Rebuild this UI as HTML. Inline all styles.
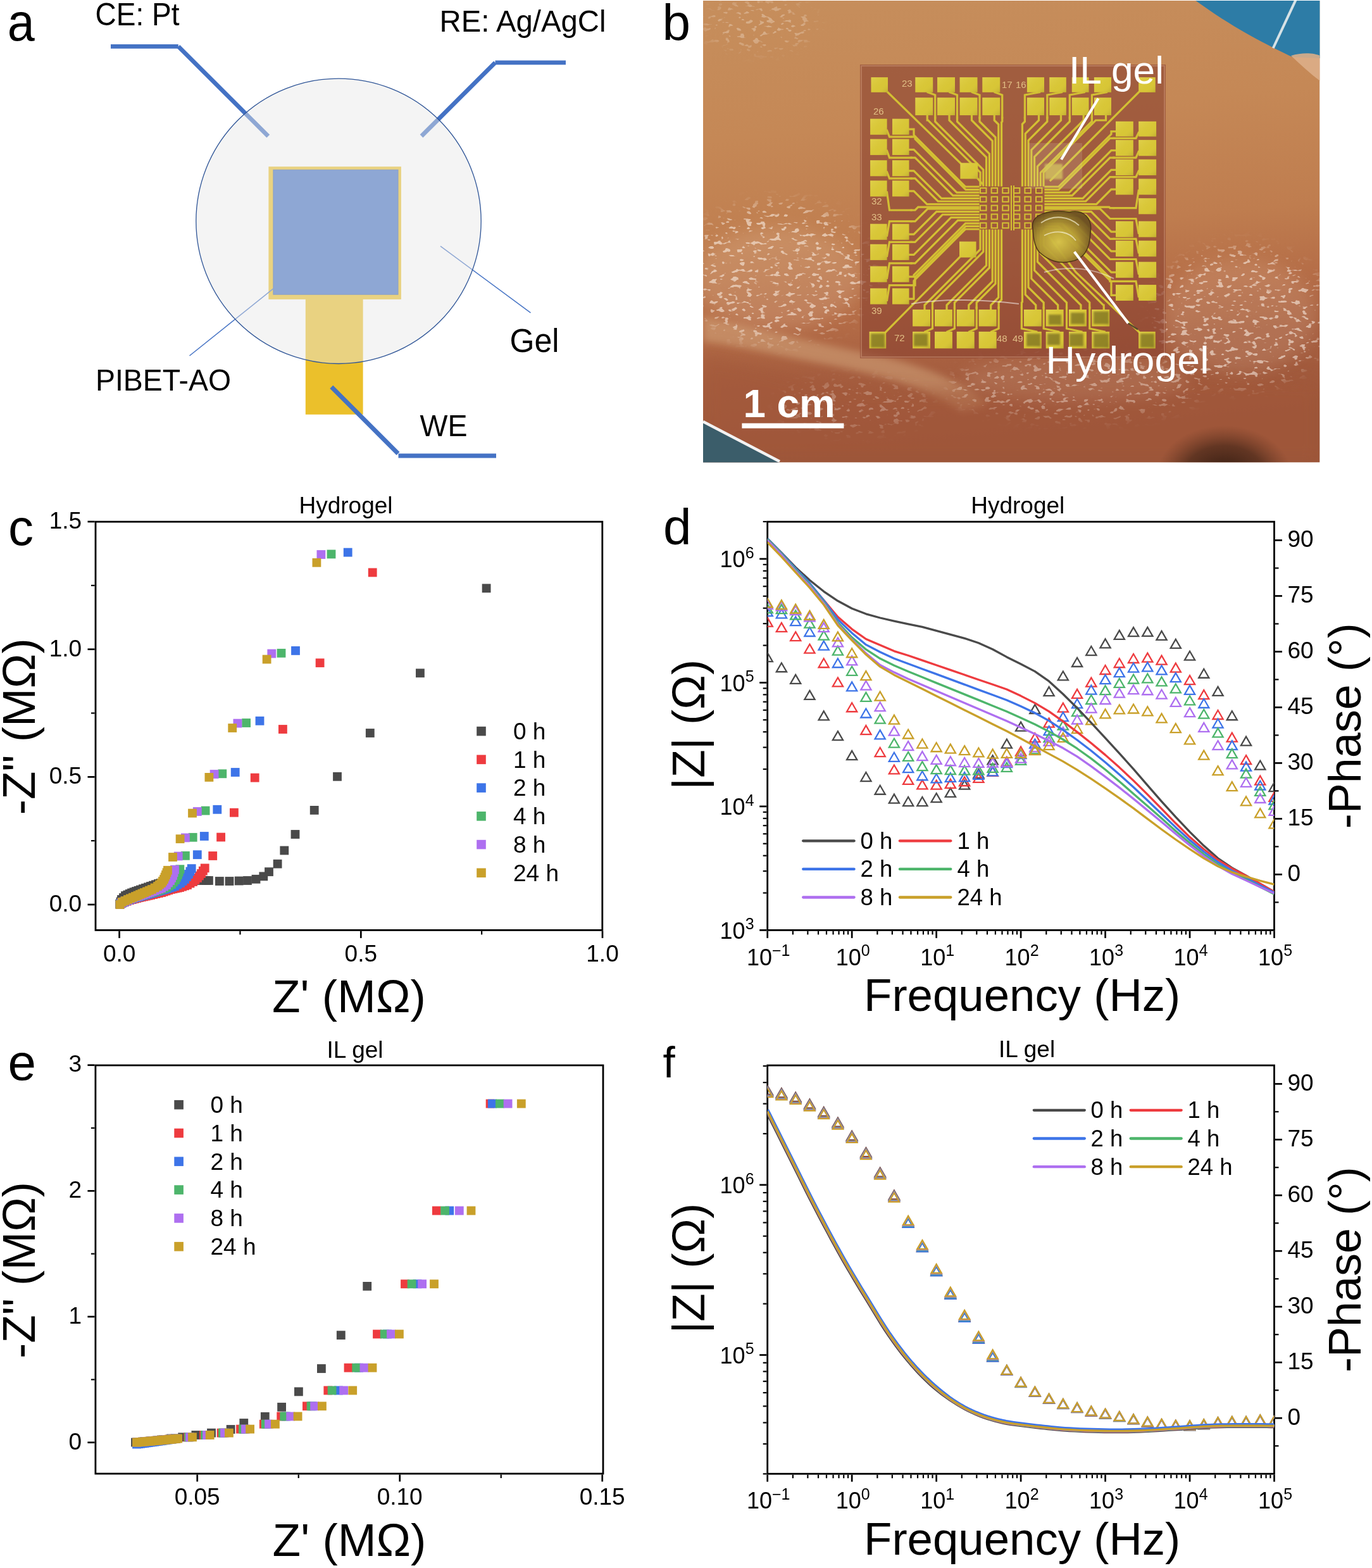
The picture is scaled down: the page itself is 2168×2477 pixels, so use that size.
<!DOCTYPE html><html><head><meta charset="utf-8"><style>html,body{margin:0;padding:0;background:#fff;}svg{display:block}</style></head><body>
<svg xmlns="http://www.w3.org/2000/svg" width="2168" height="2477" viewBox="0 0 2168 2477">
<rect width="2168" height="2477" fill="#fff"/>
<text x="11.8" y="63.5" font-family="'Liberation Sans', Arial, sans-serif" font-size="84" textLength="43" lengthAdjust="spacingAndGlyphs">a</text>
<g stroke="#4472c4" stroke-width="6.8" fill="none">
<line x1="175" y1="73.4" x2="281.8" y2="73.4"/>
<line x1="281.8" y1="73.4" x2="423.8" y2="215.2"/>
<line x1="666" y1="215" x2="782.5" y2="98.8"/>
<line x1="782.5" y1="98.8" x2="894" y2="98.8"/>
</g>
<rect x="424.4" y="263.2" width="209.5" height="209.7" fill="#ebc02b"/>
<rect x="482.8" y="472" width="90.8" height="182.8" fill="#ebc02b"/>
<rect x="431.9" y="268.3" width="197.1" height="196.9" fill="#4472c4" stroke="#3a63ad" stroke-width="1"/>
<line x1="696" y1="388.8" x2="838.5" y2="494.2" stroke="#4472c4" stroke-width="1.5"/>
<line x1="432.3" y1="455.7" x2="299.5" y2="562" stroke="#4472c4" stroke-width="1.5"/>
<circle cx="535" cy="349.3" r="225.2" fill="rgb(231,230,230)" fill-opacity="0.46" stroke="#2f5597" stroke-width="1.3"/>
<g stroke="#4472c4" stroke-width="7" fill="none">
<line x1="523.8" y1="611.3" x2="629" y2="716.5"/>
<line x1="629.5" y1="720" x2="784" y2="720"/>
</g>
<text x="150.5" y="39.9" font-family="'Liberation Sans', Arial, sans-serif" font-size="50.5" textLength="133" lengthAdjust="spacingAndGlyphs">CE: Pt</text>
<text x="694.5" y="49.9" font-family="'Liberation Sans', Arial, sans-serif" font-size="48.2" textLength="263" lengthAdjust="spacingAndGlyphs">RE: Ag/AgCl</text>
<text x="805.5" y="555.5" font-family="'Liberation Sans', Arial, sans-serif" font-size="51" textLength="78" lengthAdjust="spacingAndGlyphs">Gel</text>
<text x="151" y="617" font-family="'Liberation Sans', Arial, sans-serif" font-size="49" textLength="214" lengthAdjust="spacingAndGlyphs">PIBET-AO</text>
<text x="663.5" y="689" font-family="'Liberation Sans', Arial, sans-serif" font-size="49" textLength="75" lengthAdjust="spacingAndGlyphs">WE</text>
<defs><clipPath id="pc"><rect x="1111" y="1" width="974.5" height="729.5"/></clipPath><linearGradient id="bgv" x1="0" y1="0" x2="0.12" y2="1"><stop offset="0" stop-color="#c68e5c"/><stop offset="0.3" stop-color="#c58856"/><stop offset="0.55" stop-color="#bf7d4f"/><stop offset="0.7" stop-color="#b56d47"/><stop offset="0.82" stop-color="#a75f40"/><stop offset="1" stop-color="#9b5539"/></linearGradient><radialGradient id="br" cx="0.845" cy="1.03" r="0.11"><stop offset="0" stop-color="#2a160d" stop-opacity="0.95"/><stop offset="0.6" stop-color="#3a2014" stop-opacity="0.6"/><stop offset="1" stop-color="#5a2f1d" stop-opacity="0"/></radialGradient><filter id="bl6" x="-20%" y="-20%" width="140%" height="140%"><feGaussianBlur stdDeviation="6"/></filter><filter id="bl12" x="-30%" y="-30%" width="160%" height="160%"><feGaussianBlur stdDeviation="12"/></filter><filter id="bl2"><feGaussianBlur stdDeviation="1.5"/></filter><filter id="spk" x="0" y="0" width="100%" height="100%"><feTurbulence type="fractalNoise" baseFrequency="0.09 0.16" numOctaves="2" seed="7" result="n"/><feColorMatrix in="n" type="matrix" values="0 0 0 0 1  0 0 0 0 0.95  0 0 0 0 0.9  0 0 0 14 -8.6"/></filter><linearGradient id="padsh" x1="0" y1="0" x2="1" y2="1"><stop offset="0" stop-color="#f0e470" stop-opacity="0.35"/><stop offset="0.6" stop-color="#e0d050" stop-opacity="0"/><stop offset="1" stop-color="#8a7a20" stop-opacity="0.3"/></linearGradient><radialGradient id="blob" cx="0.45" cy="0.6" r="0.6"><stop offset="0" stop-color="#d9c84a"/><stop offset="0.55" stop-color="#b39a34"/><stop offset="1" stop-color="#6d5222"/></radialGradient><mask id="mspk"><rect x="1111" y="1" width="975" height="730" fill="#000"/><ellipse cx="1230" cy="430" rx="150" ry="110" fill="#fff" filter="url(#bl12)"/><ellipse cx="1960" cy="500" rx="140" ry="110" fill="#fff" filter="url(#bl12)"/><ellipse cx="1700" cy="610" rx="200" ry="50" fill="#aaa" filter="url(#bl12)"/><ellipse cx="1200" cy="40" rx="90" ry="40" fill="#888" filter="url(#bl12)"/><ellipse cx="1350" cy="640" rx="120" ry="40" fill="#777" filter="url(#bl12)"/></mask></defs>
<g clip-path="url(#pc)">
<rect x="1111" y="1" width="974.5" height="729.5" fill="url(#bgv)"/>
<path d="M1111,500 C1200,520 1300,545 1380,560 C1450,575 1520,600 1560,640 L1520,650 C1460,610 1380,590 1300,575 C1220,560 1160,545 1111,540Z" fill="#d3a57c" opacity="0.55" filter="url(#bl6)"/>
<path d="M1111,560 C1300,600 1450,640 1600,600 C1750,570 1950,600 2086,600 L2086,731 L1111,731Z" fill="#a2583b" opacity="0.6" filter="url(#bl12)"/>
<rect x="1111" y="1" width="974.5" height="729.5" fill="url(#br)"/>
<rect x="1111" y="1" width="975" height="730" filter="url(#spk)" mask="url(#mspk)" opacity="0.55"/>
<ellipse cx="1230" cy="440" rx="130" ry="80" fill="#f4dcc4" opacity="0.16" filter="url(#bl12)"/>
<ellipse cx="1960" cy="500" rx="120" ry="90" fill="#f4dcc4" opacity="0.14" filter="url(#bl12)"/>
<ellipse cx="1700" cy="600" rx="180" ry="35" fill="#f4dcc4" opacity="0.12" filter="url(#bl12)"/>
<path d="M1888,0 L2086,0 L2086,92 L2042,90 C2000,70 1950,45 1888,0Z" fill="#2d7ca6"/>
<path d="M2040,88 C2058,82 2078,84 2086,88 L2086,128 C2070,116 2055,102 2040,88Z" fill="#dcae88" opacity="0.9"/>
<line x1="2047.5" y1="0" x2="2011.8" y2="76" stroke="#d6e2e6" stroke-width="4"/>
<path d="M1111,668 L1232,731 L1111,731Z" fill="#3b5d6a"/>
<path d="M1111,666 L1232,729" stroke="#f2f2f2" stroke-width="4.5" fill="none"/>
<rect x="1359" y="102" width="483" height="464" fill="#8a4230" opacity="0.62"/>
<rect x="1361" y="104" width="479" height="460" fill="none" stroke="#e0b090" stroke-width="2" opacity="0.35"/>
<g stroke="#d3c033" stroke-width="3.2" fill="none" stroke-linejoin="miter" stroke-linecap="square">
<polyline points="1401.6,206.2 1405.5,216.2 1440.0,216.2"/>
<polyline points="1401.6,238.3 1405.5,249.1 1440.0,249.1"/>
<polyline points="1401.6,271.8 1405.5,281.8 1440.0,281.8"/>
<polyline points="1401.6,303.9 1405.5,332.0 1440.0,332.0"/>
<polyline points="1401.6,372.2 1405.5,349.7 1440.0,349.7"/>
<polyline points="1401.6,404.4 1405.5,382.3 1440.0,382.3"/>
<polyline points="1401.6,439.1 1405.5,415.8 1440.0,415.8"/>
<polyline points="1401.6,474.1 1405.5,450.6 1440.0,450.6"/>
<polyline points="1436.5,204.2 1444.0,204.2 1444.0,213.4 1525.6,295.0 1546.0,295.0"/>
<polyline points="1440.0,216.2 1446.0,216.2 1446.0,219.6 1526.0,299.6 1546.0,299.6"/>
<polyline points="1436.5,236.3 1444.0,236.3 1511.9,304.2 1546.0,304.2"/>
<polyline points="1440.0,249.1 1446.0,249.1 1505.8,308.8 1546.0,308.8"/>
<polyline points="1436.5,269.8 1444.0,269.8 1487.7,313.4 1546.0,313.4"/>
<polyline points="1440.0,281.8 1446.0,281.8 1482.2,318.0 1546.0,318.0"/>
<polyline points="1436.5,301.9 1444.0,301.9 1464.8,322.6 1546.0,322.6"/>
<polyline points="1440.0,332.0 1446.0,332.0 1450.8,327.2 1546.0,327.2"/>
<polyline points="1440.0,349.7 1446.0,349.7 1465.9,329.8 1546.0,329.8"/>
<polyline points="1436.5,370.2 1444.0,370.2 1479.8,334.4 1546.0,334.4"/>
<polyline points="1440.0,382.3 1446.0,382.3 1489.3,339.0 1546.0,339.0"/>
<polyline points="1436.5,402.4 1444.0,402.4 1502.8,343.6 1546.0,343.6"/>
<polyline points="1440.0,415.8 1446.0,415.8 1513.5,348.2 1546.0,348.2"/>
<polyline points="1436.5,437.1 1444.0,437.1 1444.0,434.4 1525.6,352.8 1546.0,352.8"/>
<polyline points="1440.0,450.6 1446.0,450.6 1446.0,437.4 1526.0,357.4 1546.0,357.4"/>
<polyline points="1436.5,472.1 1444.0,472.1 1444.0,443.6 1525.6,362.0 1546.0,362.0"/>
<polyline points="1799.2,209.7 1795.0,218.3 1760.0,218.3"/>
<polyline points="1799.2,239.7 1795.0,249.1 1760.0,249.1"/>
<polyline points="1799.2,270.4 1795.0,279.7 1760.0,279.7"/>
<polyline points="1799.2,301.1 1795.0,328.6 1760.0,328.6"/>
<polyline points="1799.2,368.1 1795.0,345.5 1760.0,345.5"/>
<polyline points="1799.2,398.8 1795.0,377.4 1760.0,377.4"/>
<polyline points="1799.2,432.2 1795.0,409.5 1760.0,409.5"/>
<polyline points="1799.2,468.4 1795.0,444.4 1760.0,444.4"/>
<polyline points="1763.0,207.7 1756.0,207.7 1756.0,211.8 1672.8,295.0 1652.0,295.0"/>
<polyline points="1760.0,218.3 1754.0,218.3 1672.8,299.6 1652.0,299.6"/>
<polyline points="1763.0,237.7 1756.0,237.7 1689.5,304.2 1652.0,304.2"/>
<polyline points="1760.0,249.1 1754.0,249.1 1694.2,308.8 1652.0,308.8"/>
<polyline points="1763.0,268.4 1756.0,268.4 1711.0,313.4 1652.0,313.4"/>
<polyline points="1760.0,279.7 1754.0,279.7 1715.7,318.0 1652.0,318.0"/>
<polyline points="1763.0,299.1 1756.0,299.1 1732.5,322.6 1652.0,322.6"/>
<polyline points="1760.0,328.6 1754.0,328.6 1752.7,327.2 1652.0,327.2"/>
<polyline points="1760.0,345.5 1754.0,345.5 1738.3,329.8 1652.0,329.8"/>
<polyline points="1763.0,366.1 1756.0,366.1 1724.3,334.4 1652.0,334.4"/>
<polyline points="1760.0,377.4 1754.0,377.4 1715.6,339.0 1652.0,339.0"/>
<polyline points="1763.0,396.8 1756.0,396.8 1702.8,343.6 1652.0,343.6"/>
<polyline points="1760.0,409.5 1754.0,409.5 1692.7,348.2 1652.0,348.2"/>
<polyline points="1763.0,430.2 1756.0,430.2 1678.5,352.8 1652.0,352.8"/>
<polyline points="1760.0,444.4 1754.0,444.4 1754.0,439.0 1672.4,357.4 1652.0,357.4"/>
<polyline points="1763.0,466.4 1756.0,466.4 1756.0,445.2 1672.8,362.0 1652.0,362.0"/>
<polyline points="1466.2,145.8 1477.7,150.0 1477.7,186.0"/>
<polyline points="1501.0,145.8 1512.5,150.0 1512.5,186.0"/>
<polyline points="1536.5,145.8 1548.0,150.0 1548.0,186.0"/>
<polyline points="1572.2,145.8 1583.7,150.0 1583.7,186.0"/>
<polyline points="1642.5,145.8 1619.4,150.0 1619.4,186.0"/>
<polyline points="1677.5,145.8 1654.8,150.0 1654.8,186.0"/>
<polyline points="1713.2,145.8 1690.3,150.0 1690.3,186.0"/>
<polyline points="1748.5,145.8 1725.4,150.0 1725.4,186.0"/>
<polyline points="1465.2,182.1 1465.2,190.0 1466.6,190.0 1549.0,272.4 1549.0,293.0"/>
<polyline points="1477.7,186.0 1477.7,192.0 1553.8,268.1 1553.8,293.0"/>
<polyline points="1500.0,182.1 1500.0,190.0 1558.6,248.5 1558.6,293.0"/>
<polyline points="1512.5,186.0 1512.5,192.0 1563.4,242.9 1563.4,293.0"/>
<polyline points="1535.5,182.1 1535.5,190.0 1568.2,222.7 1568.2,293.0"/>
<polyline points="1548.0,186.0 1548.0,192.0 1573.0,217.0 1573.0,293.0"/>
<polyline points="1571.2,182.1 1571.2,190.0 1577.8,196.5 1577.8,293.0"/>
<polyline points="1583.7,186.0 1583.7,192.0 1582.6,193.1 1582.6,293.0"/>
<polyline points="1619.4,186.0 1619.4,192.0 1615.4,196.0 1615.4,293.0"/>
<polyline points="1641.5,182.1 1641.5,190.0 1620.2,211.2 1620.2,293.0"/>
<polyline points="1654.8,186.0 1654.8,192.0 1625.0,221.8 1625.0,293.0"/>
<polyline points="1676.5,182.1 1676.5,190.0 1629.8,236.8 1629.8,293.0"/>
<polyline points="1690.3,186.0 1690.3,192.0 1634.6,247.7 1634.6,293.0"/>
<polyline points="1712.2,182.1 1712.2,190.0 1639.4,262.8 1639.4,293.0"/>
<polyline points="1725.4,186.0 1725.4,192.0 1725.0,192.0 1644.2,272.8 1644.2,293.0"/>
<polyline points="1747.5,182.1 1747.5,190.0 1731.4,190.0 1649.0,272.4 1649.0,293.0"/>
<polyline points="1462.0,523.9 1473.5,519.0 1473.5,486.0"/>
<polyline points="1497.0,523.9 1508.4,519.0 1508.4,486.0"/>
<polyline points="1531.8,523.9 1543.2,519.0 1543.2,486.0"/>
<polyline points="1566.7,523.9 1578.1,519.0 1578.1,486.0"/>
<polyline points="1637.8,523.9 1614.4,519.0 1614.4,486.0"/>
<polyline points="1672.7,523.9 1649.2,519.0 1649.2,486.0"/>
<polyline points="1709.0,523.9 1685.5,519.0 1685.5,486.0"/>
<polyline points="1745.2,523.9 1721.8,519.0 1721.8,486.0"/>
<polyline points="1461.0,489.0 1461.0,482.0 1549.0,394.0 1549.0,364.0"/>
<polyline points="1473.5,486.0 1473.5,478.0 1553.8,397.7 1553.8,364.0"/>
<polyline points="1496.0,489.0 1496.0,482.0 1558.6,419.4 1558.6,364.0"/>
<polyline points="1508.4,486.0 1508.4,478.0 1563.4,423.0 1563.4,364.0"/>
<polyline points="1530.8,489.0 1530.8,482.0 1568.2,444.5 1568.2,364.0"/>
<polyline points="1543.2,486.0 1543.2,478.0 1573.0,448.2 1573.0,364.0"/>
<polyline points="1565.7,489.0 1565.7,482.0 1577.8,469.9 1577.8,364.0"/>
<polyline points="1578.1,486.0 1578.1,478.0 1582.6,473.5 1582.6,364.0"/>
<polyline points="1614.4,486.0 1614.4,478.0 1615.4,477.0 1615.4,364.0"/>
<polyline points="1636.8,489.0 1636.8,482.0 1620.2,465.4 1620.2,364.0"/>
<polyline points="1649.2,486.0 1649.2,478.0 1625.0,453.8 1625.0,364.0"/>
<polyline points="1671.7,489.0 1671.7,482.0 1629.8,440.1 1629.8,364.0"/>
<polyline points="1685.5,486.0 1685.5,478.0 1634.6,427.1 1634.6,364.0"/>
<polyline points="1708.0,489.0 1708.0,482.0 1639.4,413.5 1639.4,364.0"/>
<polyline points="1721.8,486.0 1721.8,478.0 1644.2,400.4 1644.2,364.0"/>
<polyline points="1744.2,489.0 1744.2,482.0 1743.4,482.0 1649.0,387.6 1649.0,364.0"/>
<polyline points="1403.0,146.0 1517.4,257.4"/>
<polyline points="1545.3,282.5 1552.0,290.0"/>
<polyline points="1799.0,146.0 1690.0,255.0 1660.0,285.0"/>
<polyline points="1400.2,523.9 1516.0,406.7"/>
<polyline points="1799.2,523.9 1700.0,430.0 1655.0,370.0"/>
</g>
<g stroke="#d3c033" stroke-width="2" fill="none">
<rect x="1549.0" y="297.0" width="9.5" height="8"/>
<rect x="1549.0" y="310.8" width="9.5" height="8"/>
<rect x="1549.0" y="324.6" width="9.5" height="8"/>
<rect x="1549.0" y="338.4" width="9.5" height="8"/>
<rect x="1549.0" y="352.2" width="9.5" height="8"/>
<rect x="1566.6" y="297.0" width="9.5" height="8"/>
<rect x="1566.6" y="310.8" width="9.5" height="8"/>
<rect x="1566.6" y="324.6" width="9.5" height="8"/>
<rect x="1566.6" y="338.4" width="9.5" height="8"/>
<rect x="1566.6" y="352.2" width="9.5" height="8"/>
<rect x="1584.2" y="297.0" width="9.5" height="8"/>
<rect x="1584.2" y="310.8" width="9.5" height="8"/>
<rect x="1584.2" y="324.6" width="9.5" height="8"/>
<rect x="1584.2" y="338.4" width="9.5" height="8"/>
<rect x="1584.2" y="352.2" width="9.5" height="8"/>
<rect x="1601.8" y="297.0" width="9.5" height="8"/>
<rect x="1601.8" y="310.8" width="9.5" height="8"/>
<rect x="1601.8" y="324.6" width="9.5" height="8"/>
<rect x="1601.8" y="338.4" width="9.5" height="8"/>
<rect x="1601.8" y="352.2" width="9.5" height="8"/>
<rect x="1619.4" y="297.0" width="9.5" height="8"/>
<rect x="1619.4" y="310.8" width="9.5" height="8"/>
<rect x="1619.4" y="324.6" width="9.5" height="8"/>
<rect x="1619.4" y="338.4" width="9.5" height="8"/>
<rect x="1619.4" y="352.2" width="9.5" height="8"/>
<rect x="1637.0" y="297.0" width="9.5" height="8"/>
<rect x="1637.0" y="310.8" width="9.5" height="8"/>
<rect x="1637.0" y="324.6" width="9.5" height="8"/>
<rect x="1637.0" y="338.4" width="9.5" height="8"/>
<rect x="1637.0" y="352.2" width="9.5" height="8"/>
<line x1="1598" y1="293" x2="1598" y2="364"/><line x1="1602" y1="293" x2="1602" y2="364"/>
</g>
<g fill="#d8c636">
<rect x="1376.5" y="122.1" width="26.5" height="23.7"/>
<rect x="1446.3" y="122.1" width="27.9" height="23.7"/>
<rect x="1481.1" y="122.1" width="27.9" height="23.7"/>
<rect x="1516.6" y="122.1" width="27.9" height="23.7"/>
<rect x="1552.3" y="122.1" width="27.9" height="23.7"/>
<rect x="1622.9" y="122.1" width="27.1" height="23.7"/>
<rect x="1658.3" y="122.1" width="26.5" height="23.7"/>
<rect x="1693.8" y="122.1" width="26.7" height="23.7"/>
<rect x="1728.9" y="122.1" width="27.1" height="23.7"/>
<rect x="1799.2" y="122.1" width="26.5" height="23.7"/>
<rect x="1446.3" y="154.2" width="27.9" height="27.9"/>
<rect x="1481.1" y="154.2" width="27.9" height="27.9"/>
<rect x="1516.6" y="154.2" width="27.9" height="27.9"/>
<rect x="1552.3" y="154.2" width="27.9" height="27.9"/>
<rect x="1622.9" y="154.2" width="27.1" height="27.9"/>
<rect x="1658.3" y="154.2" width="26.5" height="27.9"/>
<rect x="1693.8" y="154.2" width="26.7" height="27.9"/>
<rect x="1728.9" y="154.2" width="27.1" height="27.9"/>
<rect x="1375.1" y="187.7" width="26.5" height="25.1"/>
<rect x="1410.0" y="187.7" width="26.5" height="25.1"/>
<rect x="1375.1" y="219.7" width="26.5" height="25.2"/>
<rect x="1410.0" y="219.7" width="26.5" height="25.2"/>
<rect x="1375.1" y="253.2" width="26.5" height="25.1"/>
<rect x="1410.0" y="253.2" width="26.5" height="25.1"/>
<rect x="1375.1" y="285.3" width="26.5" height="25.1"/>
<rect x="1410.0" y="285.3" width="26.5" height="25.1"/>
<rect x="1375.1" y="353.7" width="26.5" height="25.1"/>
<rect x="1410.0" y="353.7" width="26.5" height="25.1"/>
<rect x="1375.1" y="385.8" width="26.5" height="25.1"/>
<rect x="1410.0" y="385.8" width="26.5" height="25.1"/>
<rect x="1375.1" y="420.6" width="26.5" height="25.1"/>
<rect x="1410.0" y="420.6" width="26.5" height="25.1"/>
<rect x="1375.1" y="455.5" width="26.5" height="25.1"/>
<rect x="1410.0" y="455.5" width="26.5" height="25.1"/>
<rect x="1763.0" y="191.8" width="27.8" height="23.8"/>
<rect x="1799.2" y="191.8" width="27.9" height="23.8"/>
<rect x="1763.0" y="221.1" width="27.8" height="25.2"/>
<rect x="1799.2" y="221.1" width="27.9" height="25.2"/>
<rect x="1763.0" y="251.8" width="27.8" height="25.1"/>
<rect x="1799.2" y="251.8" width="27.9" height="25.1"/>
<rect x="1763.0" y="282.5" width="27.8" height="25.1"/>
<rect x="1799.2" y="282.5" width="27.9" height="25.1"/>
<rect x="1763.0" y="349.5" width="27.8" height="25.1"/>
<rect x="1799.2" y="349.5" width="27.9" height="25.1"/>
<rect x="1763.0" y="380.2" width="27.8" height="25.1"/>
<rect x="1799.2" y="380.2" width="27.9" height="25.1"/>
<rect x="1763.0" y="413.7" width="27.8" height="25.1"/>
<rect x="1799.2" y="413.7" width="27.9" height="25.1"/>
<rect x="1763.0" y="449.9" width="27.8" height="25.1"/>
<rect x="1799.2" y="449.9" width="27.9" height="25.1"/>
<rect x="1799.2" y="313.2" width="27.9" height="25.1"/>
<rect x="1442.1" y="489.0" width="27.9" height="26.5"/>
<rect x="1477.0" y="489.0" width="27.9" height="26.5"/>
<rect x="1511.8" y="489.0" width="27.9" height="26.5"/>
<rect x="1546.7" y="489.0" width="27.9" height="26.5"/>
<rect x="1617.9" y="489.0" width="27.9" height="26.5"/>
<rect x="1652.7" y="489.0" width="27.9" height="26.5"/>
<rect x="1689.0" y="489.0" width="27.9" height="26.5"/>
<rect x="1725.3" y="489.0" width="27.9" height="26.5"/>
<rect x="1373.7" y="523.9" width="26.5" height="26.5"/>
<rect x="1442.1" y="523.9" width="27.9" height="26.5"/>
<rect x="1477.0" y="523.9" width="27.9" height="26.5"/>
<rect x="1511.8" y="523.9" width="27.9" height="26.5"/>
<rect x="1546.7" y="523.9" width="27.9" height="26.5"/>
<rect x="1617.9" y="523.9" width="27.9" height="26.5"/>
<rect x="1652.7" y="523.9" width="27.9" height="26.5"/>
<rect x="1689.0" y="523.9" width="27.9" height="26.5"/>
<rect x="1725.3" y="523.9" width="27.9" height="26.5"/>
<rect x="1799.2" y="523.9" width="26.5" height="26.5"/>
<rect x="1517.4" y="257.4" width="27.9" height="25.1"/>
<rect x="1516.0" y="381.6" width="26.5" height="25.1"/>
</g>
<g fill="url(#padsh)">
<rect x="1376.5" y="122.1" width="26.5" height="23.7"/>
<rect x="1446.3" y="122.1" width="27.9" height="23.7"/>
<rect x="1481.1" y="122.1" width="27.9" height="23.7"/>
<rect x="1516.6" y="122.1" width="27.9" height="23.7"/>
<rect x="1552.3" y="122.1" width="27.9" height="23.7"/>
<rect x="1622.9" y="122.1" width="27.1" height="23.7"/>
<rect x="1658.3" y="122.1" width="26.5" height="23.7"/>
<rect x="1693.8" y="122.1" width="26.7" height="23.7"/>
<rect x="1728.9" y="122.1" width="27.1" height="23.7"/>
<rect x="1799.2" y="122.1" width="26.5" height="23.7"/>
<rect x="1446.3" y="154.2" width="27.9" height="27.9"/>
<rect x="1481.1" y="154.2" width="27.9" height="27.9"/>
<rect x="1516.6" y="154.2" width="27.9" height="27.9"/>
<rect x="1552.3" y="154.2" width="27.9" height="27.9"/>
<rect x="1622.9" y="154.2" width="27.1" height="27.9"/>
<rect x="1658.3" y="154.2" width="26.5" height="27.9"/>
<rect x="1693.8" y="154.2" width="26.7" height="27.9"/>
<rect x="1728.9" y="154.2" width="27.1" height="27.9"/>
<rect x="1375.1" y="187.7" width="26.5" height="25.1"/>
<rect x="1410.0" y="187.7" width="26.5" height="25.1"/>
<rect x="1375.1" y="219.7" width="26.5" height="25.2"/>
<rect x="1410.0" y="219.7" width="26.5" height="25.2"/>
<rect x="1375.1" y="253.2" width="26.5" height="25.1"/>
<rect x="1410.0" y="253.2" width="26.5" height="25.1"/>
<rect x="1375.1" y="285.3" width="26.5" height="25.1"/>
<rect x="1410.0" y="285.3" width="26.5" height="25.1"/>
<rect x="1375.1" y="353.7" width="26.5" height="25.1"/>
<rect x="1410.0" y="353.7" width="26.5" height="25.1"/>
<rect x="1375.1" y="385.8" width="26.5" height="25.1"/>
<rect x="1410.0" y="385.8" width="26.5" height="25.1"/>
<rect x="1375.1" y="420.6" width="26.5" height="25.1"/>
<rect x="1410.0" y="420.6" width="26.5" height="25.1"/>
<rect x="1375.1" y="455.5" width="26.5" height="25.1"/>
<rect x="1410.0" y="455.5" width="26.5" height="25.1"/>
<rect x="1763.0" y="191.8" width="27.8" height="23.8"/>
<rect x="1799.2" y="191.8" width="27.9" height="23.8"/>
<rect x="1763.0" y="221.1" width="27.8" height="25.2"/>
<rect x="1799.2" y="221.1" width="27.9" height="25.2"/>
<rect x="1763.0" y="251.8" width="27.8" height="25.1"/>
<rect x="1799.2" y="251.8" width="27.9" height="25.1"/>
<rect x="1763.0" y="282.5" width="27.8" height="25.1"/>
<rect x="1799.2" y="282.5" width="27.9" height="25.1"/>
<rect x="1763.0" y="349.5" width="27.8" height="25.1"/>
<rect x="1799.2" y="349.5" width="27.9" height="25.1"/>
<rect x="1763.0" y="380.2" width="27.8" height="25.1"/>
<rect x="1799.2" y="380.2" width="27.9" height="25.1"/>
<rect x="1763.0" y="413.7" width="27.8" height="25.1"/>
<rect x="1799.2" y="413.7" width="27.9" height="25.1"/>
<rect x="1763.0" y="449.9" width="27.8" height="25.1"/>
<rect x="1799.2" y="449.9" width="27.9" height="25.1"/>
<rect x="1799.2" y="313.2" width="27.9" height="25.1"/>
<rect x="1442.1" y="489.0" width="27.9" height="26.5"/>
<rect x="1477.0" y="489.0" width="27.9" height="26.5"/>
<rect x="1511.8" y="489.0" width="27.9" height="26.5"/>
<rect x="1546.7" y="489.0" width="27.9" height="26.5"/>
<rect x="1617.9" y="489.0" width="27.9" height="26.5"/>
<rect x="1652.7" y="489.0" width="27.9" height="26.5"/>
<rect x="1689.0" y="489.0" width="27.9" height="26.5"/>
<rect x="1725.3" y="489.0" width="27.9" height="26.5"/>
<rect x="1373.7" y="523.9" width="26.5" height="26.5"/>
<rect x="1442.1" y="523.9" width="27.9" height="26.5"/>
<rect x="1477.0" y="523.9" width="27.9" height="26.5"/>
<rect x="1511.8" y="523.9" width="27.9" height="26.5"/>
<rect x="1546.7" y="523.9" width="27.9" height="26.5"/>
<rect x="1617.9" y="523.9" width="27.9" height="26.5"/>
<rect x="1652.7" y="523.9" width="27.9" height="26.5"/>
<rect x="1689.0" y="523.9" width="27.9" height="26.5"/>
<rect x="1725.3" y="523.9" width="27.9" height="26.5"/>
<rect x="1799.2" y="523.9" width="26.5" height="26.5"/>
<rect x="1517.4" y="257.4" width="27.9" height="25.1"/>
<rect x="1516.0" y="381.6" width="26.5" height="25.1"/>
</g>
<rect x="1728" y="492" width="24" height="20" fill="#4d4418" opacity="0.5" filter="url(#bl2)"/>
<rect x="1692" y="494" width="22" height="18" fill="#4d4418" opacity="0.5" filter="url(#bl2)"/>
<rect x="1657" y="497" width="20" height="16" fill="#4d4418" opacity="0.5" filter="url(#bl2)"/>
<rect x="1622" y="527" width="22" height="20" fill="#4d4418" opacity="0.5" filter="url(#bl2)"/>
<rect x="1728" y="527" width="24" height="22" fill="#4d4418" opacity="0.5" filter="url(#bl2)"/>
<rect x="1376" y="527" width="22" height="22" fill="#4d4418" opacity="0.5" filter="url(#bl2)"/>
<rect x="1802" y="527" width="22" height="22" fill="#4d4418" opacity="0.5" filter="url(#bl2)"/>
<rect x="1444" y="527" width="22" height="20" fill="#4d4418" opacity="0.5" filter="url(#bl2)"/>
<rect x="1690" y="527" width="22" height="20" fill="#4d4418" opacity="0.5" filter="url(#bl2)"/>
<rect x="1655" y="527" width="20" height="18" fill="#4d4418" opacity="0.5" filter="url(#bl2)"/>
<rect x="1625" y="226" width="85" height="72" fill="#e8d8c0" opacity="0.16"/>
<rect x="1651" y="259" width="28" height="24" fill="#d6c860" opacity="0.75" filter="url(#bl2)"/>
<path d="M1632,360 C1628,338 1660,330 1690,335 C1712,330 1727,345 1723,368 C1722,395 1712,410 1692,413 C1672,418 1655,410 1642,398 C1634,388 1633,375 1632,360Z" fill="url(#blob)" stroke="#4a3414" stroke-width="1.5" opacity="0.95"/>
<path d="M1645,352 C1665,338 1690,342 1705,356 M1650,372 C1670,362 1690,366 1700,380" stroke="#f3eed0" stroke-width="1.8" fill="none" opacity="0.7"/>
<path d="M1440,480 C1500,470 1560,474 1610,480" stroke="#fff" stroke-width="2" fill="none" opacity="0.5"/>
<path d="M1650,430 C1690,418 1730,425 1760,440" stroke="#fff" stroke-width="2" fill="none" opacity="0.45"/>
<text x="1425" y="137" font-family="'Liberation Sans', Arial, sans-serif" font-size="15" fill="#e8c98c" opacity="0.9">23</text>
<text x="1583" y="139" font-family="'Liberation Sans', Arial, sans-serif" font-size="15" fill="#e8c98c" opacity="0.9">17</text>
<text x="1605" y="139" font-family="'Liberation Sans', Arial, sans-serif" font-size="15" fill="#e8c98c" opacity="0.9">16</text>
<text x="1380" y="181" font-family="'Liberation Sans', Arial, sans-serif" font-size="15" fill="#e8c98c" opacity="0.9">26</text>
<text x="1377" y="323" font-family="'Liberation Sans', Arial, sans-serif" font-size="15" fill="#e8c98c" opacity="0.9">32</text>
<text x="1377" y="348" font-family="'Liberation Sans', Arial, sans-serif" font-size="15" fill="#e8c98c" opacity="0.9">33</text>
<text x="1377" y="496" font-family="'Liberation Sans', Arial, sans-serif" font-size="15" fill="#e8c98c" opacity="0.9">39</text>
<text x="1413" y="539" font-family="'Liberation Sans', Arial, sans-serif" font-size="15" fill="#e8c98c" opacity="0.9">72</text>
<text x="1575" y="540" font-family="'Liberation Sans', Arial, sans-serif" font-size="15" fill="#e8c98c" opacity="0.9">48</text>
<text x="1600" y="540" font-family="'Liberation Sans', Arial, sans-serif" font-size="15" fill="#e8c98c" opacity="0.9">49</text>
<line x1="1735.5" y1="155.5" x2="1677" y2="252" stroke="#fff" stroke-width="4.2"/>
<line x1="1697.7" y1="397.7" x2="1782.8" y2="510.7" stroke="#fff" stroke-width="4.2"/>
<line x1="1782.8" y1="510.7" x2="1798" y2="520.4" stroke="#5a4a30" stroke-width="2.5"/>
<text x="1689" y="132.1" font-family="'Liberation Sans', Arial, sans-serif" font-size="62" fill="#fff" textLength="150" lengthAdjust="spacingAndGlyphs">IL gel</text>
<text x="1652.5" y="590.3" font-family="'Liberation Sans', Arial, sans-serif" font-size="61" fill="#fff" textLength="258" lengthAdjust="spacingAndGlyphs">Hydrogel</text>
<text x="1174.5" y="659.2" font-family="'Liberation Sans', Arial, sans-serif" font-size="63.7" font-weight="bold" fill="#fff">1 cm</text>
<rect x="1172.4" y="668.6" width="161" height="8" fill="#fff"/>
</g>
<text x="1046.5" y="62.9" font-family="'Liberation Sans', Arial, sans-serif" font-size="80" font-weight="normal" text-anchor="start" fill="#000" >b</text>
<rect x="151" y="824.2" width="800.8" height="645.2" fill="none" stroke="#000" stroke-width="2.8"/>
<line x1="149.60" y1="1429.00" x2="138.50" y2="1429.00" stroke="#000" stroke-width="2.7" stroke-linecap="butt"/>
<text x="129.2" y="1439.8" font-family="'Liberation Sans', Arial, sans-serif" font-size="37" font-weight="normal" text-anchor="end" fill="#000" >0.0</text>
<line x1="149.60" y1="1227.35" x2="138.50" y2="1227.35" stroke="#000" stroke-width="2.7" stroke-linecap="butt"/>
<text x="129.2" y="1238.1" font-family="'Liberation Sans', Arial, sans-serif" font-size="37" font-weight="normal" text-anchor="end" fill="#000" >0.5</text>
<line x1="149.60" y1="1025.70" x2="138.50" y2="1025.70" stroke="#000" stroke-width="2.7" stroke-linecap="butt"/>
<text x="129.2" y="1036.5" font-family="'Liberation Sans', Arial, sans-serif" font-size="37" font-weight="normal" text-anchor="end" fill="#000" >1.0</text>
<line x1="149.60" y1="824.05" x2="138.50" y2="824.05" stroke="#000" stroke-width="2.7" stroke-linecap="butt"/>
<text x="129.2" y="834.8" font-family="'Liberation Sans', Arial, sans-serif" font-size="37" font-weight="normal" text-anchor="end" fill="#000" >1.5</text>
<line x1="149.60" y1="1328.17" x2="144.00" y2="1328.17" stroke="#000" stroke-width="2.2" stroke-linecap="butt"/>
<line x1="149.60" y1="1126.53" x2="144.00" y2="1126.53" stroke="#000" stroke-width="2.2" stroke-linecap="butt"/>
<line x1="149.60" y1="924.88" x2="144.00" y2="924.88" stroke="#000" stroke-width="2.2" stroke-linecap="butt"/>
<line x1="188.60" y1="1470.80" x2="188.60" y2="1481.90" stroke="#000" stroke-width="2.7" stroke-linecap="butt"/>
<text x="188.6" y="1518.6" font-family="'Liberation Sans', Arial, sans-serif" font-size="37" font-weight="normal" text-anchor="middle" fill="#000" >0.0</text>
<line x1="570.30" y1="1470.80" x2="570.30" y2="1481.90" stroke="#000" stroke-width="2.7" stroke-linecap="butt"/>
<text x="570.3" y="1518.6" font-family="'Liberation Sans', Arial, sans-serif" font-size="37" font-weight="normal" text-anchor="middle" fill="#000" >0.5</text>
<line x1="952.00" y1="1470.80" x2="952.00" y2="1481.90" stroke="#000" stroke-width="2.7" stroke-linecap="butt"/>
<text x="952.0" y="1518.6" font-family="'Liberation Sans', Arial, sans-serif" font-size="37" font-weight="normal" text-anchor="middle" fill="#000" >1.0</text>
<line x1="379.45" y1="1470.80" x2="379.45" y2="1476.40" stroke="#000" stroke-width="2.2" stroke-linecap="butt"/>
<line x1="761.15" y1="1470.80" x2="761.15" y2="1476.40" stroke="#000" stroke-width="2.2" stroke-linecap="butt"/>
<text x="546.5" y="810.8" font-family="'Liberation Sans', Arial, sans-serif" font-size="37" font-weight="normal" text-anchor="middle" fill="#000" >Hydrogel</text>
<text x="13.0" y="860.5" font-family="'Liberation Sans', Arial, sans-serif" font-size="80" font-weight="normal" text-anchor="start" fill="#000" >c</text>
<text x="551.4" y="1599.2" font-family="'Liberation Sans', Arial, sans-serif" font-size="73" font-weight="normal" text-anchor="middle" fill="#000" >Z' (M&#937;)</text>
<text transform="translate(55,1147.8000000000002) rotate(-90)" x="0" y="0" font-family="'Liberation Sans', Arial, sans-serif" font-size="73" text-anchor="middle">-Z" (M&#937;)</text>
<g>
<rect x="761.70" y="922.40" width="13.8" height="13.8" fill="#4a4a4a"/>
<rect x="657.00" y="1056.40" width="13.8" height="13.8" fill="#4a4a4a"/>
<rect x="577.90" y="1151.10" width="13.8" height="13.8" fill="#4a4a4a"/>
<rect x="526.10" y="1219.90" width="13.8" height="13.8" fill="#4a4a4a"/>
<rect x="489.80" y="1273.00" width="13.8" height="13.8" fill="#4a4a4a"/>
<rect x="459.60" y="1311.10" width="13.8" height="13.8" fill="#4a4a4a"/>
<rect x="442.40" y="1336.60" width="13.8" height="13.8" fill="#4a4a4a"/>
<rect x="431.70" y="1357.80" width="13.8" height="13.8" fill="#4a4a4a"/>
<rect x="418.10" y="1370.30" width="13.8" height="13.8" fill="#4a4a4a"/>
<rect x="409.40" y="1377.50" width="13.8" height="13.8" fill="#4a4a4a"/>
<rect x="397.60" y="1381.90" width="13.8" height="13.8" fill="#4a4a4a"/>
<rect x="384.10" y="1384.10" width="13.8" height="13.8" fill="#4a4a4a"/>
<rect x="370.80" y="1384.60" width="13.8" height="13.8" fill="#4a4a4a"/>
<rect x="355.60" y="1385.10" width="13.8" height="13.8" fill="#4a4a4a"/>
<rect x="340.00" y="1385.10" width="13.8" height="13.8" fill="#4a4a4a"/>
<rect x="323.00" y="1384.10" width="13.8" height="13.8" fill="#4a4a4a"/>
<rect x="319.02" y="1384.00" width="13.8" height="13.8" fill="#4a4a4a"/>
<rect x="315.04" y="1383.90" width="13.8" height="13.8" fill="#4a4a4a"/>
<rect x="311.06" y="1383.80" width="13.8" height="13.8" fill="#4a4a4a"/>
<rect x="307.08" y="1383.70" width="13.8" height="13.8" fill="#4a4a4a"/>
<rect x="303.10" y="1383.60" width="13.8" height="13.8" fill="#4a4a4a"/>
<rect x="299.10" y="1383.50" width="13.8" height="13.8" fill="#4a4a4a"/>
<rect x="295.10" y="1383.40" width="13.8" height="13.8" fill="#4a4a4a"/>
<rect x="291.10" y="1383.30" width="13.8" height="13.8" fill="#4a4a4a"/>
<rect x="287.10" y="1383.20" width="13.8" height="13.8" fill="#4a4a4a"/>
<rect x="283.10" y="1383.10" width="13.8" height="13.8" fill="#4a4a4a"/>
<rect x="279.35" y="1383.22" width="13.8" height="13.8" fill="#4a4a4a"/>
<rect x="275.60" y="1383.35" width="13.8" height="13.8" fill="#4a4a4a"/>
<rect x="271.85" y="1383.47" width="13.8" height="13.8" fill="#4a4a4a"/>
<rect x="268.10" y="1383.60" width="13.8" height="13.8" fill="#4a4a4a"/>
<rect x="263.77" y="1384.27" width="13.8" height="13.8" fill="#4a4a4a"/>
<rect x="259.43" y="1384.93" width="13.8" height="13.8" fill="#4a4a4a"/>
<rect x="255.10" y="1385.60" width="13.8" height="13.8" fill="#4a4a4a"/>
<rect x="251.10" y="1386.77" width="13.8" height="13.8" fill="#4a4a4a"/>
<rect x="247.10" y="1387.93" width="13.8" height="13.8" fill="#4a4a4a"/>
<rect x="243.10" y="1389.10" width="13.8" height="13.8" fill="#4a4a4a"/>
<rect x="239.10" y="1390.43" width="13.8" height="13.8" fill="#4a4a4a"/>
<rect x="235.10" y="1391.77" width="13.8" height="13.8" fill="#4a4a4a"/>
<rect x="231.10" y="1393.10" width="13.8" height="13.8" fill="#4a4a4a"/>
<rect x="227.10" y="1394.47" width="13.8" height="13.8" fill="#4a4a4a"/>
<rect x="223.10" y="1395.85" width="13.8" height="13.8" fill="#4a4a4a"/>
<rect x="219.10" y="1397.22" width="13.8" height="13.8" fill="#4a4a4a"/>
<rect x="215.10" y="1398.60" width="13.8" height="13.8" fill="#4a4a4a"/>
<rect x="211.60" y="1399.85" width="13.8" height="13.8" fill="#4a4a4a"/>
<rect x="208.10" y="1401.10" width="13.8" height="13.8" fill="#4a4a4a"/>
<rect x="204.60" y="1402.35" width="13.8" height="13.8" fill="#4a4a4a"/>
<rect x="201.10" y="1403.60" width="13.8" height="13.8" fill="#4a4a4a"/>
<rect x="197.77" y="1405.10" width="13.8" height="13.8" fill="#4a4a4a"/>
<rect x="194.43" y="1406.60" width="13.8" height="13.8" fill="#4a4a4a"/>
<rect x="191.10" y="1408.10" width="13.8" height="13.8" fill="#4a4a4a"/>
<rect x="188.10" y="1411.10" width="13.8" height="13.8" fill="#4a4a4a"/>
<rect x="185.10" y="1414.10" width="13.8" height="13.8" fill="#4a4a4a"/>
<rect x="183.60" y="1417.60" width="13.8" height="13.8" fill="#4a4a4a"/>
<rect x="182.10" y="1421.10" width="13.8" height="13.8" fill="#4a4a4a"/>
<rect x="581.80" y="897.50" width="13.8" height="13.8" fill="#ee3b3f"/>
<rect x="498.70" y="1040.30" width="13.8" height="13.8" fill="#ee3b3f"/>
<rect x="440.00" y="1145.10" width="13.8" height="13.8" fill="#ee3b3f"/>
<rect x="395.80" y="1221.70" width="13.8" height="13.8" fill="#ee3b3f"/>
<rect x="363.00" y="1276.80" width="13.8" height="13.8" fill="#ee3b3f"/>
<rect x="342.20" y="1315.60" width="13.8" height="13.8" fill="#ee3b3f"/>
<rect x="329.30" y="1345.10" width="13.8" height="13.8" fill="#ee3b3f"/>
<rect x="316.80" y="1364.50" width="13.8" height="13.8" fill="#ee3b3f"/>
<rect x="313.95" y="1368.80" width="13.8" height="13.8" fill="#ee3b3f"/>
<rect x="311.10" y="1373.10" width="13.8" height="13.8" fill="#ee3b3f"/>
<rect x="308.10" y="1376.60" width="13.8" height="13.8" fill="#ee3b3f"/>
<rect x="305.10" y="1380.10" width="13.8" height="13.8" fill="#ee3b3f"/>
<rect x="301.60" y="1383.10" width="13.8" height="13.8" fill="#ee3b3f"/>
<rect x="298.10" y="1386.10" width="13.8" height="13.8" fill="#ee3b3f"/>
<rect x="293.60" y="1388.60" width="13.8" height="13.8" fill="#ee3b3f"/>
<rect x="289.10" y="1391.10" width="13.8" height="13.8" fill="#ee3b3f"/>
<rect x="285.10" y="1392.43" width="13.8" height="13.8" fill="#ee3b3f"/>
<rect x="281.10" y="1393.77" width="13.8" height="13.8" fill="#ee3b3f"/>
<rect x="277.10" y="1395.10" width="13.8" height="13.8" fill="#ee3b3f"/>
<rect x="273.60" y="1395.85" width="13.8" height="13.8" fill="#ee3b3f"/>
<rect x="270.10" y="1396.60" width="13.8" height="13.8" fill="#ee3b3f"/>
<rect x="266.60" y="1397.35" width="13.8" height="13.8" fill="#ee3b3f"/>
<rect x="263.10" y="1398.10" width="13.8" height="13.8" fill="#ee3b3f"/>
<rect x="259.35" y="1399.35" width="13.8" height="13.8" fill="#ee3b3f"/>
<rect x="255.60" y="1400.60" width="13.8" height="13.8" fill="#ee3b3f"/>
<rect x="251.85" y="1401.85" width="13.8" height="13.8" fill="#ee3b3f"/>
<rect x="248.10" y="1403.10" width="13.8" height="13.8" fill="#ee3b3f"/>
<rect x="243.85" y="1404.10" width="13.8" height="13.8" fill="#ee3b3f"/>
<rect x="239.60" y="1405.10" width="13.8" height="13.8" fill="#ee3b3f"/>
<rect x="235.35" y="1406.10" width="13.8" height="13.8" fill="#ee3b3f"/>
<rect x="231.10" y="1407.10" width="13.8" height="13.8" fill="#ee3b3f"/>
<rect x="227.50" y="1407.90" width="13.8" height="13.8" fill="#ee3b3f"/>
<rect x="223.90" y="1408.70" width="13.8" height="13.8" fill="#ee3b3f"/>
<rect x="220.30" y="1409.50" width="13.8" height="13.8" fill="#ee3b3f"/>
<rect x="216.70" y="1410.30" width="13.8" height="13.8" fill="#ee3b3f"/>
<rect x="213.10" y="1411.10" width="13.8" height="13.8" fill="#ee3b3f"/>
<rect x="209.35" y="1412.10" width="13.8" height="13.8" fill="#ee3b3f"/>
<rect x="205.60" y="1413.10" width="13.8" height="13.8" fill="#ee3b3f"/>
<rect x="201.85" y="1414.10" width="13.8" height="13.8" fill="#ee3b3f"/>
<rect x="198.10" y="1415.10" width="13.8" height="13.8" fill="#ee3b3f"/>
<rect x="193.77" y="1416.77" width="13.8" height="13.8" fill="#ee3b3f"/>
<rect x="189.43" y="1418.43" width="13.8" height="13.8" fill="#ee3b3f"/>
<rect x="185.10" y="1420.10" width="13.8" height="13.8" fill="#ee3b3f"/>
<rect x="542.80" y="865.70" width="13.8" height="13.8" fill="#3d74e8"/>
<rect x="460.10" y="1021.00" width="13.8" height="13.8" fill="#3d74e8"/>
<rect x="403.60" y="1131.90" width="13.8" height="13.8" fill="#3d74e8"/>
<rect x="364.80" y="1213.10" width="13.8" height="13.8" fill="#3d74e8"/>
<rect x="336.40" y="1271.90" width="13.8" height="13.8" fill="#3d74e8"/>
<rect x="315.90" y="1314.10" width="13.8" height="13.8" fill="#3d74e8"/>
<rect x="304.90" y="1343.30" width="13.8" height="13.8" fill="#3d74e8"/>
<rect x="295.80" y="1365.20" width="13.8" height="13.8" fill="#3d74e8"/>
<rect x="293.45" y="1369.65" width="13.8" height="13.8" fill="#3d74e8"/>
<rect x="291.10" y="1374.10" width="13.8" height="13.8" fill="#3d74e8"/>
<rect x="288.10" y="1378.10" width="13.8" height="13.8" fill="#3d74e8"/>
<rect x="285.10" y="1382.10" width="13.8" height="13.8" fill="#3d74e8"/>
<rect x="281.60" y="1385.10" width="13.8" height="13.8" fill="#3d74e8"/>
<rect x="278.10" y="1388.10" width="13.8" height="13.8" fill="#3d74e8"/>
<rect x="273.60" y="1390.60" width="13.8" height="13.8" fill="#3d74e8"/>
<rect x="269.10" y="1393.10" width="13.8" height="13.8" fill="#3d74e8"/>
<rect x="265.10" y="1394.43" width="13.8" height="13.8" fill="#3d74e8"/>
<rect x="261.10" y="1395.77" width="13.8" height="13.8" fill="#3d74e8"/>
<rect x="257.10" y="1397.10" width="13.8" height="13.8" fill="#3d74e8"/>
<rect x="253.60" y="1398.10" width="13.8" height="13.8" fill="#3d74e8"/>
<rect x="250.10" y="1399.10" width="13.8" height="13.8" fill="#3d74e8"/>
<rect x="246.60" y="1400.10" width="13.8" height="13.8" fill="#3d74e8"/>
<rect x="243.10" y="1401.10" width="13.8" height="13.8" fill="#3d74e8"/>
<rect x="239.70" y="1402.10" width="13.8" height="13.8" fill="#3d74e8"/>
<rect x="236.30" y="1403.10" width="13.8" height="13.8" fill="#3d74e8"/>
<rect x="232.90" y="1404.10" width="13.8" height="13.8" fill="#3d74e8"/>
<rect x="229.50" y="1405.10" width="13.8" height="13.8" fill="#3d74e8"/>
<rect x="226.10" y="1406.10" width="13.8" height="13.8" fill="#3d74e8"/>
<rect x="222.50" y="1407.10" width="13.8" height="13.8" fill="#3d74e8"/>
<rect x="218.90" y="1408.10" width="13.8" height="13.8" fill="#3d74e8"/>
<rect x="215.30" y="1409.10" width="13.8" height="13.8" fill="#3d74e8"/>
<rect x="211.70" y="1410.10" width="13.8" height="13.8" fill="#3d74e8"/>
<rect x="208.10" y="1411.10" width="13.8" height="13.8" fill="#3d74e8"/>
<rect x="204.35" y="1412.35" width="13.8" height="13.8" fill="#3d74e8"/>
<rect x="200.60" y="1413.60" width="13.8" height="13.8" fill="#3d74e8"/>
<rect x="196.85" y="1414.85" width="13.8" height="13.8" fill="#3d74e8"/>
<rect x="193.10" y="1416.10" width="13.8" height="13.8" fill="#3d74e8"/>
<rect x="189.77" y="1417.77" width="13.8" height="13.8" fill="#3d74e8"/>
<rect x="186.43" y="1419.43" width="13.8" height="13.8" fill="#3d74e8"/>
<rect x="183.10" y="1421.10" width="13.8" height="13.8" fill="#3d74e8"/>
<rect x="516.60" y="868.50" width="13.8" height="13.8" fill="#4db56b"/>
<rect x="437.60" y="1024.90" width="13.8" height="13.8" fill="#4db56b"/>
<rect x="382.20" y="1135.10" width="13.8" height="13.8" fill="#4db56b"/>
<rect x="344.40" y="1215.40" width="13.8" height="13.8" fill="#4db56b"/>
<rect x="317.70" y="1273.70" width="13.8" height="13.8" fill="#4db56b"/>
<rect x="297.80" y="1315.90" width="13.8" height="13.8" fill="#4db56b"/>
<rect x="286.00" y="1344.90" width="13.8" height="13.8" fill="#4db56b"/>
<rect x="277.50" y="1366.30" width="13.8" height="13.8" fill="#4db56b"/>
<rect x="275.80" y="1370.70" width="13.8" height="13.8" fill="#4db56b"/>
<rect x="274.10" y="1375.10" width="13.8" height="13.8" fill="#4db56b"/>
<rect x="272.10" y="1379.10" width="13.8" height="13.8" fill="#4db56b"/>
<rect x="270.10" y="1383.10" width="13.8" height="13.8" fill="#4db56b"/>
<rect x="267.10" y="1386.60" width="13.8" height="13.8" fill="#4db56b"/>
<rect x="264.10" y="1390.10" width="13.8" height="13.8" fill="#4db56b"/>
<rect x="260.10" y="1392.60" width="13.8" height="13.8" fill="#4db56b"/>
<rect x="256.10" y="1395.10" width="13.8" height="13.8" fill="#4db56b"/>
<rect x="252.43" y="1396.43" width="13.8" height="13.8" fill="#4db56b"/>
<rect x="248.77" y="1397.77" width="13.8" height="13.8" fill="#4db56b"/>
<rect x="245.10" y="1399.10" width="13.8" height="13.8" fill="#4db56b"/>
<rect x="241.60" y="1400.10" width="13.8" height="13.8" fill="#4db56b"/>
<rect x="238.10" y="1401.10" width="13.8" height="13.8" fill="#4db56b"/>
<rect x="234.60" y="1402.10" width="13.8" height="13.8" fill="#4db56b"/>
<rect x="231.10" y="1403.10" width="13.8" height="13.8" fill="#4db56b"/>
<rect x="227.10" y="1404.35" width="13.8" height="13.8" fill="#4db56b"/>
<rect x="223.10" y="1405.60" width="13.8" height="13.8" fill="#4db56b"/>
<rect x="219.10" y="1406.85" width="13.8" height="13.8" fill="#4db56b"/>
<rect x="215.10" y="1408.10" width="13.8" height="13.8" fill="#4db56b"/>
<rect x="211.10" y="1409.35" width="13.8" height="13.8" fill="#4db56b"/>
<rect x="207.10" y="1410.60" width="13.8" height="13.8" fill="#4db56b"/>
<rect x="203.10" y="1411.85" width="13.8" height="13.8" fill="#4db56b"/>
<rect x="199.10" y="1413.10" width="13.8" height="13.8" fill="#4db56b"/>
<rect x="195.10" y="1414.77" width="13.8" height="13.8" fill="#4db56b"/>
<rect x="191.10" y="1416.43" width="13.8" height="13.8" fill="#4db56b"/>
<rect x="187.10" y="1418.10" width="13.8" height="13.8" fill="#4db56b"/>
<rect x="182.60" y="1421.60" width="13.8" height="13.8" fill="#4db56b"/>
<rect x="500.50" y="869.10" width="13.8" height="13.8" fill="#ae6ff0"/>
<rect x="422.40" y="1025.60" width="13.8" height="13.8" fill="#ae6ff0"/>
<rect x="368.50" y="1135.70" width="13.8" height="13.8" fill="#ae6ff0"/>
<rect x="331.70" y="1216.10" width="13.8" height="13.8" fill="#ae6ff0"/>
<rect x="304.90" y="1275.10" width="13.8" height="13.8" fill="#ae6ff0"/>
<rect x="286.00" y="1316.50" width="13.8" height="13.8" fill="#ae6ff0"/>
<rect x="274.80" y="1345.60" width="13.8" height="13.8" fill="#ae6ff0"/>
<rect x="269.10" y="1366.80" width="13.8" height="13.8" fill="#ae6ff0"/>
<rect x="267.60" y="1371.45" width="13.8" height="13.8" fill="#ae6ff0"/>
<rect x="266.10" y="1376.10" width="13.8" height="13.8" fill="#ae6ff0"/>
<rect x="264.10" y="1380.10" width="13.8" height="13.8" fill="#ae6ff0"/>
<rect x="262.10" y="1384.10" width="13.8" height="13.8" fill="#ae6ff0"/>
<rect x="259.10" y="1387.60" width="13.8" height="13.8" fill="#ae6ff0"/>
<rect x="256.10" y="1391.10" width="13.8" height="13.8" fill="#ae6ff0"/>
<rect x="252.10" y="1393.60" width="13.8" height="13.8" fill="#ae6ff0"/>
<rect x="248.10" y="1396.10" width="13.8" height="13.8" fill="#ae6ff0"/>
<rect x="244.43" y="1397.43" width="13.8" height="13.8" fill="#ae6ff0"/>
<rect x="240.77" y="1398.77" width="13.8" height="13.8" fill="#ae6ff0"/>
<rect x="237.10" y="1400.10" width="13.8" height="13.8" fill="#ae6ff0"/>
<rect x="233.60" y="1401.35" width="13.8" height="13.8" fill="#ae6ff0"/>
<rect x="230.10" y="1402.60" width="13.8" height="13.8" fill="#ae6ff0"/>
<rect x="226.60" y="1403.85" width="13.8" height="13.8" fill="#ae6ff0"/>
<rect x="223.10" y="1405.10" width="13.8" height="13.8" fill="#ae6ff0"/>
<rect x="219.35" y="1406.35" width="13.8" height="13.8" fill="#ae6ff0"/>
<rect x="215.60" y="1407.60" width="13.8" height="13.8" fill="#ae6ff0"/>
<rect x="211.85" y="1408.85" width="13.8" height="13.8" fill="#ae6ff0"/>
<rect x="208.10" y="1410.10" width="13.8" height="13.8" fill="#ae6ff0"/>
<rect x="203.77" y="1411.77" width="13.8" height="13.8" fill="#ae6ff0"/>
<rect x="199.43" y="1413.43" width="13.8" height="13.8" fill="#ae6ff0"/>
<rect x="195.10" y="1415.10" width="13.8" height="13.8" fill="#ae6ff0"/>
<rect x="191.77" y="1416.43" width="13.8" height="13.8" fill="#ae6ff0"/>
<rect x="188.43" y="1417.77" width="13.8" height="13.8" fill="#ae6ff0"/>
<rect x="185.10" y="1419.10" width="13.8" height="13.8" fill="#ae6ff0"/>
<rect x="182.60" y="1422.10" width="13.8" height="13.8" fill="#ae6ff0"/>
<rect x="493.50" y="881.90" width="13.8" height="13.8" fill="#c9a02a"/>
<rect x="414.70" y="1034.60" width="13.8" height="13.8" fill="#c9a02a"/>
<rect x="360.30" y="1143.10" width="13.8" height="13.8" fill="#c9a02a"/>
<rect x="323.50" y="1221.00" width="13.8" height="13.8" fill="#c9a02a"/>
<rect x="297.10" y="1277.70" width="13.8" height="13.8" fill="#c9a02a"/>
<rect x="277.70" y="1318.30" width="13.8" height="13.8" fill="#c9a02a"/>
<rect x="266.10" y="1347.10" width="13.8" height="13.8" fill="#c9a02a"/>
<rect x="258.10" y="1367.90" width="13.8" height="13.8" fill="#c9a02a"/>
<rect x="256.60" y="1371.50" width="13.8" height="13.8" fill="#c9a02a"/>
<rect x="255.10" y="1375.10" width="13.8" height="13.8" fill="#c9a02a"/>
<rect x="253.60" y="1378.60" width="13.8" height="13.8" fill="#c9a02a"/>
<rect x="252.10" y="1382.10" width="13.8" height="13.8" fill="#c9a02a"/>
<rect x="250.10" y="1385.10" width="13.8" height="13.8" fill="#c9a02a"/>
<rect x="248.10" y="1388.10" width="13.8" height="13.8" fill="#c9a02a"/>
<rect x="245.10" y="1390.60" width="13.8" height="13.8" fill="#c9a02a"/>
<rect x="242.10" y="1393.10" width="13.8" height="13.8" fill="#c9a02a"/>
<rect x="237.60" y="1395.60" width="13.8" height="13.8" fill="#c9a02a"/>
<rect x="233.10" y="1398.10" width="13.8" height="13.8" fill="#c9a02a"/>
<rect x="229.10" y="1399.77" width="13.8" height="13.8" fill="#c9a02a"/>
<rect x="225.10" y="1401.43" width="13.8" height="13.8" fill="#c9a02a"/>
<rect x="221.10" y="1403.10" width="13.8" height="13.8" fill="#c9a02a"/>
<rect x="217.60" y="1404.60" width="13.8" height="13.8" fill="#c9a02a"/>
<rect x="214.10" y="1406.10" width="13.8" height="13.8" fill="#c9a02a"/>
<rect x="210.60" y="1407.60" width="13.8" height="13.8" fill="#c9a02a"/>
<rect x="207.10" y="1409.10" width="13.8" height="13.8" fill="#c9a02a"/>
<rect x="203.10" y="1410.77" width="13.8" height="13.8" fill="#c9a02a"/>
<rect x="199.10" y="1412.43" width="13.8" height="13.8" fill="#c9a02a"/>
<rect x="195.10" y="1414.10" width="13.8" height="13.8" fill="#c9a02a"/>
<rect x="190.60" y="1416.10" width="13.8" height="13.8" fill="#c9a02a"/>
<rect x="186.10" y="1418.10" width="13.8" height="13.8" fill="#c9a02a"/>
<rect x="182.60" y="1422.10" width="13.8" height="13.8" fill="#c9a02a"/>
</g>
<rect x="753.20" y="1147.80" width="14.6" height="14.6" fill="#4a4a4a"/>
<text x="811.0" y="1167.9" font-family="'Liberation Sans', Arial, sans-serif" font-size="37" font-weight="normal" text-anchor="start" fill="#000" >0 h</text>
<rect x="753.20" y="1192.55" width="14.6" height="14.6" fill="#ee3b3f"/>
<text x="811.0" y="1212.6" font-family="'Liberation Sans', Arial, sans-serif" font-size="37" font-weight="normal" text-anchor="start" fill="#000" >1 h</text>
<rect x="753.20" y="1237.30" width="14.6" height="14.6" fill="#3d74e8"/>
<text x="811.0" y="1257.4" font-family="'Liberation Sans', Arial, sans-serif" font-size="37" font-weight="normal" text-anchor="start" fill="#000" >2 h</text>
<rect x="753.20" y="1282.05" width="14.6" height="14.6" fill="#4db56b"/>
<text x="811.0" y="1302.1" font-family="'Liberation Sans', Arial, sans-serif" font-size="37" font-weight="normal" text-anchor="start" fill="#000" >4 h</text>
<rect x="753.20" y="1326.80" width="14.6" height="14.6" fill="#ae6ff0"/>
<text x="811.0" y="1346.9" font-family="'Liberation Sans', Arial, sans-serif" font-size="37" font-weight="normal" text-anchor="start" fill="#000" >8 h</text>
<rect x="753.20" y="1371.55" width="14.6" height="14.6" fill="#c9a02a"/>
<text x="811.0" y="1391.6" font-family="'Liberation Sans', Arial, sans-serif" font-size="37" font-weight="normal" text-anchor="start" fill="#000" >24 h</text>
<rect x="1212.7" y="824.2" width="800.8" height="645.2" fill="none" stroke="#000" stroke-width="2.8"/>
<line x1="1212.70" y1="1470.80" x2="1212.70" y2="1481.90" stroke="#000" stroke-width="2.7" stroke-linecap="butt"/>
<text x="1179.9" y="1524.6" font-family="'Liberation Sans', Arial, sans-serif" font-size="36">10<tspan font-size="25" dy="-14.6">&#8722;1</tspan></text>
<line x1="1252.88" y1="1470.80" x2="1252.88" y2="1476.40" stroke="#000" stroke-width="2.2" stroke-linecap="butt"/>
<line x1="1276.38" y1="1470.80" x2="1276.38" y2="1476.40" stroke="#000" stroke-width="2.2" stroke-linecap="butt"/>
<line x1="1293.06" y1="1470.80" x2="1293.06" y2="1476.40" stroke="#000" stroke-width="2.2" stroke-linecap="butt"/>
<line x1="1305.99" y1="1470.80" x2="1305.99" y2="1476.40" stroke="#000" stroke-width="2.2" stroke-linecap="butt"/>
<line x1="1316.56" y1="1470.80" x2="1316.56" y2="1476.40" stroke="#000" stroke-width="2.2" stroke-linecap="butt"/>
<line x1="1325.50" y1="1470.80" x2="1325.50" y2="1476.40" stroke="#000" stroke-width="2.2" stroke-linecap="butt"/>
<line x1="1333.24" y1="1470.80" x2="1333.24" y2="1476.40" stroke="#000" stroke-width="2.2" stroke-linecap="butt"/>
<line x1="1340.06" y1="1470.80" x2="1340.06" y2="1476.40" stroke="#000" stroke-width="2.2" stroke-linecap="butt"/>
<line x1="1346.17" y1="1470.80" x2="1346.17" y2="1481.90" stroke="#000" stroke-width="2.7" stroke-linecap="butt"/>
<text x="1320.7" y="1524.6" font-family="'Liberation Sans', Arial, sans-serif" font-size="36">10<tspan font-size="25" dy="-14.6">0</tspan></text>
<line x1="1386.35" y1="1470.80" x2="1386.35" y2="1476.40" stroke="#000" stroke-width="2.2" stroke-linecap="butt"/>
<line x1="1409.85" y1="1470.80" x2="1409.85" y2="1476.40" stroke="#000" stroke-width="2.2" stroke-linecap="butt"/>
<line x1="1426.53" y1="1470.80" x2="1426.53" y2="1476.40" stroke="#000" stroke-width="2.2" stroke-linecap="butt"/>
<line x1="1439.46" y1="1470.80" x2="1439.46" y2="1476.40" stroke="#000" stroke-width="2.2" stroke-linecap="butt"/>
<line x1="1450.03" y1="1470.80" x2="1450.03" y2="1476.40" stroke="#000" stroke-width="2.2" stroke-linecap="butt"/>
<line x1="1458.97" y1="1470.80" x2="1458.97" y2="1476.40" stroke="#000" stroke-width="2.2" stroke-linecap="butt"/>
<line x1="1466.71" y1="1470.80" x2="1466.71" y2="1476.40" stroke="#000" stroke-width="2.2" stroke-linecap="butt"/>
<line x1="1473.53" y1="1470.80" x2="1473.53" y2="1476.40" stroke="#000" stroke-width="2.2" stroke-linecap="butt"/>
<line x1="1479.64" y1="1470.80" x2="1479.64" y2="1481.90" stroke="#000" stroke-width="2.7" stroke-linecap="butt"/>
<text x="1454.2" y="1524.6" font-family="'Liberation Sans', Arial, sans-serif" font-size="36">10<tspan font-size="25" dy="-14.6">1</tspan></text>
<line x1="1519.82" y1="1470.80" x2="1519.82" y2="1476.40" stroke="#000" stroke-width="2.2" stroke-linecap="butt"/>
<line x1="1543.32" y1="1470.80" x2="1543.32" y2="1476.40" stroke="#000" stroke-width="2.2" stroke-linecap="butt"/>
<line x1="1560.00" y1="1470.80" x2="1560.00" y2="1476.40" stroke="#000" stroke-width="2.2" stroke-linecap="butt"/>
<line x1="1572.93" y1="1470.80" x2="1572.93" y2="1476.40" stroke="#000" stroke-width="2.2" stroke-linecap="butt"/>
<line x1="1583.50" y1="1470.80" x2="1583.50" y2="1476.40" stroke="#000" stroke-width="2.2" stroke-linecap="butt"/>
<line x1="1592.44" y1="1470.80" x2="1592.44" y2="1476.40" stroke="#000" stroke-width="2.2" stroke-linecap="butt"/>
<line x1="1600.18" y1="1470.80" x2="1600.18" y2="1476.40" stroke="#000" stroke-width="2.2" stroke-linecap="butt"/>
<line x1="1607.00" y1="1470.80" x2="1607.00" y2="1476.40" stroke="#000" stroke-width="2.2" stroke-linecap="butt"/>
<line x1="1613.11" y1="1470.80" x2="1613.11" y2="1481.90" stroke="#000" stroke-width="2.7" stroke-linecap="butt"/>
<text x="1587.6" y="1524.6" font-family="'Liberation Sans', Arial, sans-serif" font-size="36">10<tspan font-size="25" dy="-14.6">2</tspan></text>
<line x1="1653.29" y1="1470.80" x2="1653.29" y2="1476.40" stroke="#000" stroke-width="2.2" stroke-linecap="butt"/>
<line x1="1676.79" y1="1470.80" x2="1676.79" y2="1476.40" stroke="#000" stroke-width="2.2" stroke-linecap="butt"/>
<line x1="1693.47" y1="1470.80" x2="1693.47" y2="1476.40" stroke="#000" stroke-width="2.2" stroke-linecap="butt"/>
<line x1="1706.40" y1="1470.80" x2="1706.40" y2="1476.40" stroke="#000" stroke-width="2.2" stroke-linecap="butt"/>
<line x1="1716.97" y1="1470.80" x2="1716.97" y2="1476.40" stroke="#000" stroke-width="2.2" stroke-linecap="butt"/>
<line x1="1725.91" y1="1470.80" x2="1725.91" y2="1476.40" stroke="#000" stroke-width="2.2" stroke-linecap="butt"/>
<line x1="1733.65" y1="1470.80" x2="1733.65" y2="1476.40" stroke="#000" stroke-width="2.2" stroke-linecap="butt"/>
<line x1="1740.47" y1="1470.80" x2="1740.47" y2="1476.40" stroke="#000" stroke-width="2.2" stroke-linecap="butt"/>
<line x1="1746.58" y1="1470.80" x2="1746.58" y2="1481.90" stroke="#000" stroke-width="2.7" stroke-linecap="butt"/>
<text x="1721.1" y="1524.6" font-family="'Liberation Sans', Arial, sans-serif" font-size="36">10<tspan font-size="25" dy="-14.6">3</tspan></text>
<line x1="1786.76" y1="1470.80" x2="1786.76" y2="1476.40" stroke="#000" stroke-width="2.2" stroke-linecap="butt"/>
<line x1="1810.26" y1="1470.80" x2="1810.26" y2="1476.40" stroke="#000" stroke-width="2.2" stroke-linecap="butt"/>
<line x1="1826.94" y1="1470.80" x2="1826.94" y2="1476.40" stroke="#000" stroke-width="2.2" stroke-linecap="butt"/>
<line x1="1839.87" y1="1470.80" x2="1839.87" y2="1476.40" stroke="#000" stroke-width="2.2" stroke-linecap="butt"/>
<line x1="1850.44" y1="1470.80" x2="1850.44" y2="1476.40" stroke="#000" stroke-width="2.2" stroke-linecap="butt"/>
<line x1="1859.38" y1="1470.80" x2="1859.38" y2="1476.40" stroke="#000" stroke-width="2.2" stroke-linecap="butt"/>
<line x1="1867.12" y1="1470.80" x2="1867.12" y2="1476.40" stroke="#000" stroke-width="2.2" stroke-linecap="butt"/>
<line x1="1873.94" y1="1470.80" x2="1873.94" y2="1476.40" stroke="#000" stroke-width="2.2" stroke-linecap="butt"/>
<line x1="1880.05" y1="1470.80" x2="1880.05" y2="1481.90" stroke="#000" stroke-width="2.7" stroke-linecap="butt"/>
<text x="1854.6" y="1524.6" font-family="'Liberation Sans', Arial, sans-serif" font-size="36">10<tspan font-size="25" dy="-14.6">4</tspan></text>
<line x1="1920.23" y1="1470.80" x2="1920.23" y2="1476.40" stroke="#000" stroke-width="2.2" stroke-linecap="butt"/>
<line x1="1943.73" y1="1470.80" x2="1943.73" y2="1476.40" stroke="#000" stroke-width="2.2" stroke-linecap="butt"/>
<line x1="1960.41" y1="1470.80" x2="1960.41" y2="1476.40" stroke="#000" stroke-width="2.2" stroke-linecap="butt"/>
<line x1="1973.34" y1="1470.80" x2="1973.34" y2="1476.40" stroke="#000" stroke-width="2.2" stroke-linecap="butt"/>
<line x1="1983.91" y1="1470.80" x2="1983.91" y2="1476.40" stroke="#000" stroke-width="2.2" stroke-linecap="butt"/>
<line x1="1992.85" y1="1470.80" x2="1992.85" y2="1476.40" stroke="#000" stroke-width="2.2" stroke-linecap="butt"/>
<line x1="2000.59" y1="1470.80" x2="2000.59" y2="1476.40" stroke="#000" stroke-width="2.2" stroke-linecap="butt"/>
<line x1="2007.41" y1="1470.80" x2="2007.41" y2="1476.40" stroke="#000" stroke-width="2.2" stroke-linecap="butt"/>
<line x1="2013.52" y1="1470.80" x2="2013.52" y2="1481.90" stroke="#000" stroke-width="2.7" stroke-linecap="butt"/>
<text x="1988.1" y="1524.6" font-family="'Liberation Sans', Arial, sans-serif" font-size="36">10<tspan font-size="25" dy="-14.6">5</tspan></text>
<line x1="1211.30" y1="1469.40" x2="1200.20" y2="1469.40" stroke="#000" stroke-width="2.7" stroke-linecap="butt"/>
<text x="1137.6" y="1482.8" font-family="'Liberation Sans', Arial, sans-serif" font-size="36">10<tspan font-size="25" dy="-14.6">3</tspan></text>
<line x1="1211.30" y1="1410.55" x2="1205.70" y2="1410.55" stroke="#000" stroke-width="2.2" stroke-linecap="butt"/>
<line x1="1211.30" y1="1376.12" x2="1205.70" y2="1376.12" stroke="#000" stroke-width="2.2" stroke-linecap="butt"/>
<line x1="1211.30" y1="1351.70" x2="1205.70" y2="1351.70" stroke="#000" stroke-width="2.2" stroke-linecap="butt"/>
<line x1="1211.30" y1="1332.75" x2="1205.70" y2="1332.75" stroke="#000" stroke-width="2.2" stroke-linecap="butt"/>
<line x1="1211.30" y1="1317.27" x2="1205.70" y2="1317.27" stroke="#000" stroke-width="2.2" stroke-linecap="butt"/>
<line x1="1211.30" y1="1304.18" x2="1205.70" y2="1304.18" stroke="#000" stroke-width="2.2" stroke-linecap="butt"/>
<line x1="1211.30" y1="1292.85" x2="1205.70" y2="1292.85" stroke="#000" stroke-width="2.2" stroke-linecap="butt"/>
<line x1="1211.30" y1="1282.85" x2="1205.70" y2="1282.85" stroke="#000" stroke-width="2.2" stroke-linecap="butt"/>
<line x1="1211.30" y1="1273.90" x2="1200.20" y2="1273.90" stroke="#000" stroke-width="2.7" stroke-linecap="butt"/>
<text x="1137.6" y="1287.3" font-family="'Liberation Sans', Arial, sans-serif" font-size="36">10<tspan font-size="25" dy="-14.6">4</tspan></text>
<line x1="1211.30" y1="1215.05" x2="1205.70" y2="1215.05" stroke="#000" stroke-width="2.2" stroke-linecap="butt"/>
<line x1="1211.30" y1="1180.62" x2="1205.70" y2="1180.62" stroke="#000" stroke-width="2.2" stroke-linecap="butt"/>
<line x1="1211.30" y1="1156.20" x2="1205.70" y2="1156.20" stroke="#000" stroke-width="2.2" stroke-linecap="butt"/>
<line x1="1211.30" y1="1137.25" x2="1205.70" y2="1137.25" stroke="#000" stroke-width="2.2" stroke-linecap="butt"/>
<line x1="1211.30" y1="1121.77" x2="1205.70" y2="1121.77" stroke="#000" stroke-width="2.2" stroke-linecap="butt"/>
<line x1="1211.30" y1="1108.68" x2="1205.70" y2="1108.68" stroke="#000" stroke-width="2.2" stroke-linecap="butt"/>
<line x1="1211.30" y1="1097.35" x2="1205.70" y2="1097.35" stroke="#000" stroke-width="2.2" stroke-linecap="butt"/>
<line x1="1211.30" y1="1087.35" x2="1205.70" y2="1087.35" stroke="#000" stroke-width="2.2" stroke-linecap="butt"/>
<line x1="1211.30" y1="1078.40" x2="1200.20" y2="1078.40" stroke="#000" stroke-width="2.7" stroke-linecap="butt"/>
<text x="1137.6" y="1091.8" font-family="'Liberation Sans', Arial, sans-serif" font-size="36">10<tspan font-size="25" dy="-14.6">5</tspan></text>
<line x1="1211.30" y1="1019.55" x2="1205.70" y2="1019.55" stroke="#000" stroke-width="2.2" stroke-linecap="butt"/>
<line x1="1211.30" y1="985.12" x2="1205.70" y2="985.12" stroke="#000" stroke-width="2.2" stroke-linecap="butt"/>
<line x1="1211.30" y1="960.70" x2="1205.70" y2="960.70" stroke="#000" stroke-width="2.2" stroke-linecap="butt"/>
<line x1="1211.30" y1="941.75" x2="1205.70" y2="941.75" stroke="#000" stroke-width="2.2" stroke-linecap="butt"/>
<line x1="1211.30" y1="926.27" x2="1205.70" y2="926.27" stroke="#000" stroke-width="2.2" stroke-linecap="butt"/>
<line x1="1211.30" y1="913.18" x2="1205.70" y2="913.18" stroke="#000" stroke-width="2.2" stroke-linecap="butt"/>
<line x1="1211.30" y1="901.85" x2="1205.70" y2="901.85" stroke="#000" stroke-width="2.2" stroke-linecap="butt"/>
<line x1="1211.30" y1="891.85" x2="1205.70" y2="891.85" stroke="#000" stroke-width="2.2" stroke-linecap="butt"/>
<line x1="1211.30" y1="882.90" x2="1200.20" y2="882.90" stroke="#000" stroke-width="2.7" stroke-linecap="butt"/>
<text x="1137.6" y="896.3" font-family="'Liberation Sans', Arial, sans-serif" font-size="36">10<tspan font-size="25" dy="-14.6">6</tspan></text>
<line x1="1211.30" y1="824.05" x2="1205.70" y2="824.05" stroke="#000" stroke-width="2.2" stroke-linecap="butt"/>
<line x1="2014.90" y1="1381.40" x2="2026.00" y2="1381.40" stroke="#000" stroke-width="2.7" stroke-linecap="butt"/>
<text x="2034.5" y="1392.3" font-family="'Liberation Sans', Arial, sans-serif" font-size="37" font-weight="normal" text-anchor="start" fill="#000" >0</text>
<line x1="2014.90" y1="1293.41" x2="2026.00" y2="1293.41" stroke="#000" stroke-width="2.7" stroke-linecap="butt"/>
<text x="2034.5" y="1304.3" font-family="'Liberation Sans', Arial, sans-serif" font-size="37" font-weight="normal" text-anchor="start" fill="#000" >15</text>
<line x1="2014.90" y1="1205.42" x2="2026.00" y2="1205.42" stroke="#000" stroke-width="2.7" stroke-linecap="butt"/>
<text x="2034.5" y="1216.3" font-family="'Liberation Sans', Arial, sans-serif" font-size="37" font-weight="normal" text-anchor="start" fill="#000" >30</text>
<line x1="2014.90" y1="1117.43" x2="2026.00" y2="1117.43" stroke="#000" stroke-width="2.7" stroke-linecap="butt"/>
<text x="2034.5" y="1128.3" font-family="'Liberation Sans', Arial, sans-serif" font-size="37" font-weight="normal" text-anchor="start" fill="#000" >45</text>
<line x1="2014.90" y1="1029.44" x2="2026.00" y2="1029.44" stroke="#000" stroke-width="2.7" stroke-linecap="butt"/>
<text x="2034.5" y="1040.3" font-family="'Liberation Sans', Arial, sans-serif" font-size="37" font-weight="normal" text-anchor="start" fill="#000" >60</text>
<line x1="2014.90" y1="941.45" x2="2026.00" y2="941.45" stroke="#000" stroke-width="2.7" stroke-linecap="butt"/>
<text x="2034.5" y="952.4" font-family="'Liberation Sans', Arial, sans-serif" font-size="37" font-weight="normal" text-anchor="start" fill="#000" >75</text>
<line x1="2014.90" y1="853.46" x2="2026.00" y2="853.46" stroke="#000" stroke-width="2.7" stroke-linecap="butt"/>
<text x="2034.5" y="864.4" font-family="'Liberation Sans', Arial, sans-serif" font-size="37" font-weight="normal" text-anchor="start" fill="#000" >90</text>
<line x1="2014.90" y1="1425.39" x2="2020.50" y2="1425.39" stroke="#000" stroke-width="2.2" stroke-linecap="butt"/>
<line x1="2014.90" y1="1337.41" x2="2020.50" y2="1337.41" stroke="#000" stroke-width="2.2" stroke-linecap="butt"/>
<line x1="2014.90" y1="1249.42" x2="2020.50" y2="1249.42" stroke="#000" stroke-width="2.2" stroke-linecap="butt"/>
<line x1="2014.90" y1="1161.43" x2="2020.50" y2="1161.43" stroke="#000" stroke-width="2.2" stroke-linecap="butt"/>
<line x1="2014.90" y1="1073.44" x2="2020.50" y2="1073.44" stroke="#000" stroke-width="2.2" stroke-linecap="butt"/>
<line x1="2014.90" y1="985.45" x2="2020.50" y2="985.45" stroke="#000" stroke-width="2.2" stroke-linecap="butt"/>
<line x1="2014.90" y1="897.46" x2="2020.50" y2="897.46" stroke="#000" stroke-width="2.2" stroke-linecap="butt"/>
<text x="1608.3" y="811.2" font-family="'Liberation Sans', Arial, sans-serif" font-size="37" font-weight="normal" text-anchor="middle" fill="#000" >Hydrogel</text>
<text x="1048.0" y="859.5" font-family="'Liberation Sans', Arial, sans-serif" font-size="80" font-weight="normal" text-anchor="start" fill="#000" >d</text>
<text x="1615.2" y="1597.4" font-family="'Liberation Sans', Arial, sans-serif" font-size="72.6" font-weight="normal" text-anchor="middle" fill="#000" >Frequency (Hz)</text>
<text transform="translate(1113.3,1144.8000000000002) rotate(-90)" font-family="'Liberation Sans', Arial, sans-serif" font-size="73" text-anchor="middle">|Z| (&#937;)</text>
<text transform="translate(2149.6,1146.8000000000002) rotate(-90)" font-family="'Liberation Sans', Arial, sans-serif" font-size="72" text-anchor="middle">-Phase (&#176;)</text>
<clipPath id="cd"><rect x="1212.7" y="824.2" width="800.8" height="645.2"/></clipPath>
<g clip-path="url(#cd)">
<path d="M1212.70,1031.03L1220.80,1045.03L1204.60,1045.03Z" fill="none" stroke="#4a4a4a" stroke-width="2.3" stroke-linejoin="miter"/>
<path d="M1234.94,1047.24L1243.04,1061.24L1226.85,1061.24Z" fill="none" stroke="#4a4a4a" stroke-width="2.3" stroke-linejoin="miter"/>
<path d="M1257.19,1065.92L1265.29,1079.92L1249.09,1079.92Z" fill="none" stroke="#4a4a4a" stroke-width="2.3" stroke-linejoin="miter"/>
<path d="M1279.43,1090.95L1287.53,1104.95L1271.34,1104.95Z" fill="none" stroke="#4a4a4a" stroke-width="2.3" stroke-linejoin="miter"/>
<path d="M1301.68,1123.38L1309.78,1137.38L1293.58,1137.38Z" fill="none" stroke="#4a4a4a" stroke-width="2.3" stroke-linejoin="miter"/>
<path d="M1323.92,1155.18L1332.02,1169.18L1315.83,1169.18Z" fill="none" stroke="#4a4a4a" stroke-width="2.3" stroke-linejoin="miter"/>
<path d="M1346.17,1186.17L1354.27,1200.17L1338.07,1200.17Z" fill="none" stroke="#4a4a4a" stroke-width="2.3" stroke-linejoin="miter"/>
<path d="M1368.41,1220.03L1376.51,1234.03L1360.32,1234.03Z" fill="none" stroke="#4a4a4a" stroke-width="2.3" stroke-linejoin="miter"/>
<path d="M1390.66,1240.76L1398.76,1254.76L1382.56,1254.76Z" fill="none" stroke="#4a4a4a" stroke-width="2.3" stroke-linejoin="miter"/>
<path d="M1412.90,1254.65L1421.00,1268.65L1404.81,1268.65Z" fill="none" stroke="#4a4a4a" stroke-width="2.3" stroke-linejoin="miter"/>
<path d="M1435.15,1259.04L1443.25,1273.04L1427.05,1273.04Z" fill="none" stroke="#4a4a4a" stroke-width="2.3" stroke-linejoin="miter"/>
<path d="M1457.39,1259.04L1465.49,1273.04L1449.30,1273.04Z" fill="none" stroke="#4a4a4a" stroke-width="2.3" stroke-linejoin="miter"/>
<path d="M1479.64,1253.19L1487.74,1267.19L1471.54,1267.19Z" fill="none" stroke="#4a4a4a" stroke-width="2.3" stroke-linejoin="miter"/>
<path d="M1501.88,1244.82L1509.98,1258.82L1493.79,1258.82Z" fill="none" stroke="#4a4a4a" stroke-width="2.3" stroke-linejoin="miter"/>
<path d="M1524.13,1232.69L1532.23,1246.69L1516.03,1246.69Z" fill="none" stroke="#4a4a4a" stroke-width="2.3" stroke-linejoin="miter"/>
<path d="M1546.38,1214.94L1554.47,1228.94L1538.28,1228.94Z" fill="none" stroke="#4a4a4a" stroke-width="2.3" stroke-linejoin="miter"/>
<path d="M1568.62,1193.34L1576.72,1207.34L1560.52,1207.34Z" fill="none" stroke="#4a4a4a" stroke-width="2.3" stroke-linejoin="miter"/>
<path d="M1590.87,1167.68L1598.96,1181.68L1582.77,1181.68Z" fill="none" stroke="#4a4a4a" stroke-width="2.3" stroke-linejoin="miter"/>
<path d="M1613.11,1140.56L1621.21,1154.56L1605.01,1154.56Z" fill="none" stroke="#4a4a4a" stroke-width="2.3" stroke-linejoin="miter"/>
<path d="M1635.36,1113.12L1643.45,1127.12L1627.26,1127.12Z" fill="none" stroke="#4a4a4a" stroke-width="2.3" stroke-linejoin="miter"/>
<path d="M1657.60,1085.05L1665.70,1099.05L1649.50,1099.05Z" fill="none" stroke="#4a4a4a" stroke-width="2.3" stroke-linejoin="miter"/>
<path d="M1679.85,1060.46L1687.94,1074.46L1671.75,1074.46Z" fill="none" stroke="#4a4a4a" stroke-width="2.3" stroke-linejoin="miter"/>
<path d="M1702.09,1039.01L1710.19,1053.01L1693.99,1053.01Z" fill="none" stroke="#4a4a4a" stroke-width="2.3" stroke-linejoin="miter"/>
<path d="M1724.34,1021.04L1732.43,1035.04L1716.24,1035.04Z" fill="none" stroke="#4a4a4a" stroke-width="2.3" stroke-linejoin="miter"/>
<path d="M1746.58,1009.37L1754.68,1023.37L1738.48,1023.37Z" fill="none" stroke="#4a4a4a" stroke-width="2.3" stroke-linejoin="miter"/>
<path d="M1768.83,995.81L1776.92,1009.81L1760.73,1009.81Z" fill="none" stroke="#4a4a4a" stroke-width="2.3" stroke-linejoin="miter"/>
<path d="M1791.07,991.08L1799.17,1005.08L1782.97,1005.08Z" fill="none" stroke="#4a4a4a" stroke-width="2.3" stroke-linejoin="miter"/>
<path d="M1813.32,990.91L1821.41,1004.91L1805.22,1004.91Z" fill="none" stroke="#4a4a4a" stroke-width="2.3" stroke-linejoin="miter"/>
<path d="M1835.56,996.90L1843.66,1010.90L1827.46,1010.90Z" fill="none" stroke="#4a4a4a" stroke-width="2.3" stroke-linejoin="miter"/>
<path d="M1857.81,1009.82L1865.90,1023.82L1849.71,1023.82Z" fill="none" stroke="#4a4a4a" stroke-width="2.3" stroke-linejoin="miter"/>
<path d="M1880.05,1028.72L1888.15,1042.72L1871.95,1042.72Z" fill="none" stroke="#4a4a4a" stroke-width="2.3" stroke-linejoin="miter"/>
<path d="M1902.30,1056.76L1910.39,1070.76L1894.20,1070.76Z" fill="none" stroke="#4a4a4a" stroke-width="2.3" stroke-linejoin="miter"/>
<path d="M1924.54,1084.80L1932.64,1098.80L1916.44,1098.80Z" fill="none" stroke="#4a4a4a" stroke-width="2.3" stroke-linejoin="miter"/>
<path d="M1946.79,1123.24L1954.88,1137.24L1938.69,1137.24Z" fill="none" stroke="#4a4a4a" stroke-width="2.3" stroke-linejoin="miter"/>
<path d="M1969.03,1163.57L1977.13,1177.57L1960.93,1177.57Z" fill="none" stroke="#4a4a4a" stroke-width="2.3" stroke-linejoin="miter"/>
<path d="M1991.28,1201.69L1999.38,1215.69L1983.18,1215.69Z" fill="none" stroke="#4a4a4a" stroke-width="2.3" stroke-linejoin="miter"/>
<path d="M2013.52,1236.03L2021.62,1250.03L2005.42,1250.03Z" fill="none" stroke="#4a4a4a" stroke-width="2.3" stroke-linejoin="miter"/>
<path d="M1212.70,975.62L1220.80,989.62L1204.60,989.62Z" fill="none" stroke="#ee3b3f" stroke-width="2.3" stroke-linejoin="miter"/>
<path d="M1234.94,983.83L1243.04,997.83L1226.85,997.83Z" fill="none" stroke="#ee3b3f" stroke-width="2.3" stroke-linejoin="miter"/>
<path d="M1257.19,998.20L1265.29,1012.20L1249.09,1012.20Z" fill="none" stroke="#ee3b3f" stroke-width="2.3" stroke-linejoin="miter"/>
<path d="M1279.43,1017.69L1287.53,1031.69L1271.34,1031.69Z" fill="none" stroke="#ee3b3f" stroke-width="2.3" stroke-linejoin="miter"/>
<path d="M1301.68,1040.26L1309.78,1054.26L1293.58,1054.26Z" fill="none" stroke="#ee3b3f" stroke-width="2.3" stroke-linejoin="miter"/>
<path d="M1323.92,1070.43L1332.02,1084.43L1315.83,1084.43Z" fill="none" stroke="#ee3b3f" stroke-width="2.3" stroke-linejoin="miter"/>
<path d="M1346.17,1110.24L1354.27,1124.24L1338.07,1124.24Z" fill="none" stroke="#ee3b3f" stroke-width="2.3" stroke-linejoin="miter"/>
<path d="M1368.41,1146.15L1376.51,1160.15L1360.32,1160.15Z" fill="none" stroke="#ee3b3f" stroke-width="2.3" stroke-linejoin="miter"/>
<path d="M1390.66,1181.04L1398.76,1195.04L1382.56,1195.04Z" fill="none" stroke="#ee3b3f" stroke-width="2.3" stroke-linejoin="miter"/>
<path d="M1412.90,1208.47L1421.00,1222.47L1404.81,1222.47Z" fill="none" stroke="#ee3b3f" stroke-width="2.3" stroke-linejoin="miter"/>
<path d="M1435.15,1224.90L1443.25,1238.90L1427.05,1238.90Z" fill="none" stroke="#ee3b3f" stroke-width="2.3" stroke-linejoin="miter"/>
<path d="M1457.39,1232.41L1465.49,1246.41L1449.30,1246.41Z" fill="none" stroke="#ee3b3f" stroke-width="2.3" stroke-linejoin="miter"/>
<path d="M1479.64,1232.69L1487.74,1246.69L1471.54,1246.69Z" fill="none" stroke="#ee3b3f" stroke-width="2.3" stroke-linejoin="miter"/>
<path d="M1501.88,1230.84L1509.98,1244.84L1493.79,1244.84Z" fill="none" stroke="#ee3b3f" stroke-width="2.3" stroke-linejoin="miter"/>
<path d="M1524.13,1227.24L1532.23,1241.24L1516.03,1241.24Z" fill="none" stroke="#ee3b3f" stroke-width="2.3" stroke-linejoin="miter"/>
<path d="M1546.38,1221.80L1554.47,1235.80L1538.28,1235.80Z" fill="none" stroke="#ee3b3f" stroke-width="2.3" stroke-linejoin="miter"/>
<path d="M1568.62,1211.76L1576.72,1225.76L1560.52,1225.76Z" fill="none" stroke="#ee3b3f" stroke-width="2.3" stroke-linejoin="miter"/>
<path d="M1590.87,1195.86L1598.96,1209.86L1582.77,1209.86Z" fill="none" stroke="#ee3b3f" stroke-width="2.3" stroke-linejoin="miter"/>
<path d="M1613.11,1179.66L1621.21,1193.66L1605.01,1193.66Z" fill="none" stroke="#ee3b3f" stroke-width="2.3" stroke-linejoin="miter"/>
<path d="M1635.36,1158.22L1643.45,1172.22L1627.26,1172.22Z" fill="none" stroke="#ee3b3f" stroke-width="2.3" stroke-linejoin="miter"/>
<path d="M1657.60,1134.57L1665.70,1148.57L1649.50,1148.57Z" fill="none" stroke="#ee3b3f" stroke-width="2.3" stroke-linejoin="miter"/>
<path d="M1679.85,1110.60L1687.94,1124.60L1671.75,1124.60Z" fill="none" stroke="#ee3b3f" stroke-width="2.3" stroke-linejoin="miter"/>
<path d="M1702.09,1088.84L1710.19,1102.84L1693.99,1102.84Z" fill="none" stroke="#ee3b3f" stroke-width="2.3" stroke-linejoin="miter"/>
<path d="M1724.34,1070.55L1732.43,1084.55L1716.24,1084.55Z" fill="none" stroke="#ee3b3f" stroke-width="2.3" stroke-linejoin="miter"/>
<path d="M1746.58,1051.00L1754.68,1065.00L1738.48,1065.00Z" fill="none" stroke="#ee3b3f" stroke-width="2.3" stroke-linejoin="miter"/>
<path d="M1768.83,1040.27L1776.92,1054.27L1760.73,1054.27Z" fill="none" stroke="#ee3b3f" stroke-width="2.3" stroke-linejoin="miter"/>
<path d="M1791.07,1033.02L1799.17,1047.02L1782.97,1047.02Z" fill="none" stroke="#ee3b3f" stroke-width="2.3" stroke-linejoin="miter"/>
<path d="M1813.32,1031.56L1821.41,1045.56L1805.22,1045.56Z" fill="none" stroke="#ee3b3f" stroke-width="2.3" stroke-linejoin="miter"/>
<path d="M1835.56,1035.65L1843.66,1049.65L1827.46,1049.65Z" fill="none" stroke="#ee3b3f" stroke-width="2.3" stroke-linejoin="miter"/>
<path d="M1857.81,1047.62L1865.90,1061.62L1849.71,1061.62Z" fill="none" stroke="#ee3b3f" stroke-width="2.3" stroke-linejoin="miter"/>
<path d="M1880.05,1067.16L1888.15,1081.16L1871.95,1081.16Z" fill="none" stroke="#ee3b3f" stroke-width="2.3" stroke-linejoin="miter"/>
<path d="M1902.30,1090.16L1910.39,1104.16L1894.20,1104.16Z" fill="none" stroke="#ee3b3f" stroke-width="2.3" stroke-linejoin="miter"/>
<path d="M1924.54,1121.98L1932.64,1135.98L1916.44,1135.98Z" fill="none" stroke="#ee3b3f" stroke-width="2.3" stroke-linejoin="miter"/>
<path d="M1946.79,1157.58L1954.88,1171.58L1938.69,1171.58Z" fill="none" stroke="#ee3b3f" stroke-width="2.3" stroke-linejoin="miter"/>
<path d="M1969.03,1193.18L1977.13,1207.18L1960.93,1207.18Z" fill="none" stroke="#ee3b3f" stroke-width="2.3" stroke-linejoin="miter"/>
<path d="M1991.28,1225.63L1999.38,1239.63L1983.18,1239.63Z" fill="none" stroke="#ee3b3f" stroke-width="2.3" stroke-linejoin="miter"/>
<path d="M2013.52,1251.78L2021.62,1265.78L2005.42,1265.78Z" fill="none" stroke="#ee3b3f" stroke-width="2.3" stroke-linejoin="miter"/>
<path d="M1212.70,959.21L1220.80,973.21L1204.60,973.21Z" fill="none" stroke="#3d74e8" stroke-width="2.3" stroke-linejoin="miter"/>
<path d="M1234.94,962.28L1243.04,976.28L1226.85,976.28Z" fill="none" stroke="#3d74e8" stroke-width="2.3" stroke-linejoin="miter"/>
<path d="M1257.19,974.19L1265.29,988.19L1249.09,988.19Z" fill="none" stroke="#3d74e8" stroke-width="2.3" stroke-linejoin="miter"/>
<path d="M1279.43,991.01L1287.53,1005.01L1271.34,1005.01Z" fill="none" stroke="#3d74e8" stroke-width="2.3" stroke-linejoin="miter"/>
<path d="M1301.68,1012.56L1309.78,1026.56L1293.58,1026.56Z" fill="none" stroke="#3d74e8" stroke-width="2.3" stroke-linejoin="miter"/>
<path d="M1323.92,1040.26L1332.02,1054.26L1315.83,1054.26Z" fill="none" stroke="#3d74e8" stroke-width="2.3" stroke-linejoin="miter"/>
<path d="M1346.17,1077.41L1354.27,1091.41L1338.07,1091.41Z" fill="none" stroke="#3d74e8" stroke-width="2.3" stroke-linejoin="miter"/>
<path d="M1368.41,1119.48L1376.51,1133.48L1360.32,1133.48Z" fill="none" stroke="#3d74e8" stroke-width="2.3" stroke-linejoin="miter"/>
<path d="M1390.66,1153.34L1398.76,1167.34L1382.56,1167.34Z" fill="none" stroke="#3d74e8" stroke-width="2.3" stroke-linejoin="miter"/>
<path d="M1412.90,1188.78L1421.00,1202.78L1404.81,1202.78Z" fill="none" stroke="#3d74e8" stroke-width="2.3" stroke-linejoin="miter"/>
<path d="M1435.15,1206.06L1443.25,1220.06L1427.05,1220.06Z" fill="none" stroke="#3d74e8" stroke-width="2.3" stroke-linejoin="miter"/>
<path d="M1457.39,1218.24L1465.49,1232.24L1449.30,1232.24Z" fill="none" stroke="#3d74e8" stroke-width="2.3" stroke-linejoin="miter"/>
<path d="M1479.64,1222.47L1487.74,1236.47L1471.54,1236.47Z" fill="none" stroke="#3d74e8" stroke-width="2.3" stroke-linejoin="miter"/>
<path d="M1501.88,1220.97L1509.98,1234.97L1493.79,1234.97Z" fill="none" stroke="#3d74e8" stroke-width="2.3" stroke-linejoin="miter"/>
<path d="M1524.13,1220.13L1532.23,1234.13L1516.03,1234.13Z" fill="none" stroke="#3d74e8" stroke-width="2.3" stroke-linejoin="miter"/>
<path d="M1546.38,1216.78L1554.47,1230.78L1538.28,1230.78Z" fill="none" stroke="#3d74e8" stroke-width="2.3" stroke-linejoin="miter"/>
<path d="M1568.62,1211.34L1576.72,1225.34L1560.52,1225.34Z" fill="none" stroke="#3d74e8" stroke-width="2.3" stroke-linejoin="miter"/>
<path d="M1590.87,1198.20L1598.96,1212.20L1582.77,1212.20Z" fill="none" stroke="#3d74e8" stroke-width="2.3" stroke-linejoin="miter"/>
<path d="M1613.11,1184.10L1621.21,1198.10L1605.01,1198.10Z" fill="none" stroke="#3d74e8" stroke-width="2.3" stroke-linejoin="miter"/>
<path d="M1635.36,1167.68L1643.45,1181.68L1627.26,1181.68Z" fill="none" stroke="#3d74e8" stroke-width="2.3" stroke-linejoin="miter"/>
<path d="M1657.60,1147.18L1665.70,1161.18L1649.50,1161.18Z" fill="none" stroke="#3d74e8" stroke-width="2.3" stroke-linejoin="miter"/>
<path d="M1679.85,1125.10L1687.94,1139.10L1671.75,1139.10Z" fill="none" stroke="#3d74e8" stroke-width="2.3" stroke-linejoin="miter"/>
<path d="M1702.09,1104.29L1710.19,1118.29L1693.99,1118.29Z" fill="none" stroke="#3d74e8" stroke-width="2.3" stroke-linejoin="miter"/>
<path d="M1724.34,1082.53L1732.43,1096.53L1716.24,1096.53Z" fill="none" stroke="#3d74e8" stroke-width="2.3" stroke-linejoin="miter"/>
<path d="M1746.58,1066.13L1754.68,1080.13L1738.48,1080.13Z" fill="none" stroke="#3d74e8" stroke-width="2.3" stroke-linejoin="miter"/>
<path d="M1768.83,1055.10L1776.92,1069.10L1760.73,1069.10Z" fill="none" stroke="#3d74e8" stroke-width="2.3" stroke-linejoin="miter"/>
<path d="M1791.07,1047.53L1799.17,1061.53L1782.97,1061.53Z" fill="none" stroke="#3d74e8" stroke-width="2.3" stroke-linejoin="miter"/>
<path d="M1813.32,1046.36L1821.41,1060.36L1805.22,1060.36Z" fill="none" stroke="#3d74e8" stroke-width="2.3" stroke-linejoin="miter"/>
<path d="M1835.56,1051.40L1843.66,1065.40L1827.46,1065.40Z" fill="none" stroke="#3d74e8" stroke-width="2.3" stroke-linejoin="miter"/>
<path d="M1857.81,1063.06L1865.90,1077.06L1849.71,1077.06Z" fill="none" stroke="#3d74e8" stroke-width="2.3" stroke-linejoin="miter"/>
<path d="M1880.05,1082.91L1888.15,1096.91L1871.95,1096.91Z" fill="none" stroke="#3d74e8" stroke-width="2.3" stroke-linejoin="miter"/>
<path d="M1902.30,1104.02L1910.39,1118.02L1894.20,1118.02Z" fill="none" stroke="#3d74e8" stroke-width="2.3" stroke-linejoin="miter"/>
<path d="M1924.54,1135.53L1932.64,1149.53L1916.44,1149.53Z" fill="none" stroke="#3d74e8" stroke-width="2.3" stroke-linejoin="miter"/>
<path d="M1946.79,1170.18L1954.88,1184.18L1938.69,1184.18Z" fill="none" stroke="#3d74e8" stroke-width="2.3" stroke-linejoin="miter"/>
<path d="M1969.03,1203.58L1977.13,1217.58L1960.93,1217.58Z" fill="none" stroke="#3d74e8" stroke-width="2.3" stroke-linejoin="miter"/>
<path d="M1991.28,1233.51L1999.38,1247.51L1983.18,1247.51Z" fill="none" stroke="#3d74e8" stroke-width="2.3" stroke-linejoin="miter"/>
<path d="M2013.52,1256.51L2021.62,1270.51L2005.42,1270.51Z" fill="none" stroke="#3d74e8" stroke-width="2.3" stroke-linejoin="miter"/>
<path d="M1212.70,954.08L1220.80,968.08L1204.60,968.08Z" fill="none" stroke="#4db56b" stroke-width="2.3" stroke-linejoin="miter"/>
<path d="M1234.94,955.10L1243.04,969.10L1226.85,969.10Z" fill="none" stroke="#4db56b" stroke-width="2.3" stroke-linejoin="miter"/>
<path d="M1257.19,964.34L1265.29,978.34L1249.09,978.34Z" fill="none" stroke="#4db56b" stroke-width="2.3" stroke-linejoin="miter"/>
<path d="M1279.43,977.67L1287.53,991.67L1271.34,991.67Z" fill="none" stroke="#4db56b" stroke-width="2.3" stroke-linejoin="miter"/>
<path d="M1301.68,996.55L1309.78,1010.55L1293.58,1010.55Z" fill="none" stroke="#4db56b" stroke-width="2.3" stroke-linejoin="miter"/>
<path d="M1323.92,1020.56L1332.02,1034.56L1315.83,1034.56Z" fill="none" stroke="#4db56b" stroke-width="2.3" stroke-linejoin="miter"/>
<path d="M1346.17,1052.78L1354.27,1066.78L1338.07,1066.78Z" fill="none" stroke="#4db56b" stroke-width="2.3" stroke-linejoin="miter"/>
<path d="M1368.41,1093.82L1376.51,1107.82L1360.32,1107.82Z" fill="none" stroke="#4db56b" stroke-width="2.3" stroke-linejoin="miter"/>
<path d="M1390.66,1128.71L1398.76,1142.71L1382.56,1142.71Z" fill="none" stroke="#4db56b" stroke-width="2.3" stroke-linejoin="miter"/>
<path d="M1412.90,1166.68L1421.00,1180.68L1404.81,1180.68Z" fill="none" stroke="#4db56b" stroke-width="2.3" stroke-linejoin="miter"/>
<path d="M1435.15,1187.93L1443.25,1201.93L1427.05,1201.93Z" fill="none" stroke="#4db56b" stroke-width="2.3" stroke-linejoin="miter"/>
<path d="M1457.39,1203.09L1465.49,1217.09L1449.30,1217.09Z" fill="none" stroke="#4db56b" stroke-width="2.3" stroke-linejoin="miter"/>
<path d="M1479.64,1208.16L1487.74,1222.16L1471.54,1222.16Z" fill="none" stroke="#4db56b" stroke-width="2.3" stroke-linejoin="miter"/>
<path d="M1501.88,1209.08L1509.98,1223.08L1493.79,1223.08Z" fill="none" stroke="#4db56b" stroke-width="2.3" stroke-linejoin="miter"/>
<path d="M1524.13,1209.67L1532.23,1223.67L1516.03,1223.67Z" fill="none" stroke="#4db56b" stroke-width="2.3" stroke-linejoin="miter"/>
<path d="M1546.38,1209.25L1554.47,1223.25L1538.28,1223.25Z" fill="none" stroke="#4db56b" stroke-width="2.3" stroke-linejoin="miter"/>
<path d="M1568.62,1205.90L1576.72,1219.90L1560.52,1219.90Z" fill="none" stroke="#4db56b" stroke-width="2.3" stroke-linejoin="miter"/>
<path d="M1590.87,1204.89L1598.96,1218.89L1582.77,1218.89Z" fill="none" stroke="#4db56b" stroke-width="2.3" stroke-linejoin="miter"/>
<path d="M1613.11,1193.85L1621.21,1207.85L1605.01,1207.85Z" fill="none" stroke="#4db56b" stroke-width="2.3" stroke-linejoin="miter"/>
<path d="M1635.36,1176.51L1643.45,1190.51L1627.26,1190.51Z" fill="none" stroke="#4db56b" stroke-width="2.3" stroke-linejoin="miter"/>
<path d="M1657.60,1158.22L1665.70,1172.22L1649.50,1172.22Z" fill="none" stroke="#4db56b" stroke-width="2.3" stroke-linejoin="miter"/>
<path d="M1679.85,1138.67L1687.94,1152.67L1671.75,1152.67Z" fill="none" stroke="#4db56b" stroke-width="2.3" stroke-linejoin="miter"/>
<path d="M1702.09,1117.22L1710.19,1131.22L1693.99,1131.22Z" fill="none" stroke="#4db56b" stroke-width="2.3" stroke-linejoin="miter"/>
<path d="M1724.34,1097.98L1732.43,1111.98L1716.24,1111.98Z" fill="none" stroke="#4db56b" stroke-width="2.3" stroke-linejoin="miter"/>
<path d="M1746.58,1083.16L1754.68,1097.16L1738.48,1097.16Z" fill="none" stroke="#4db56b" stroke-width="2.3" stroke-linejoin="miter"/>
<path d="M1768.83,1071.81L1776.92,1085.81L1760.73,1085.81Z" fill="none" stroke="#4db56b" stroke-width="2.3" stroke-linejoin="miter"/>
<path d="M1791.07,1065.50L1799.17,1079.50L1782.97,1079.50Z" fill="none" stroke="#4db56b" stroke-width="2.3" stroke-linejoin="miter"/>
<path d="M1813.32,1064.32L1821.41,1078.32L1805.22,1078.32Z" fill="none" stroke="#4db56b" stroke-width="2.3" stroke-linejoin="miter"/>
<path d="M1835.56,1069.36L1843.66,1083.36L1827.46,1083.36Z" fill="none" stroke="#4db56b" stroke-width="2.3" stroke-linejoin="miter"/>
<path d="M1857.81,1080.39L1865.90,1094.39L1849.71,1094.39Z" fill="none" stroke="#4db56b" stroke-width="2.3" stroke-linejoin="miter"/>
<path d="M1880.05,1099.29L1888.15,1113.29L1871.95,1113.29Z" fill="none" stroke="#4db56b" stroke-width="2.3" stroke-linejoin="miter"/>
<path d="M1902.30,1120.72L1910.39,1134.72L1894.20,1134.72Z" fill="none" stroke="#4db56b" stroke-width="2.3" stroke-linejoin="miter"/>
<path d="M1924.54,1150.33L1932.64,1164.33L1916.44,1164.33Z" fill="none" stroke="#4db56b" stroke-width="2.3" stroke-linejoin="miter"/>
<path d="M1946.79,1183.10L1954.88,1197.10L1938.69,1197.10Z" fill="none" stroke="#4db56b" stroke-width="2.3" stroke-linejoin="miter"/>
<path d="M1969.03,1214.61L1977.13,1228.61L1960.93,1228.61Z" fill="none" stroke="#4db56b" stroke-width="2.3" stroke-linejoin="miter"/>
<path d="M1991.28,1242.96L1999.38,1256.96L1983.18,1256.96Z" fill="none" stroke="#4db56b" stroke-width="2.3" stroke-linejoin="miter"/>
<path d="M2013.52,1264.39L2021.62,1278.39L2005.42,1278.39Z" fill="none" stroke="#4db56b" stroke-width="2.3" stroke-linejoin="miter"/>
<path d="M1212.70,947.92L1220.80,961.92L1204.60,961.92Z" fill="none" stroke="#ae6ff0" stroke-width="2.3" stroke-linejoin="miter"/>
<path d="M1234.94,950.38L1243.04,964.38L1226.85,964.38Z" fill="none" stroke="#ae6ff0" stroke-width="2.3" stroke-linejoin="miter"/>
<path d="M1257.19,957.15L1265.29,971.15L1249.09,971.15Z" fill="none" stroke="#ae6ff0" stroke-width="2.3" stroke-linejoin="miter"/>
<path d="M1279.43,967.41L1287.53,981.41L1271.34,981.41Z" fill="none" stroke="#ae6ff0" stroke-width="2.3" stroke-linejoin="miter"/>
<path d="M1301.68,983.83L1309.78,997.83L1293.58,997.83Z" fill="none" stroke="#ae6ff0" stroke-width="2.3" stroke-linejoin="miter"/>
<path d="M1323.92,1007.43L1332.02,1021.43L1315.83,1021.43Z" fill="none" stroke="#ae6ff0" stroke-width="2.3" stroke-linejoin="miter"/>
<path d="M1346.17,1036.37L1354.27,1050.37L1338.07,1050.37Z" fill="none" stroke="#ae6ff0" stroke-width="2.3" stroke-linejoin="miter"/>
<path d="M1368.41,1075.56L1376.51,1089.56L1360.32,1089.56Z" fill="none" stroke="#ae6ff0" stroke-width="2.3" stroke-linejoin="miter"/>
<path d="M1390.66,1109.22L1398.76,1123.22L1382.56,1123.22Z" fill="none" stroke="#ae6ff0" stroke-width="2.3" stroke-linejoin="miter"/>
<path d="M1412.90,1147.55L1421.00,1161.55L1404.81,1161.55Z" fill="none" stroke="#ae6ff0" stroke-width="2.3" stroke-linejoin="miter"/>
<path d="M1435.15,1171.07L1443.25,1185.07L1427.05,1185.07Z" fill="none" stroke="#ae6ff0" stroke-width="2.3" stroke-linejoin="miter"/>
<path d="M1457.39,1187.08L1465.49,1201.08L1449.30,1201.08Z" fill="none" stroke="#ae6ff0" stroke-width="2.3" stroke-linejoin="miter"/>
<path d="M1479.64,1192.93L1487.74,1206.93L1471.54,1206.93Z" fill="none" stroke="#ae6ff0" stroke-width="2.3" stroke-linejoin="miter"/>
<path d="M1501.88,1195.27L1509.98,1209.27L1493.79,1209.27Z" fill="none" stroke="#ae6ff0" stroke-width="2.3" stroke-linejoin="miter"/>
<path d="M1524.13,1197.03L1532.23,1211.03L1516.03,1211.03Z" fill="none" stroke="#ae6ff0" stroke-width="2.3" stroke-linejoin="miter"/>
<path d="M1546.38,1197.95L1554.47,1211.95L1538.28,1211.95Z" fill="none" stroke="#ae6ff0" stroke-width="2.3" stroke-linejoin="miter"/>
<path d="M1568.62,1197.53L1576.72,1211.53L1560.52,1211.53Z" fill="none" stroke="#ae6ff0" stroke-width="2.3" stroke-linejoin="miter"/>
<path d="M1590.87,1197.01L1598.96,1211.01L1582.77,1211.01Z" fill="none" stroke="#ae6ff0" stroke-width="2.3" stroke-linejoin="miter"/>
<path d="M1613.11,1190.70L1621.21,1204.70L1605.01,1204.70Z" fill="none" stroke="#ae6ff0" stroke-width="2.3" stroke-linejoin="miter"/>
<path d="M1635.36,1173.35L1643.45,1187.35L1627.26,1187.35Z" fill="none" stroke="#ae6ff0" stroke-width="2.3" stroke-linejoin="miter"/>
<path d="M1657.60,1163.89L1665.70,1177.89L1649.50,1177.89Z" fill="none" stroke="#ae6ff0" stroke-width="2.3" stroke-linejoin="miter"/>
<path d="M1679.85,1148.76L1687.94,1162.76L1671.75,1162.76Z" fill="none" stroke="#ae6ff0" stroke-width="2.3" stroke-linejoin="miter"/>
<path d="M1702.09,1129.52L1710.19,1143.52L1693.99,1143.52Z" fill="none" stroke="#ae6ff0" stroke-width="2.3" stroke-linejoin="miter"/>
<path d="M1724.34,1111.54L1732.43,1125.54L1716.24,1125.54Z" fill="none" stroke="#ae6ff0" stroke-width="2.3" stroke-linejoin="miter"/>
<path d="M1746.58,1097.98L1754.68,1111.98L1738.48,1111.98Z" fill="none" stroke="#ae6ff0" stroke-width="2.3" stroke-linejoin="miter"/>
<path d="M1768.83,1087.58L1776.92,1101.58L1760.73,1101.58Z" fill="none" stroke="#ae6ff0" stroke-width="2.3" stroke-linejoin="miter"/>
<path d="M1791.07,1082.22L1799.17,1096.22L1782.97,1096.22Z" fill="none" stroke="#ae6ff0" stroke-width="2.3" stroke-linejoin="miter"/>
<path d="M1813.32,1083.23L1821.41,1097.23L1805.22,1097.23Z" fill="none" stroke="#ae6ff0" stroke-width="2.3" stroke-linejoin="miter"/>
<path d="M1835.56,1089.53L1843.66,1103.53L1827.46,1103.53Z" fill="none" stroke="#ae6ff0" stroke-width="2.3" stroke-linejoin="miter"/>
<path d="M1857.81,1101.81L1865.90,1115.81L1849.71,1115.81Z" fill="none" stroke="#ae6ff0" stroke-width="2.3" stroke-linejoin="miter"/>
<path d="M1880.05,1118.20L1888.15,1132.20L1871.95,1132.20Z" fill="none" stroke="#ae6ff0" stroke-width="2.3" stroke-linejoin="miter"/>
<path d="M1902.30,1141.83L1910.39,1155.83L1894.20,1155.83Z" fill="none" stroke="#ae6ff0" stroke-width="2.3" stroke-linejoin="miter"/>
<path d="M1924.54,1170.18L1932.64,1184.18L1916.44,1184.18Z" fill="none" stroke="#ae6ff0" stroke-width="2.3" stroke-linejoin="miter"/>
<path d="M1946.79,1200.43L1954.88,1214.43L1938.69,1214.43Z" fill="none" stroke="#ae6ff0" stroke-width="2.3" stroke-linejoin="miter"/>
<path d="M1969.03,1228.78L1977.13,1242.78L1960.93,1242.78Z" fill="none" stroke="#ae6ff0" stroke-width="2.3" stroke-linejoin="miter"/>
<path d="M1991.28,1253.99L1999.38,1267.99L1983.18,1267.99Z" fill="none" stroke="#ae6ff0" stroke-width="2.3" stroke-linejoin="miter"/>
<path d="M2013.52,1273.84L2021.62,1287.84L2005.42,1287.84Z" fill="none" stroke="#ae6ff0" stroke-width="2.3" stroke-linejoin="miter"/>
<path d="M1212.70,945.25L1220.80,959.25L1204.60,959.25Z" fill="none" stroke="#c9a02a" stroke-width="2.3" stroke-linejoin="miter"/>
<path d="M1234.94,948.12L1243.04,962.12L1226.85,962.12Z" fill="none" stroke="#c9a02a" stroke-width="2.3" stroke-linejoin="miter"/>
<path d="M1257.19,954.49L1265.29,968.49L1249.09,968.49Z" fill="none" stroke="#c9a02a" stroke-width="2.3" stroke-linejoin="miter"/>
<path d="M1279.43,964.75L1287.53,978.75L1271.34,978.75Z" fill="none" stroke="#c9a02a" stroke-width="2.3" stroke-linejoin="miter"/>
<path d="M1301.68,978.91L1309.78,992.91L1293.58,992.91Z" fill="none" stroke="#c9a02a" stroke-width="2.3" stroke-linejoin="miter"/>
<path d="M1323.92,998.40L1332.02,1012.40L1315.83,1012.40Z" fill="none" stroke="#c9a02a" stroke-width="2.3" stroke-linejoin="miter"/>
<path d="M1346.17,1024.26L1354.27,1038.26L1338.07,1038.26Z" fill="none" stroke="#c9a02a" stroke-width="2.3" stroke-linejoin="miter"/>
<path d="M1368.41,1060.17L1376.51,1074.17L1360.32,1074.17Z" fill="none" stroke="#c9a02a" stroke-width="2.3" stroke-linejoin="miter"/>
<path d="M1390.66,1092.59L1398.76,1106.59L1382.56,1106.59Z" fill="none" stroke="#c9a02a" stroke-width="2.3" stroke-linejoin="miter"/>
<path d="M1412.90,1129.56L1421.00,1143.56L1404.81,1143.56Z" fill="none" stroke="#c9a02a" stroke-width="2.3" stroke-linejoin="miter"/>
<path d="M1435.15,1152.51L1443.25,1166.51L1427.05,1166.51Z" fill="none" stroke="#c9a02a" stroke-width="2.3" stroke-linejoin="miter"/>
<path d="M1457.39,1167.53L1465.49,1181.53L1449.30,1181.53Z" fill="none" stroke="#c9a02a" stroke-width="2.3" stroke-linejoin="miter"/>
<path d="M1479.64,1173.26L1487.74,1187.26L1471.54,1187.26Z" fill="none" stroke="#c9a02a" stroke-width="2.3" stroke-linejoin="miter"/>
<path d="M1501.88,1175.60L1509.98,1189.60L1493.79,1189.60Z" fill="none" stroke="#c9a02a" stroke-width="2.3" stroke-linejoin="miter"/>
<path d="M1524.13,1178.19L1532.23,1192.19L1516.03,1192.19Z" fill="none" stroke="#c9a02a" stroke-width="2.3" stroke-linejoin="miter"/>
<path d="M1546.38,1181.46L1554.47,1195.46L1538.28,1195.46Z" fill="none" stroke="#c9a02a" stroke-width="2.3" stroke-linejoin="miter"/>
<path d="M1568.62,1183.55L1576.72,1197.55L1560.52,1197.55Z" fill="none" stroke="#c9a02a" stroke-width="2.3" stroke-linejoin="miter"/>
<path d="M1590.87,1182.82L1598.96,1196.82L1582.77,1196.82Z" fill="none" stroke="#c9a02a" stroke-width="2.3" stroke-linejoin="miter"/>
<path d="M1613.11,1182.82L1621.21,1196.82L1605.01,1196.82Z" fill="none" stroke="#c9a02a" stroke-width="2.3" stroke-linejoin="miter"/>
<path d="M1635.36,1178.08L1643.45,1192.08L1627.26,1192.08Z" fill="none" stroke="#c9a02a" stroke-width="2.3" stroke-linejoin="miter"/>
<path d="M1657.60,1170.20L1665.70,1184.20L1649.50,1184.20Z" fill="none" stroke="#c9a02a" stroke-width="2.3" stroke-linejoin="miter"/>
<path d="M1679.85,1157.90L1687.94,1171.90L1671.75,1171.90Z" fill="none" stroke="#c9a02a" stroke-width="2.3" stroke-linejoin="miter"/>
<path d="M1702.09,1144.03L1710.19,1158.03L1693.99,1158.03Z" fill="none" stroke="#c9a02a" stroke-width="2.3" stroke-linejoin="miter"/>
<path d="M1724.34,1130.47L1732.43,1144.47L1716.24,1144.47Z" fill="none" stroke="#c9a02a" stroke-width="2.3" stroke-linejoin="miter"/>
<path d="M1746.58,1120.37L1754.68,1134.37L1738.48,1134.37Z" fill="none" stroke="#c9a02a" stroke-width="2.3" stroke-linejoin="miter"/>
<path d="M1768.83,1113.44L1776.92,1127.44L1760.73,1127.44Z" fill="none" stroke="#c9a02a" stroke-width="2.3" stroke-linejoin="miter"/>
<path d="M1791.07,1112.49L1799.17,1126.49L1782.97,1126.49Z" fill="none" stroke="#c9a02a" stroke-width="2.3" stroke-linejoin="miter"/>
<path d="M1813.32,1116.31L1821.41,1130.31L1805.22,1130.31Z" fill="none" stroke="#c9a02a" stroke-width="2.3" stroke-linejoin="miter"/>
<path d="M1835.56,1127.33L1843.66,1141.33L1827.46,1141.33Z" fill="none" stroke="#c9a02a" stroke-width="2.3" stroke-linejoin="miter"/>
<path d="M1857.81,1143.09L1865.90,1157.09L1849.71,1157.09Z" fill="none" stroke="#c9a02a" stroke-width="2.3" stroke-linejoin="miter"/>
<path d="M1880.05,1161.36L1888.15,1175.36L1871.95,1175.36Z" fill="none" stroke="#c9a02a" stroke-width="2.3" stroke-linejoin="miter"/>
<path d="M1902.30,1185.62L1910.39,1199.62L1894.20,1199.62Z" fill="none" stroke="#c9a02a" stroke-width="2.3" stroke-linejoin="miter"/>
<path d="M1924.54,1210.19L1932.64,1224.19L1916.44,1224.19Z" fill="none" stroke="#c9a02a" stroke-width="2.3" stroke-linejoin="miter"/>
<path d="M1946.79,1235.08L1954.88,1249.08L1938.69,1249.08Z" fill="none" stroke="#c9a02a" stroke-width="2.3" stroke-linejoin="miter"/>
<path d="M1969.03,1258.40L1977.13,1272.40L1960.93,1272.40Z" fill="none" stroke="#c9a02a" stroke-width="2.3" stroke-linejoin="miter"/>
<path d="M1991.28,1277.30L1999.38,1291.30L1983.18,1291.30Z" fill="none" stroke="#c9a02a" stroke-width="2.3" stroke-linejoin="miter"/>
<path d="M2013.52,1294.32L2021.62,1308.32L2005.42,1308.32Z" fill="none" stroke="#c9a02a" stroke-width="2.3" stroke-linejoin="miter"/>
<path d="M1212.70,851.00 L1234.94,873.10 L1257.19,896.10 L1279.43,916.50 L1301.68,934.30 L1323.92,949.30 L1346.17,961.30 L1368.41,969.80 L1390.66,976.00 L1412.90,981.10 L1435.15,985.90 L1457.39,990.30 L1479.64,996.30 L1501.88,1002.40 L1524.13,1008.40 L1546.38,1015.80 L1568.62,1025.80 L1590.87,1037.90 L1613.11,1048.99 L1635.36,1060.60 L1657.60,1076.22 L1679.85,1096.55 L1702.09,1118.46 L1724.34,1141.86 L1746.58,1165.84 L1768.83,1190.12 L1791.07,1214.93 L1813.32,1240.67 L1835.56,1266.09 L1857.81,1290.66 L1880.05,1314.05 L1902.30,1336.06 L1924.54,1355.82 L1946.79,1370.94 L1969.03,1383.27 L1991.28,1396.19 L2013.52,1409.00" fill="none" stroke="#4a4a4a" stroke-width="3.3" stroke-linejoin="round" stroke-linecap="butt"/>
<path d="M1212.70,851.50 L1234.94,874.50 L1257.19,899.00 L1279.43,922.00 L1301.68,948.00 L1323.92,974.50 L1346.17,993.80 L1368.41,1009.50 L1390.66,1019.10 L1412.90,1028.60 L1435.15,1035.50 L1457.39,1043.10 L1479.64,1050.80 L1501.88,1058.40 L1524.13,1066.00 L1546.38,1073.70 L1568.62,1081.30 L1590.87,1089.00 L1613.11,1099.35 L1635.36,1110.65 L1657.60,1123.92 L1679.85,1139.64 L1702.09,1156.37 L1724.34,1173.97 L1746.58,1192.62 L1768.83,1212.34 L1791.07,1233.11 L1813.32,1255.19 L1835.56,1277.66 L1857.81,1300.54 L1880.05,1322.36 L1902.30,1341.56 L1924.54,1358.46 L1946.79,1371.96 L1969.03,1383.44 L1991.28,1396.04 L2013.52,1409.00" fill="none" stroke="#ee3b3f" stroke-width="3.3" stroke-linejoin="round" stroke-linecap="butt"/>
<path d="M1212.70,851.00 L1234.94,874.00 L1257.19,898.00 L1279.43,921.00 L1301.68,948.50 L1323.92,978.80 L1346.17,999.90 L1368.41,1018.40 L1390.66,1030.00 L1412.90,1040.30 L1435.15,1048.50 L1457.39,1056.70 L1479.64,1064.90 L1501.88,1073.10 L1524.13,1081.40 L1546.38,1089.60 L1568.62,1097.80 L1590.87,1106.00 L1613.11,1115.81 L1635.36,1126.31 L1657.60,1138.63 L1679.85,1153.17 L1702.09,1168.99 L1724.34,1186.04 L1746.58,1204.17 L1768.83,1223.40 L1791.07,1243.48 L1813.32,1264.57 L1835.56,1285.79 L1857.81,1306.92 L1880.05,1327.12 L1902.30,1345.50 L1924.54,1362.00 L1946.79,1375.50 L1969.03,1387.06 L1991.28,1398.71 L2013.52,1410.10" fill="none" stroke="#3d74e8" stroke-width="3.3" stroke-linejoin="round" stroke-linecap="butt"/>
<path d="M1212.70,852.00 L1234.94,875.00 L1257.19,900.00 L1279.43,923.50 L1301.68,951.00 L1323.92,983.50 L1346.17,1006.80 L1368.41,1025.90 L1390.66,1040.30 L1412.90,1051.20 L1435.15,1060.80 L1457.39,1069.80 L1479.64,1078.90 L1501.88,1087.90 L1524.13,1096.90 L1546.38,1105.90 L1568.62,1115.00 L1590.87,1124.00 L1613.11,1133.92 L1635.36,1144.24 L1657.60,1155.62 L1679.85,1168.25 L1702.09,1182.48 L1724.34,1198.40 L1746.58,1215.69 L1768.83,1234.55 L1791.07,1253.88 L1813.32,1273.30 L1835.56,1292.82 L1857.81,1312.67 L1880.05,1331.86 L1902.30,1349.58 L1924.54,1365.59 L1946.79,1378.47 L1969.03,1389.45 L1991.28,1400.97 L2013.52,1412.50" fill="none" stroke="#4db56b" stroke-width="3.3" stroke-linejoin="round" stroke-linecap="butt"/>
<path d="M1212.70,853.50 L1234.94,876.50 L1257.19,902.00 L1279.43,925.50 L1301.68,953.00 L1323.92,986.00 L1346.17,1010.20 L1368.41,1032.10 L1390.66,1050.50 L1412.90,1062.10 L1435.15,1072.40 L1457.39,1081.90 L1479.64,1091.40 L1501.88,1100.90 L1524.13,1110.50 L1546.38,1120.00 L1568.62,1129.50 L1590.87,1139.00 L1613.11,1149.17 L1635.36,1159.59 L1657.60,1170.46 L1679.85,1181.83 L1702.09,1195.13 L1724.34,1210.64 L1746.58,1227.05 L1768.83,1244.18 L1791.07,1261.87 L1813.32,1280.11 L1835.56,1298.56 L1857.81,1317.24 L1880.05,1335.40 L1902.30,1352.51 L1924.54,1368.08 L1946.79,1380.47 L1969.03,1390.88 L1991.28,1401.26 L2013.52,1411.30" fill="none" stroke="#ae6ff0" stroke-width="3.3" stroke-linejoin="round" stroke-linecap="butt"/>
<path d="M1212.70,856.50 L1234.94,879.70 L1257.19,904.20 L1279.43,928.40 L1301.68,955.20 L1323.92,988.00 L1346.17,1011.50 L1368.41,1034.10 L1390.66,1053.20 L1412.90,1066.20 L1435.15,1077.20 L1457.39,1088.30 L1479.64,1099.40 L1501.88,1110.50 L1524.13,1121.70 L1546.38,1132.80 L1568.62,1143.90 L1590.87,1155.00 L1613.11,1166.83 L1635.36,1178.83 L1657.60,1190.86 L1679.85,1202.90 L1702.09,1216.05 L1724.34,1230.47 L1746.58,1245.45 L1768.83,1260.86 L1791.07,1276.81 L1813.32,1293.60 L1835.56,1310.24 L1857.81,1326.25 L1880.05,1341.45 L1902.30,1355.81 L1924.54,1368.56 L1946.79,1377.83 L1969.03,1384.85 L1991.28,1391.37 L2013.52,1397.20" fill="none" stroke="#c9a02a" stroke-width="3.3" stroke-linejoin="round" stroke-linecap="butt"/>
</g>
<line x1="1269.2" y1="1328.3" x2="1349.6000000000001" y2="1328.3" stroke="#4a4a4a" stroke-width="4.3" stroke-linecap="round"/>
<text x="1359.5" y="1340.6" font-family="'Liberation Sans', Arial, sans-serif" font-size="36.5" font-weight="normal" text-anchor="start" fill="#000" >0 h</text>
<line x1="1421.9" y1="1328.3" x2="1502.3000000000002" y2="1328.3" stroke="#ee3b3f" stroke-width="4.3" stroke-linecap="round"/>
<text x="1512.5" y="1340.6" font-family="'Liberation Sans', Arial, sans-serif" font-size="36.5" font-weight="normal" text-anchor="start" fill="#000" >1 h</text>
<line x1="1269.2" y1="1372.8999999999999" x2="1349.6000000000001" y2="1372.8999999999999" stroke="#3d74e8" stroke-width="4.3" stroke-linecap="round"/>
<text x="1359.5" y="1385.2" font-family="'Liberation Sans', Arial, sans-serif" font-size="36.5" font-weight="normal" text-anchor="start" fill="#000" >2 h</text>
<line x1="1421.9" y1="1372.8999999999999" x2="1502.3000000000002" y2="1372.8999999999999" stroke="#4db56b" stroke-width="4.3" stroke-linecap="round"/>
<text x="1512.5" y="1385.2" font-family="'Liberation Sans', Arial, sans-serif" font-size="36.5" font-weight="normal" text-anchor="start" fill="#000" >4 h</text>
<line x1="1269.2" y1="1417.5" x2="1349.6000000000001" y2="1417.5" stroke="#ae6ff0" stroke-width="4.3" stroke-linecap="round"/>
<text x="1359.5" y="1429.8" font-family="'Liberation Sans', Arial, sans-serif" font-size="36.5" font-weight="normal" text-anchor="start" fill="#000" >8 h</text>
<line x1="1421.9" y1="1417.5" x2="1502.3000000000002" y2="1417.5" stroke="#c9a02a" stroke-width="4.3" stroke-linecap="round"/>
<text x="1512.5" y="1429.8" font-family="'Liberation Sans', Arial, sans-serif" font-size="36.5" font-weight="normal" text-anchor="start" fill="#000" >24 h</text>
<rect x="150.9" y="1682.9" width="802.1" height="645.0999999999999" fill="none" stroke="#000" stroke-width="2.8"/>
<line x1="149.50" y1="2278.70" x2="138.40" y2="2278.70" stroke="#000" stroke-width="2.7" stroke-linecap="butt"/>
<text x="129.2" y="2289.5" font-family="'Liberation Sans', Arial, sans-serif" font-size="37" font-weight="normal" text-anchor="end" fill="#000" >0</text>
<line x1="149.50" y1="2080.00" x2="138.40" y2="2080.00" stroke="#000" stroke-width="2.7" stroke-linecap="butt"/>
<text x="129.2" y="2090.8" font-family="'Liberation Sans', Arial, sans-serif" font-size="37" font-weight="normal" text-anchor="end" fill="#000" >1</text>
<line x1="149.50" y1="1881.30" x2="138.40" y2="1881.30" stroke="#000" stroke-width="2.7" stroke-linecap="butt"/>
<text x="129.2" y="1892.1" font-family="'Liberation Sans', Arial, sans-serif" font-size="37" font-weight="normal" text-anchor="end" fill="#000" >2</text>
<line x1="149.50" y1="1682.60" x2="138.40" y2="1682.60" stroke="#000" stroke-width="2.7" stroke-linecap="butt"/>
<text x="129.2" y="1693.4" font-family="'Liberation Sans', Arial, sans-serif" font-size="37" font-weight="normal" text-anchor="end" fill="#000" >3</text>
<line x1="149.50" y1="2179.35" x2="143.90" y2="2179.35" stroke="#000" stroke-width="2.2" stroke-linecap="butt"/>
<line x1="149.50" y1="1980.65" x2="143.90" y2="1980.65" stroke="#000" stroke-width="2.2" stroke-linecap="butt"/>
<line x1="149.50" y1="1781.95" x2="143.90" y2="1781.95" stroke="#000" stroke-width="2.2" stroke-linecap="butt"/>
<line x1="311.73" y1="2329.40" x2="311.73" y2="2340.50" stroke="#000" stroke-width="2.7" stroke-linecap="butt"/>
<text x="311.7" y="2377.2" font-family="'Liberation Sans', Arial, sans-serif" font-size="37" font-weight="normal" text-anchor="middle" fill="#000" >0.05</text>
<line x1="631.73" y1="2329.40" x2="631.73" y2="2340.50" stroke="#000" stroke-width="2.7" stroke-linecap="butt"/>
<text x="631.7" y="2377.2" font-family="'Liberation Sans', Arial, sans-serif" font-size="37" font-weight="normal" text-anchor="middle" fill="#000" >0.10</text>
<line x1="951.73" y1="2329.40" x2="951.73" y2="2340.50" stroke="#000" stroke-width="2.7" stroke-linecap="butt"/>
<text x="951.7" y="2377.2" font-family="'Liberation Sans', Arial, sans-serif" font-size="37" font-weight="normal" text-anchor="middle" fill="#000" >0.15</text>
<line x1="471.73" y1="2329.40" x2="471.73" y2="2335.00" stroke="#000" stroke-width="2.2" stroke-linecap="butt"/>
<line x1="791.73" y1="2329.40" x2="791.73" y2="2335.00" stroke="#000" stroke-width="2.2" stroke-linecap="butt"/>
<text x="561.0" y="1670.5" font-family="'Liberation Sans', Arial, sans-serif" font-size="37" font-weight="normal" text-anchor="middle" fill="#000" >IL gel</text>
<text x="12.5" y="1706.0" font-family="'Liberation Sans', Arial, sans-serif" font-size="80" font-weight="normal" text-anchor="start" fill="#000" >e</text>
<text x="552.0" y="2457.8" font-family="'Liberation Sans', Arial, sans-serif" font-size="73" font-weight="normal" text-anchor="middle" fill="#000" >Z' (M&#937;)</text>
<text transform="translate(55,2006.45) rotate(-90)" x="0" y="0" font-family="'Liberation Sans', Arial, sans-serif" font-size="73" text-anchor="middle">-Z" (M&#937;)</text>
<g>
<rect x="573.30" y="2025.00" width="13.8" height="13.8" fill="#4a4a4a"/>
<rect x="531.90" y="2102.30" width="13.8" height="13.8" fill="#4a4a4a"/>
<rect x="501.00" y="2155.10" width="13.8" height="13.8" fill="#4a4a4a"/>
<rect x="465.00" y="2191.50" width="13.8" height="13.8" fill="#4a4a4a"/>
<rect x="438.20" y="2215.90" width="13.8" height="13.8" fill="#4a4a4a"/>
<rect x="411.90" y="2231.00" width="13.8" height="13.8" fill="#4a4a4a"/>
<rect x="378.40" y="2241.10" width="13.8" height="13.8" fill="#4a4a4a"/>
<rect x="357.70" y="2251.10" width="13.8" height="13.8" fill="#4a4a4a"/>
<rect x="327.10" y="2256.70" width="13.8" height="13.8" fill="#4a4a4a"/>
<rect x="302.50" y="2260.10" width="13.8" height="13.8" fill="#4a4a4a"/>
<rect x="281.30" y="2263.40" width="13.8" height="13.8" fill="#4a4a4a"/>
<rect x="263.10" y="2265.60" width="13.8" height="13.8" fill="#4a4a4a"/>
<rect x="248.10" y="2267.60" width="13.8" height="13.8" fill="#4a4a4a"/>
<rect x="234.10" y="2269.10" width="13.8" height="13.8" fill="#4a4a4a"/>
<rect x="222.10" y="2270.30" width="13.8" height="13.8" fill="#4a4a4a"/>
<rect x="213.10" y="2271.10" width="13.8" height="13.8" fill="#4a4a4a"/>
<rect x="207.10" y="2271.60" width="13.8" height="13.8" fill="#4a4a4a"/>
<rect x="767.70" y="1736.60" width="13.8" height="13.8" fill="#ee3b3f"/>
<rect x="682.90" y="1905.60" width="13.8" height="13.8" fill="#ee3b3f"/>
<rect x="633.10" y="2021.40" width="13.8" height="13.8" fill="#ee3b3f"/>
<rect x="589.10" y="2100.60" width="13.8" height="13.8" fill="#ee3b3f"/>
<rect x="543.60" y="2153.80" width="13.8" height="13.8" fill="#ee3b3f"/>
<rect x="511.40" y="2189.60" width="13.8" height="13.8" fill="#ee3b3f"/>
<rect x="478.00" y="2214.40" width="13.8" height="13.8" fill="#ee3b3f"/>
<rect x="437.30" y="2230.60" width="13.8" height="13.8" fill="#ee3b3f"/>
<rect x="409.90" y="2242.80" width="13.8" height="13.8" fill="#ee3b3f"/>
<rect x="373.10" y="2250.70" width="13.8" height="13.8" fill="#ee3b3f"/>
<rect x="342.70" y="2256.70" width="13.8" height="13.8" fill="#ee3b3f"/>
<rect x="315.10" y="2260.10" width="13.8" height="13.8" fill="#ee3b3f"/>
<rect x="290.10" y="2263.40" width="13.8" height="13.8" fill="#ee3b3f"/>
<rect x="269.10" y="2265.60" width="13.8" height="13.8" fill="#ee3b3f"/>
<rect x="266.10" y="2266.00" width="13.8" height="13.8" fill="#ee3b3f"/>
<rect x="263.10" y="2266.36" width="13.8" height="13.8" fill="#ee3b3f"/>
<rect x="260.10" y="2266.69" width="13.8" height="13.8" fill="#ee3b3f"/>
<rect x="257.10" y="2267.01" width="13.8" height="13.8" fill="#ee3b3f"/>
<rect x="254.10" y="2267.32" width="13.8" height="13.8" fill="#ee3b3f"/>
<rect x="251.10" y="2267.63" width="13.8" height="13.8" fill="#ee3b3f"/>
<rect x="248.10" y="2267.93" width="13.8" height="13.8" fill="#ee3b3f"/>
<rect x="245.10" y="2268.23" width="13.8" height="13.8" fill="#ee3b3f"/>
<rect x="242.10" y="2268.52" width="13.8" height="13.8" fill="#ee3b3f"/>
<rect x="239.10" y="2268.82" width="13.8" height="13.8" fill="#ee3b3f"/>
<rect x="236.10" y="2269.10" width="13.8" height="13.8" fill="#ee3b3f"/>
<rect x="233.10" y="2269.39" width="13.8" height="13.8" fill="#ee3b3f"/>
<rect x="230.10" y="2269.67" width="13.8" height="13.8" fill="#ee3b3f"/>
<rect x="227.10" y="2269.95" width="13.8" height="13.8" fill="#ee3b3f"/>
<rect x="224.10" y="2270.23" width="13.8" height="13.8" fill="#ee3b3f"/>
<rect x="221.10" y="2270.51" width="13.8" height="13.8" fill="#ee3b3f"/>
<rect x="218.10" y="2270.78" width="13.8" height="13.8" fill="#ee3b3f"/>
<rect x="215.10" y="2271.06" width="13.8" height="13.8" fill="#ee3b3f"/>
<rect x="212.10" y="2271.33" width="13.8" height="13.8" fill="#ee3b3f"/>
<rect x="209.10" y="2271.60" width="13.8" height="13.8" fill="#ee3b3f"/>
<rect x="770.90" y="1736.60" width="13.8" height="13.8" fill="#3d74e8"/>
<rect x="703.40" y="1905.60" width="13.8" height="13.8" fill="#3d74e8"/>
<rect x="652.60" y="2021.40" width="13.8" height="13.8" fill="#3d74e8"/>
<rect x="605.10" y="2100.60" width="13.8" height="13.8" fill="#3d74e8"/>
<rect x="560.10" y="2153.80" width="13.8" height="13.8" fill="#3d74e8"/>
<rect x="528.00" y="2189.60" width="13.8" height="13.8" fill="#3d74e8"/>
<rect x="487.10" y="2214.40" width="13.8" height="13.8" fill="#3d74e8"/>
<rect x="445.10" y="2230.60" width="13.8" height="13.8" fill="#3d74e8"/>
<rect x="415.10" y="2242.80" width="13.8" height="13.8" fill="#3d74e8"/>
<rect x="379.10" y="2250.70" width="13.8" height="13.8" fill="#3d74e8"/>
<rect x="346.10" y="2256.70" width="13.8" height="13.8" fill="#3d74e8"/>
<rect x="318.10" y="2260.10" width="13.8" height="13.8" fill="#3d74e8"/>
<rect x="292.10" y="2263.40" width="13.8" height="13.8" fill="#3d74e8"/>
<rect x="271.10" y="2265.60" width="13.8" height="13.8" fill="#3d74e8"/>
<rect x="268.00" y="2266.15" width="13.8" height="13.8" fill="#3d74e8"/>
<rect x="264.90" y="2266.66" width="13.8" height="13.8" fill="#3d74e8"/>
<rect x="261.80" y="2267.14" width="13.8" height="13.8" fill="#3d74e8"/>
<rect x="258.70" y="2267.61" width="13.8" height="13.8" fill="#3d74e8"/>
<rect x="255.60" y="2268.07" width="13.8" height="13.8" fill="#3d74e8"/>
<rect x="252.50" y="2268.53" width="13.8" height="13.8" fill="#3d74e8"/>
<rect x="249.40" y="2268.98" width="13.8" height="13.8" fill="#3d74e8"/>
<rect x="246.30" y="2269.43" width="13.8" height="13.8" fill="#3d74e8"/>
<rect x="243.20" y="2269.87" width="13.8" height="13.8" fill="#3d74e8"/>
<rect x="240.10" y="2270.32" width="13.8" height="13.8" fill="#3d74e8"/>
<rect x="237.00" y="2270.75" width="13.8" height="13.8" fill="#3d74e8"/>
<rect x="233.90" y="2271.19" width="13.8" height="13.8" fill="#3d74e8"/>
<rect x="230.80" y="2271.62" width="13.8" height="13.8" fill="#3d74e8"/>
<rect x="227.70" y="2272.05" width="13.8" height="13.8" fill="#3d74e8"/>
<rect x="224.60" y="2272.48" width="13.8" height="13.8" fill="#3d74e8"/>
<rect x="221.50" y="2272.91" width="13.8" height="13.8" fill="#3d74e8"/>
<rect x="218.40" y="2273.33" width="13.8" height="13.8" fill="#3d74e8"/>
<rect x="215.30" y="2273.76" width="13.8" height="13.8" fill="#3d74e8"/>
<rect x="212.20" y="2274.18" width="13.8" height="13.8" fill="#3d74e8"/>
<rect x="209.10" y="2274.60" width="13.8" height="13.8" fill="#3d74e8"/>
<rect x="783.00" y="1736.60" width="13.8" height="13.8" fill="#4db56b"/>
<rect x="696.20" y="1905.60" width="13.8" height="13.8" fill="#4db56b"/>
<rect x="643.70" y="2021.40" width="13.8" height="13.8" fill="#4db56b"/>
<rect x="600.80" y="2100.60" width="13.8" height="13.8" fill="#4db56b"/>
<rect x="556.30" y="2153.80" width="13.8" height="13.8" fill="#4db56b"/>
<rect x="517.70" y="2189.60" width="13.8" height="13.8" fill="#4db56b"/>
<rect x="484.70" y="2214.40" width="13.8" height="13.8" fill="#4db56b"/>
<rect x="442.30" y="2230.60" width="13.8" height="13.8" fill="#4db56b"/>
<rect x="412.80" y="2242.80" width="13.8" height="13.8" fill="#4db56b"/>
<rect x="377.10" y="2250.70" width="13.8" height="13.8" fill="#4db56b"/>
<rect x="345.10" y="2256.70" width="13.8" height="13.8" fill="#4db56b"/>
<rect x="317.10" y="2260.10" width="13.8" height="13.8" fill="#4db56b"/>
<rect x="291.10" y="2263.40" width="13.8" height="13.8" fill="#4db56b"/>
<rect x="270.10" y="2265.60" width="13.8" height="13.8" fill="#4db56b"/>
<rect x="267.05" y="2266.00" width="13.8" height="13.8" fill="#4db56b"/>
<rect x="264.00" y="2266.36" width="13.8" height="13.8" fill="#4db56b"/>
<rect x="260.95" y="2266.69" width="13.8" height="13.8" fill="#4db56b"/>
<rect x="257.90" y="2267.01" width="13.8" height="13.8" fill="#4db56b"/>
<rect x="254.85" y="2267.32" width="13.8" height="13.8" fill="#4db56b"/>
<rect x="251.80" y="2267.63" width="13.8" height="13.8" fill="#4db56b"/>
<rect x="248.75" y="2267.93" width="13.8" height="13.8" fill="#4db56b"/>
<rect x="245.70" y="2268.23" width="13.8" height="13.8" fill="#4db56b"/>
<rect x="242.65" y="2268.52" width="13.8" height="13.8" fill="#4db56b"/>
<rect x="239.60" y="2268.82" width="13.8" height="13.8" fill="#4db56b"/>
<rect x="236.55" y="2269.10" width="13.8" height="13.8" fill="#4db56b"/>
<rect x="233.50" y="2269.39" width="13.8" height="13.8" fill="#4db56b"/>
<rect x="230.45" y="2269.67" width="13.8" height="13.8" fill="#4db56b"/>
<rect x="227.40" y="2269.95" width="13.8" height="13.8" fill="#4db56b"/>
<rect x="224.35" y="2270.23" width="13.8" height="13.8" fill="#4db56b"/>
<rect x="221.30" y="2270.51" width="13.8" height="13.8" fill="#4db56b"/>
<rect x="218.25" y="2270.78" width="13.8" height="13.8" fill="#4db56b"/>
<rect x="215.20" y="2271.06" width="13.8" height="13.8" fill="#4db56b"/>
<rect x="212.15" y="2271.33" width="13.8" height="13.8" fill="#4db56b"/>
<rect x="209.10" y="2271.60" width="13.8" height="13.8" fill="#4db56b"/>
<rect x="795.70" y="1736.60" width="13.8" height="13.8" fill="#ae6ff0"/>
<rect x="718.90" y="1905.60" width="13.8" height="13.8" fill="#ae6ff0"/>
<rect x="660.20" y="2021.40" width="13.8" height="13.8" fill="#ae6ff0"/>
<rect x="611.10" y="2100.60" width="13.8" height="13.8" fill="#ae6ff0"/>
<rect x="568.60" y="2153.80" width="13.8" height="13.8" fill="#ae6ff0"/>
<rect x="536.20" y="2189.60" width="13.8" height="13.8" fill="#ae6ff0"/>
<rect x="490.20" y="2214.40" width="13.8" height="13.8" fill="#ae6ff0"/>
<rect x="452.30" y="2230.60" width="13.8" height="13.8" fill="#ae6ff0"/>
<rect x="418.10" y="2242.80" width="13.8" height="13.8" fill="#ae6ff0"/>
<rect x="381.10" y="2250.70" width="13.8" height="13.8" fill="#ae6ff0"/>
<rect x="348.10" y="2256.70" width="13.8" height="13.8" fill="#ae6ff0"/>
<rect x="320.10" y="2260.10" width="13.8" height="13.8" fill="#ae6ff0"/>
<rect x="293.10" y="2263.40" width="13.8" height="13.8" fill="#ae6ff0"/>
<rect x="272.10" y="2265.60" width="13.8" height="13.8" fill="#ae6ff0"/>
<rect x="268.95" y="2266.00" width="13.8" height="13.8" fill="#ae6ff0"/>
<rect x="265.80" y="2266.36" width="13.8" height="13.8" fill="#ae6ff0"/>
<rect x="262.65" y="2266.69" width="13.8" height="13.8" fill="#ae6ff0"/>
<rect x="259.50" y="2267.01" width="13.8" height="13.8" fill="#ae6ff0"/>
<rect x="256.35" y="2267.32" width="13.8" height="13.8" fill="#ae6ff0"/>
<rect x="253.20" y="2267.63" width="13.8" height="13.8" fill="#ae6ff0"/>
<rect x="250.05" y="2267.93" width="13.8" height="13.8" fill="#ae6ff0"/>
<rect x="246.90" y="2268.23" width="13.8" height="13.8" fill="#ae6ff0"/>
<rect x="243.75" y="2268.52" width="13.8" height="13.8" fill="#ae6ff0"/>
<rect x="240.60" y="2268.82" width="13.8" height="13.8" fill="#ae6ff0"/>
<rect x="237.45" y="2269.10" width="13.8" height="13.8" fill="#ae6ff0"/>
<rect x="234.30" y="2269.39" width="13.8" height="13.8" fill="#ae6ff0"/>
<rect x="231.15" y="2269.67" width="13.8" height="13.8" fill="#ae6ff0"/>
<rect x="228.00" y="2269.95" width="13.8" height="13.8" fill="#ae6ff0"/>
<rect x="224.85" y="2270.23" width="13.8" height="13.8" fill="#ae6ff0"/>
<rect x="221.70" y="2270.51" width="13.8" height="13.8" fill="#ae6ff0"/>
<rect x="218.55" y="2270.78" width="13.8" height="13.8" fill="#ae6ff0"/>
<rect x="215.40" y="2271.06" width="13.8" height="13.8" fill="#ae6ff0"/>
<rect x="212.25" y="2271.33" width="13.8" height="13.8" fill="#ae6ff0"/>
<rect x="209.10" y="2271.60" width="13.8" height="13.8" fill="#ae6ff0"/>
<rect x="816.90" y="1736.60" width="13.8" height="13.8" fill="#c9a02a"/>
<rect x="737.60" y="1905.60" width="13.8" height="13.8" fill="#c9a02a"/>
<rect x="679.10" y="2021.40" width="13.8" height="13.8" fill="#c9a02a"/>
<rect x="624.00" y="2100.60" width="13.8" height="13.8" fill="#c9a02a"/>
<rect x="581.60" y="2153.80" width="13.8" height="13.8" fill="#c9a02a"/>
<rect x="550.30" y="2189.60" width="13.8" height="13.8" fill="#c9a02a"/>
<rect x="502.00" y="2214.40" width="13.8" height="13.8" fill="#c9a02a"/>
<rect x="463.70" y="2230.60" width="13.8" height="13.8" fill="#c9a02a"/>
<rect x="428.00" y="2242.80" width="13.8" height="13.8" fill="#c9a02a"/>
<rect x="388.20" y="2250.70" width="13.8" height="13.8" fill="#c9a02a"/>
<rect x="355.00" y="2256.70" width="13.8" height="13.8" fill="#c9a02a"/>
<rect x="324.80" y="2260.10" width="13.8" height="13.8" fill="#c9a02a"/>
<rect x="297.10" y="2263.40" width="13.8" height="13.8" fill="#c9a02a"/>
<rect x="274.40" y="2265.60" width="13.8" height="13.8" fill="#c9a02a"/>
<rect x="271.14" y="2266.00" width="13.8" height="13.8" fill="#c9a02a"/>
<rect x="267.87" y="2266.36" width="13.8" height="13.8" fill="#c9a02a"/>
<rect x="264.61" y="2266.69" width="13.8" height="13.8" fill="#c9a02a"/>
<rect x="261.34" y="2267.01" width="13.8" height="13.8" fill="#c9a02a"/>
<rect x="258.08" y="2267.32" width="13.8" height="13.8" fill="#c9a02a"/>
<rect x="254.81" y="2267.63" width="13.8" height="13.8" fill="#c9a02a"/>
<rect x="251.54" y="2267.93" width="13.8" height="13.8" fill="#c9a02a"/>
<rect x="248.28" y="2268.23" width="13.8" height="13.8" fill="#c9a02a"/>
<rect x="245.02" y="2268.52" width="13.8" height="13.8" fill="#c9a02a"/>
<rect x="241.75" y="2268.82" width="13.8" height="13.8" fill="#c9a02a"/>
<rect x="238.48" y="2269.10" width="13.8" height="13.8" fill="#c9a02a"/>
<rect x="235.22" y="2269.39" width="13.8" height="13.8" fill="#c9a02a"/>
<rect x="231.96" y="2269.67" width="13.8" height="13.8" fill="#c9a02a"/>
<rect x="228.69" y="2269.95" width="13.8" height="13.8" fill="#c9a02a"/>
<rect x="225.42" y="2270.23" width="13.8" height="13.8" fill="#c9a02a"/>
<rect x="222.16" y="2270.51" width="13.8" height="13.8" fill="#c9a02a"/>
<rect x="218.90" y="2270.78" width="13.8" height="13.8" fill="#c9a02a"/>
<rect x="215.63" y="2271.06" width="13.8" height="13.8" fill="#c9a02a"/>
<rect x="212.36" y="2271.33" width="13.8" height="13.8" fill="#c9a02a"/>
<rect x="209.10" y="2271.60" width="13.8" height="13.8" fill="#c9a02a"/>
</g>
<rect x="275.30" y="1737.90" width="14.6" height="14.6" fill="#4a4a4a"/>
<text x="332.5" y="1757.9" font-family="'Liberation Sans', Arial, sans-serif" font-size="37" font-weight="normal" text-anchor="start" fill="#000" >0 h</text>
<rect x="275.30" y="1782.70" width="14.6" height="14.6" fill="#ee3b3f"/>
<text x="332.5" y="1802.7" font-family="'Liberation Sans', Arial, sans-serif" font-size="37" font-weight="normal" text-anchor="start" fill="#000" >1 h</text>
<rect x="275.30" y="1827.50" width="14.6" height="14.6" fill="#3d74e8"/>
<text x="332.5" y="1847.5" font-family="'Liberation Sans', Arial, sans-serif" font-size="37" font-weight="normal" text-anchor="start" fill="#000" >2 h</text>
<rect x="275.30" y="1872.30" width="14.6" height="14.6" fill="#4db56b"/>
<text x="332.5" y="1892.3" font-family="'Liberation Sans', Arial, sans-serif" font-size="37" font-weight="normal" text-anchor="start" fill="#000" >4 h</text>
<rect x="275.30" y="1917.10" width="14.6" height="14.6" fill="#ae6ff0"/>
<text x="332.5" y="1937.1" font-family="'Liberation Sans', Arial, sans-serif" font-size="37" font-weight="normal" text-anchor="start" fill="#000" >8 h</text>
<rect x="275.30" y="1961.90" width="14.6" height="14.6" fill="#c9a02a"/>
<text x="332.5" y="1981.9" font-family="'Liberation Sans', Arial, sans-serif" font-size="37" font-weight="normal" text-anchor="start" fill="#000" >24 h</text>
<rect x="1212.7" y="1683.0" width="800.8" height="645.1999999999998" fill="none" stroke="#000" stroke-width="2.8"/>
<line x1="1212.70" y1="2329.60" x2="1212.70" y2="2340.70" stroke="#000" stroke-width="2.7" stroke-linecap="butt"/>
<text x="1179.9" y="2383.4" font-family="'Liberation Sans', Arial, sans-serif" font-size="36">10<tspan font-size="25" dy="-14.6">&#8722;1</tspan></text>
<line x1="1252.88" y1="2329.60" x2="1252.88" y2="2335.20" stroke="#000" stroke-width="2.2" stroke-linecap="butt"/>
<line x1="1276.38" y1="2329.60" x2="1276.38" y2="2335.20" stroke="#000" stroke-width="2.2" stroke-linecap="butt"/>
<line x1="1293.06" y1="2329.60" x2="1293.06" y2="2335.20" stroke="#000" stroke-width="2.2" stroke-linecap="butt"/>
<line x1="1305.99" y1="2329.60" x2="1305.99" y2="2335.20" stroke="#000" stroke-width="2.2" stroke-linecap="butt"/>
<line x1="1316.56" y1="2329.60" x2="1316.56" y2="2335.20" stroke="#000" stroke-width="2.2" stroke-linecap="butt"/>
<line x1="1325.50" y1="2329.60" x2="1325.50" y2="2335.20" stroke="#000" stroke-width="2.2" stroke-linecap="butt"/>
<line x1="1333.24" y1="2329.60" x2="1333.24" y2="2335.20" stroke="#000" stroke-width="2.2" stroke-linecap="butt"/>
<line x1="1340.06" y1="2329.60" x2="1340.06" y2="2335.20" stroke="#000" stroke-width="2.2" stroke-linecap="butt"/>
<line x1="1346.17" y1="2329.60" x2="1346.17" y2="2340.70" stroke="#000" stroke-width="2.7" stroke-linecap="butt"/>
<text x="1320.7" y="2383.4" font-family="'Liberation Sans', Arial, sans-serif" font-size="36">10<tspan font-size="25" dy="-14.6">0</tspan></text>
<line x1="1386.35" y1="2329.60" x2="1386.35" y2="2335.20" stroke="#000" stroke-width="2.2" stroke-linecap="butt"/>
<line x1="1409.85" y1="2329.60" x2="1409.85" y2="2335.20" stroke="#000" stroke-width="2.2" stroke-linecap="butt"/>
<line x1="1426.53" y1="2329.60" x2="1426.53" y2="2335.20" stroke="#000" stroke-width="2.2" stroke-linecap="butt"/>
<line x1="1439.46" y1="2329.60" x2="1439.46" y2="2335.20" stroke="#000" stroke-width="2.2" stroke-linecap="butt"/>
<line x1="1450.03" y1="2329.60" x2="1450.03" y2="2335.20" stroke="#000" stroke-width="2.2" stroke-linecap="butt"/>
<line x1="1458.97" y1="2329.60" x2="1458.97" y2="2335.20" stroke="#000" stroke-width="2.2" stroke-linecap="butt"/>
<line x1="1466.71" y1="2329.60" x2="1466.71" y2="2335.20" stroke="#000" stroke-width="2.2" stroke-linecap="butt"/>
<line x1="1473.53" y1="2329.60" x2="1473.53" y2="2335.20" stroke="#000" stroke-width="2.2" stroke-linecap="butt"/>
<line x1="1479.64" y1="2329.60" x2="1479.64" y2="2340.70" stroke="#000" stroke-width="2.7" stroke-linecap="butt"/>
<text x="1454.2" y="2383.4" font-family="'Liberation Sans', Arial, sans-serif" font-size="36">10<tspan font-size="25" dy="-14.6">1</tspan></text>
<line x1="1519.82" y1="2329.60" x2="1519.82" y2="2335.20" stroke="#000" stroke-width="2.2" stroke-linecap="butt"/>
<line x1="1543.32" y1="2329.60" x2="1543.32" y2="2335.20" stroke="#000" stroke-width="2.2" stroke-linecap="butt"/>
<line x1="1560.00" y1="2329.60" x2="1560.00" y2="2335.20" stroke="#000" stroke-width="2.2" stroke-linecap="butt"/>
<line x1="1572.93" y1="2329.60" x2="1572.93" y2="2335.20" stroke="#000" stroke-width="2.2" stroke-linecap="butt"/>
<line x1="1583.50" y1="2329.60" x2="1583.50" y2="2335.20" stroke="#000" stroke-width="2.2" stroke-linecap="butt"/>
<line x1="1592.44" y1="2329.60" x2="1592.44" y2="2335.20" stroke="#000" stroke-width="2.2" stroke-linecap="butt"/>
<line x1="1600.18" y1="2329.60" x2="1600.18" y2="2335.20" stroke="#000" stroke-width="2.2" stroke-linecap="butt"/>
<line x1="1607.00" y1="2329.60" x2="1607.00" y2="2335.20" stroke="#000" stroke-width="2.2" stroke-linecap="butt"/>
<line x1="1613.11" y1="2329.60" x2="1613.11" y2="2340.70" stroke="#000" stroke-width="2.7" stroke-linecap="butt"/>
<text x="1587.6" y="2383.4" font-family="'Liberation Sans', Arial, sans-serif" font-size="36">10<tspan font-size="25" dy="-14.6">2</tspan></text>
<line x1="1653.29" y1="2329.60" x2="1653.29" y2="2335.20" stroke="#000" stroke-width="2.2" stroke-linecap="butt"/>
<line x1="1676.79" y1="2329.60" x2="1676.79" y2="2335.20" stroke="#000" stroke-width="2.2" stroke-linecap="butt"/>
<line x1="1693.47" y1="2329.60" x2="1693.47" y2="2335.20" stroke="#000" stroke-width="2.2" stroke-linecap="butt"/>
<line x1="1706.40" y1="2329.60" x2="1706.40" y2="2335.20" stroke="#000" stroke-width="2.2" stroke-linecap="butt"/>
<line x1="1716.97" y1="2329.60" x2="1716.97" y2="2335.20" stroke="#000" stroke-width="2.2" stroke-linecap="butt"/>
<line x1="1725.91" y1="2329.60" x2="1725.91" y2="2335.20" stroke="#000" stroke-width="2.2" stroke-linecap="butt"/>
<line x1="1733.65" y1="2329.60" x2="1733.65" y2="2335.20" stroke="#000" stroke-width="2.2" stroke-linecap="butt"/>
<line x1="1740.47" y1="2329.60" x2="1740.47" y2="2335.20" stroke="#000" stroke-width="2.2" stroke-linecap="butt"/>
<line x1="1746.58" y1="2329.60" x2="1746.58" y2="2340.70" stroke="#000" stroke-width="2.7" stroke-linecap="butt"/>
<text x="1721.1" y="2383.4" font-family="'Liberation Sans', Arial, sans-serif" font-size="36">10<tspan font-size="25" dy="-14.6">3</tspan></text>
<line x1="1786.76" y1="2329.60" x2="1786.76" y2="2335.20" stroke="#000" stroke-width="2.2" stroke-linecap="butt"/>
<line x1="1810.26" y1="2329.60" x2="1810.26" y2="2335.20" stroke="#000" stroke-width="2.2" stroke-linecap="butt"/>
<line x1="1826.94" y1="2329.60" x2="1826.94" y2="2335.20" stroke="#000" stroke-width="2.2" stroke-linecap="butt"/>
<line x1="1839.87" y1="2329.60" x2="1839.87" y2="2335.20" stroke="#000" stroke-width="2.2" stroke-linecap="butt"/>
<line x1="1850.44" y1="2329.60" x2="1850.44" y2="2335.20" stroke="#000" stroke-width="2.2" stroke-linecap="butt"/>
<line x1="1859.38" y1="2329.60" x2="1859.38" y2="2335.20" stroke="#000" stroke-width="2.2" stroke-linecap="butt"/>
<line x1="1867.12" y1="2329.60" x2="1867.12" y2="2335.20" stroke="#000" stroke-width="2.2" stroke-linecap="butt"/>
<line x1="1873.94" y1="2329.60" x2="1873.94" y2="2335.20" stroke="#000" stroke-width="2.2" stroke-linecap="butt"/>
<line x1="1880.05" y1="2329.60" x2="1880.05" y2="2340.70" stroke="#000" stroke-width="2.7" stroke-linecap="butt"/>
<text x="1854.6" y="2383.4" font-family="'Liberation Sans', Arial, sans-serif" font-size="36">10<tspan font-size="25" dy="-14.6">4</tspan></text>
<line x1="1920.23" y1="2329.60" x2="1920.23" y2="2335.20" stroke="#000" stroke-width="2.2" stroke-linecap="butt"/>
<line x1="1943.73" y1="2329.60" x2="1943.73" y2="2335.20" stroke="#000" stroke-width="2.2" stroke-linecap="butt"/>
<line x1="1960.41" y1="2329.60" x2="1960.41" y2="2335.20" stroke="#000" stroke-width="2.2" stroke-linecap="butt"/>
<line x1="1973.34" y1="2329.60" x2="1973.34" y2="2335.20" stroke="#000" stroke-width="2.2" stroke-linecap="butt"/>
<line x1="1983.91" y1="2329.60" x2="1983.91" y2="2335.20" stroke="#000" stroke-width="2.2" stroke-linecap="butt"/>
<line x1="1992.85" y1="2329.60" x2="1992.85" y2="2335.20" stroke="#000" stroke-width="2.2" stroke-linecap="butt"/>
<line x1="2000.59" y1="2329.60" x2="2000.59" y2="2335.20" stroke="#000" stroke-width="2.2" stroke-linecap="butt"/>
<line x1="2007.41" y1="2329.60" x2="2007.41" y2="2335.20" stroke="#000" stroke-width="2.2" stroke-linecap="butt"/>
<line x1="2013.52" y1="2329.60" x2="2013.52" y2="2340.70" stroke="#000" stroke-width="2.7" stroke-linecap="butt"/>
<text x="1988.1" y="2383.4" font-family="'Liberation Sans', Arial, sans-serif" font-size="36">10<tspan font-size="25" dy="-14.6">5</tspan></text>
<line x1="1211.30" y1="2328.31" x2="1205.70" y2="2328.31" stroke="#000" stroke-width="2.2" stroke-linecap="butt"/>
<line x1="1211.30" y1="2281.00" x2="1205.70" y2="2281.00" stroke="#000" stroke-width="2.2" stroke-linecap="butt"/>
<line x1="1211.30" y1="2247.43" x2="1205.70" y2="2247.43" stroke="#000" stroke-width="2.2" stroke-linecap="butt"/>
<line x1="1211.30" y1="2221.39" x2="1205.70" y2="2221.39" stroke="#000" stroke-width="2.2" stroke-linecap="butt"/>
<line x1="1211.30" y1="2200.11" x2="1205.70" y2="2200.11" stroke="#000" stroke-width="2.2" stroke-linecap="butt"/>
<line x1="1211.30" y1="2182.12" x2="1205.70" y2="2182.12" stroke="#000" stroke-width="2.2" stroke-linecap="butt"/>
<line x1="1211.30" y1="2166.54" x2="1205.70" y2="2166.54" stroke="#000" stroke-width="2.2" stroke-linecap="butt"/>
<line x1="1211.30" y1="2152.80" x2="1205.70" y2="2152.80" stroke="#000" stroke-width="2.2" stroke-linecap="butt"/>
<line x1="1211.30" y1="2140.50" x2="1200.20" y2="2140.50" stroke="#000" stroke-width="2.7" stroke-linecap="butt"/>
<text x="1137.6" y="2153.9" font-family="'Liberation Sans', Arial, sans-serif" font-size="36">10<tspan font-size="25" dy="-14.6">5</tspan></text>
<line x1="1211.30" y1="2059.61" x2="1205.70" y2="2059.61" stroke="#000" stroke-width="2.2" stroke-linecap="butt"/>
<line x1="1211.30" y1="2012.30" x2="1205.70" y2="2012.30" stroke="#000" stroke-width="2.2" stroke-linecap="butt"/>
<line x1="1211.30" y1="1978.73" x2="1205.70" y2="1978.73" stroke="#000" stroke-width="2.2" stroke-linecap="butt"/>
<line x1="1211.30" y1="1952.69" x2="1205.70" y2="1952.69" stroke="#000" stroke-width="2.2" stroke-linecap="butt"/>
<line x1="1211.30" y1="1931.41" x2="1205.70" y2="1931.41" stroke="#000" stroke-width="2.2" stroke-linecap="butt"/>
<line x1="1211.30" y1="1913.42" x2="1205.70" y2="1913.42" stroke="#000" stroke-width="2.2" stroke-linecap="butt"/>
<line x1="1211.30" y1="1897.84" x2="1205.70" y2="1897.84" stroke="#000" stroke-width="2.2" stroke-linecap="butt"/>
<line x1="1211.30" y1="1884.10" x2="1205.70" y2="1884.10" stroke="#000" stroke-width="2.2" stroke-linecap="butt"/>
<line x1="1211.30" y1="1871.80" x2="1200.20" y2="1871.80" stroke="#000" stroke-width="2.7" stroke-linecap="butt"/>
<text x="1137.6" y="1885.2" font-family="'Liberation Sans', Arial, sans-serif" font-size="36">10<tspan font-size="25" dy="-14.6">6</tspan></text>
<line x1="1211.30" y1="1790.91" x2="1205.70" y2="1790.91" stroke="#000" stroke-width="2.2" stroke-linecap="butt"/>
<line x1="1211.30" y1="1743.60" x2="1205.70" y2="1743.60" stroke="#000" stroke-width="2.2" stroke-linecap="butt"/>
<line x1="1211.30" y1="1710.03" x2="1205.70" y2="1710.03" stroke="#000" stroke-width="2.2" stroke-linecap="butt"/>
<line x1="1211.30" y1="1683.99" x2="1205.70" y2="1683.99" stroke="#000" stroke-width="2.2" stroke-linecap="butt"/>
<line x1="2014.90" y1="2240.20" x2="2026.00" y2="2240.20" stroke="#000" stroke-width="2.7" stroke-linecap="butt"/>
<text x="2034.5" y="2251.1" font-family="'Liberation Sans', Arial, sans-serif" font-size="37" font-weight="normal" text-anchor="start" fill="#000" >0</text>
<line x1="2014.90" y1="2152.21" x2="2026.00" y2="2152.21" stroke="#000" stroke-width="2.7" stroke-linecap="butt"/>
<text x="2034.5" y="2163.1" font-family="'Liberation Sans', Arial, sans-serif" font-size="37" font-weight="normal" text-anchor="start" fill="#000" >15</text>
<line x1="2014.90" y1="2064.22" x2="2026.00" y2="2064.22" stroke="#000" stroke-width="2.7" stroke-linecap="butt"/>
<text x="2034.5" y="2075.1" font-family="'Liberation Sans', Arial, sans-serif" font-size="37" font-weight="normal" text-anchor="start" fill="#000" >30</text>
<line x1="2014.90" y1="1976.23" x2="2026.00" y2="1976.23" stroke="#000" stroke-width="2.7" stroke-linecap="butt"/>
<text x="2034.5" y="1987.1" font-family="'Liberation Sans', Arial, sans-serif" font-size="37" font-weight="normal" text-anchor="start" fill="#000" >45</text>
<line x1="2014.90" y1="1888.24" x2="2026.00" y2="1888.24" stroke="#000" stroke-width="2.7" stroke-linecap="butt"/>
<text x="2034.5" y="1899.1" font-family="'Liberation Sans', Arial, sans-serif" font-size="37" font-weight="normal" text-anchor="start" fill="#000" >60</text>
<line x1="2014.90" y1="1800.25" x2="2026.00" y2="1800.25" stroke="#000" stroke-width="2.7" stroke-linecap="butt"/>
<text x="2034.5" y="1811.1" font-family="'Liberation Sans', Arial, sans-serif" font-size="37" font-weight="normal" text-anchor="start" fill="#000" >75</text>
<line x1="2014.90" y1="1712.26" x2="2026.00" y2="1712.26" stroke="#000" stroke-width="2.7" stroke-linecap="butt"/>
<text x="2034.5" y="1723.2" font-family="'Liberation Sans', Arial, sans-serif" font-size="37" font-weight="normal" text-anchor="start" fill="#000" >90</text>
<line x1="2014.90" y1="2284.19" x2="2020.50" y2="2284.19" stroke="#000" stroke-width="2.2" stroke-linecap="butt"/>
<line x1="2014.90" y1="2196.20" x2="2020.50" y2="2196.20" stroke="#000" stroke-width="2.2" stroke-linecap="butt"/>
<line x1="2014.90" y1="2108.21" x2="2020.50" y2="2108.21" stroke="#000" stroke-width="2.2" stroke-linecap="butt"/>
<line x1="2014.90" y1="2020.22" x2="2020.50" y2="2020.22" stroke="#000" stroke-width="2.2" stroke-linecap="butt"/>
<line x1="2014.90" y1="1932.23" x2="2020.50" y2="1932.23" stroke="#000" stroke-width="2.2" stroke-linecap="butt"/>
<line x1="2014.90" y1="1844.24" x2="2020.50" y2="1844.24" stroke="#000" stroke-width="2.2" stroke-linecap="butt"/>
<line x1="2014.90" y1="1756.25" x2="2020.50" y2="1756.25" stroke="#000" stroke-width="2.2" stroke-linecap="butt"/>
<text x="1622.6" y="1670.0" font-family="'Liberation Sans', Arial, sans-serif" font-size="37" font-weight="normal" text-anchor="middle" fill="#000" >IL gel</text>
<text x="1047.5" y="1701.5" font-family="'Liberation Sans', Arial, sans-serif" font-size="69" font-weight="normal" text-anchor="start" fill="#000" >f</text>
<text x="1615.2" y="2456.2" font-family="'Liberation Sans', Arial, sans-serif" font-size="72.6" font-weight="normal" text-anchor="middle" fill="#000" >Frequency (Hz)</text>
<text transform="translate(1113.3,2003.6) rotate(-90)" font-family="'Liberation Sans', Arial, sans-serif" font-size="73" text-anchor="middle">|Z| (&#937;)</text>
<text transform="translate(2149.6,2005.6) rotate(-90)" font-family="'Liberation Sans', Arial, sans-serif" font-size="72" text-anchor="middle">-Phase (&#176;)</text>
<clipPath id="cf"><rect x="1212.7" y="1683.0" width="800.8" height="645.1999999999998"/></clipPath>
<g clip-path="url(#cf)">
<path d="M1212.70,1715.00L1220.80,1729.00L1204.60,1729.00Z" fill="none" stroke="#4a4a4a" stroke-width="2.3" stroke-linejoin="miter"/>
<path d="M1234.94,1719.30L1243.04,1733.30L1226.85,1733.30Z" fill="none" stroke="#4a4a4a" stroke-width="2.3" stroke-linejoin="miter"/>
<path d="M1257.19,1725.90L1265.29,1739.90L1249.09,1739.90Z" fill="none" stroke="#4a4a4a" stroke-width="2.3" stroke-linejoin="miter"/>
<path d="M1279.43,1736.50L1287.53,1750.50L1271.34,1750.50Z" fill="none" stroke="#4a4a4a" stroke-width="2.3" stroke-linejoin="miter"/>
<path d="M1301.68,1749.00L1309.78,1763.00L1293.58,1763.00Z" fill="none" stroke="#4a4a4a" stroke-width="2.3" stroke-linejoin="miter"/>
<path d="M1323.92,1765.70L1332.02,1779.70L1315.83,1779.70Z" fill="none" stroke="#4a4a4a" stroke-width="2.3" stroke-linejoin="miter"/>
<path d="M1346.17,1786.80L1354.27,1800.80L1338.07,1800.80Z" fill="none" stroke="#4a4a4a" stroke-width="2.3" stroke-linejoin="miter"/>
<path d="M1368.41,1813.20L1376.51,1827.20L1360.32,1827.20Z" fill="none" stroke="#4a4a4a" stroke-width="2.3" stroke-linejoin="miter"/>
<path d="M1390.66,1844.70L1398.76,1858.70L1382.56,1858.70Z" fill="none" stroke="#4a4a4a" stroke-width="2.3" stroke-linejoin="miter"/>
<path d="M1412.90,1880.50L1421.00,1894.50L1404.81,1894.50Z" fill="none" stroke="#4a4a4a" stroke-width="2.3" stroke-linejoin="miter"/>
<path d="M1435.15,1924.90L1443.25,1938.90L1427.05,1938.90Z" fill="none" stroke="#4a4a4a" stroke-width="2.3" stroke-linejoin="miter"/>
<path d="M1457.39,1963.20L1465.49,1977.20L1449.30,1977.20Z" fill="none" stroke="#4a4a4a" stroke-width="2.3" stroke-linejoin="miter"/>
<path d="M1479.64,2001.00L1487.74,2015.00L1471.54,2015.00Z" fill="none" stroke="#4a4a4a" stroke-width="2.3" stroke-linejoin="miter"/>
<path d="M1501.88,2037.50L1509.98,2051.50L1493.79,2051.50Z" fill="none" stroke="#4a4a4a" stroke-width="2.3" stroke-linejoin="miter"/>
<path d="M1524.13,2073.80L1532.23,2087.80L1516.03,2087.80Z" fill="none" stroke="#4a4a4a" stroke-width="2.3" stroke-linejoin="miter"/>
<path d="M1546.38,2107.50L1554.47,2121.50L1538.28,2121.50Z" fill="none" stroke="#4a4a4a" stroke-width="2.3" stroke-linejoin="miter"/>
<path d="M1568.62,2136.30L1576.72,2150.30L1560.52,2150.30Z" fill="none" stroke="#4a4a4a" stroke-width="2.3" stroke-linejoin="miter"/>
<path d="M1590.87,2157.80L1598.96,2171.80L1582.77,2171.80Z" fill="none" stroke="#4a4a4a" stroke-width="2.3" stroke-linejoin="miter"/>
<path d="M1613.11,2177.00L1621.21,2191.00L1605.01,2191.00Z" fill="none" stroke="#4a4a4a" stroke-width="2.3" stroke-linejoin="miter"/>
<path d="M1635.36,2191.90L1643.45,2205.90L1627.26,2205.90Z" fill="none" stroke="#4a4a4a" stroke-width="2.3" stroke-linejoin="miter"/>
<path d="M1657.60,2202.80L1665.70,2216.80L1649.50,2216.80Z" fill="none" stroke="#4a4a4a" stroke-width="2.3" stroke-linejoin="miter"/>
<path d="M1679.85,2211.10L1687.94,2225.10L1671.75,2225.10Z" fill="none" stroke="#4a4a4a" stroke-width="2.3" stroke-linejoin="miter"/>
<path d="M1702.09,2217.10L1710.19,2231.10L1693.99,2231.10Z" fill="none" stroke="#4a4a4a" stroke-width="2.3" stroke-linejoin="miter"/>
<path d="M1724.34,2222.60L1732.43,2236.60L1716.24,2236.60Z" fill="none" stroke="#4a4a4a" stroke-width="2.3" stroke-linejoin="miter"/>
<path d="M1746.58,2226.70L1754.68,2240.70L1738.48,2240.70Z" fill="none" stroke="#4a4a4a" stroke-width="2.3" stroke-linejoin="miter"/>
<path d="M1768.83,2231.00L1776.92,2245.00L1760.73,2245.00Z" fill="none" stroke="#4a4a4a" stroke-width="2.3" stroke-linejoin="miter"/>
<path d="M1791.07,2235.30L1799.17,2249.30L1782.97,2249.30Z" fill="none" stroke="#4a4a4a" stroke-width="2.3" stroke-linejoin="miter"/>
<path d="M1813.32,2239.60L1821.41,2253.60L1805.22,2253.60Z" fill="none" stroke="#4a4a4a" stroke-width="2.3" stroke-linejoin="miter"/>
<path d="M1835.56,2242.90L1843.66,2256.90L1827.46,2256.90Z" fill="none" stroke="#4a4a4a" stroke-width="2.3" stroke-linejoin="miter"/>
<path d="M1857.81,2244.70L1865.90,2258.70L1849.71,2258.70Z" fill="none" stroke="#4a4a4a" stroke-width="2.3" stroke-linejoin="miter"/>
<path d="M1880.05,2245.30L1888.15,2259.30L1871.95,2259.30Z" fill="none" stroke="#4a4a4a" stroke-width="2.3" stroke-linejoin="miter"/>
<path d="M1902.30,2243.30L1910.39,2257.30L1894.20,2257.30Z" fill="none" stroke="#4a4a4a" stroke-width="2.3" stroke-linejoin="miter"/>
<path d="M1924.54,2240.10L1932.64,2254.10L1916.44,2254.10Z" fill="none" stroke="#4a4a4a" stroke-width="2.3" stroke-linejoin="miter"/>
<path d="M1946.79,2238.80L1954.88,2252.80L1938.69,2252.80Z" fill="none" stroke="#4a4a4a" stroke-width="2.3" stroke-linejoin="miter"/>
<path d="M1969.03,2238.80L1977.13,2252.80L1960.93,2252.80Z" fill="none" stroke="#4a4a4a" stroke-width="2.3" stroke-linejoin="miter"/>
<path d="M1991.28,2236.40L1999.38,2250.40L1983.18,2250.40Z" fill="none" stroke="#4a4a4a" stroke-width="2.3" stroke-linejoin="miter"/>
<path d="M2013.52,2238.30L2021.62,2252.30L2005.42,2252.30Z" fill="none" stroke="#4a4a4a" stroke-width="2.3" stroke-linejoin="miter"/>
<path d="M1212.70,1716.00L1220.80,1730.00L1204.60,1730.00Z" fill="none" stroke="#ee3b3f" stroke-width="2.3" stroke-linejoin="miter"/>
<path d="M1234.94,1720.30L1243.04,1734.30L1226.85,1734.30Z" fill="none" stroke="#ee3b3f" stroke-width="2.3" stroke-linejoin="miter"/>
<path d="M1257.19,1726.90L1265.29,1740.90L1249.09,1740.90Z" fill="none" stroke="#ee3b3f" stroke-width="2.3" stroke-linejoin="miter"/>
<path d="M1279.43,1737.50L1287.53,1751.50L1271.34,1751.50Z" fill="none" stroke="#ee3b3f" stroke-width="2.3" stroke-linejoin="miter"/>
<path d="M1301.68,1750.00L1309.78,1764.00L1293.58,1764.00Z" fill="none" stroke="#ee3b3f" stroke-width="2.3" stroke-linejoin="miter"/>
<path d="M1323.92,1766.70L1332.02,1780.70L1315.83,1780.70Z" fill="none" stroke="#ee3b3f" stroke-width="2.3" stroke-linejoin="miter"/>
<path d="M1346.17,1787.80L1354.27,1801.80L1338.07,1801.80Z" fill="none" stroke="#ee3b3f" stroke-width="2.3" stroke-linejoin="miter"/>
<path d="M1368.41,1814.20L1376.51,1828.20L1360.32,1828.20Z" fill="none" stroke="#ee3b3f" stroke-width="2.3" stroke-linejoin="miter"/>
<path d="M1390.66,1845.70L1398.76,1859.70L1382.56,1859.70Z" fill="none" stroke="#ee3b3f" stroke-width="2.3" stroke-linejoin="miter"/>
<path d="M1412.90,1881.50L1421.00,1895.50L1404.81,1895.50Z" fill="none" stroke="#ee3b3f" stroke-width="2.3" stroke-linejoin="miter"/>
<path d="M1435.15,1923.90L1443.25,1937.90L1427.05,1937.90Z" fill="none" stroke="#ee3b3f" stroke-width="2.3" stroke-linejoin="miter"/>
<path d="M1457.39,1962.20L1465.49,1976.20L1449.30,1976.20Z" fill="none" stroke="#ee3b3f" stroke-width="2.3" stroke-linejoin="miter"/>
<path d="M1479.64,2000.00L1487.74,2014.00L1471.54,2014.00Z" fill="none" stroke="#ee3b3f" stroke-width="2.3" stroke-linejoin="miter"/>
<path d="M1501.88,2036.50L1509.98,2050.50L1493.79,2050.50Z" fill="none" stroke="#ee3b3f" stroke-width="2.3" stroke-linejoin="miter"/>
<path d="M1524.13,2072.80L1532.23,2086.80L1516.03,2086.80Z" fill="none" stroke="#ee3b3f" stroke-width="2.3" stroke-linejoin="miter"/>
<path d="M1546.38,2106.50L1554.47,2120.50L1538.28,2120.50Z" fill="none" stroke="#ee3b3f" stroke-width="2.3" stroke-linejoin="miter"/>
<path d="M1568.62,2135.30L1576.72,2149.30L1560.52,2149.30Z" fill="none" stroke="#ee3b3f" stroke-width="2.3" stroke-linejoin="miter"/>
<path d="M1590.87,2157.30L1598.96,2171.30L1582.77,2171.30Z" fill="none" stroke="#ee3b3f" stroke-width="2.3" stroke-linejoin="miter"/>
<path d="M1613.11,2176.50L1621.21,2190.50L1605.01,2190.50Z" fill="none" stroke="#ee3b3f" stroke-width="2.3" stroke-linejoin="miter"/>
<path d="M1635.36,2191.40L1643.45,2205.40L1627.26,2205.40Z" fill="none" stroke="#ee3b3f" stroke-width="2.3" stroke-linejoin="miter"/>
<path d="M1657.60,2202.30L1665.70,2216.30L1649.50,2216.30Z" fill="none" stroke="#ee3b3f" stroke-width="2.3" stroke-linejoin="miter"/>
<path d="M1679.85,2210.60L1687.94,2224.60L1671.75,2224.60Z" fill="none" stroke="#ee3b3f" stroke-width="2.3" stroke-linejoin="miter"/>
<path d="M1702.09,2216.60L1710.19,2230.60L1693.99,2230.60Z" fill="none" stroke="#ee3b3f" stroke-width="2.3" stroke-linejoin="miter"/>
<path d="M1724.34,2222.10L1732.43,2236.10L1716.24,2236.10Z" fill="none" stroke="#ee3b3f" stroke-width="2.3" stroke-linejoin="miter"/>
<path d="M1746.58,2226.20L1754.68,2240.20L1738.48,2240.20Z" fill="none" stroke="#ee3b3f" stroke-width="2.3" stroke-linejoin="miter"/>
<path d="M1768.83,2230.50L1776.92,2244.50L1760.73,2244.50Z" fill="none" stroke="#ee3b3f" stroke-width="2.3" stroke-linejoin="miter"/>
<path d="M1791.07,2234.80L1799.17,2248.80L1782.97,2248.80Z" fill="none" stroke="#ee3b3f" stroke-width="2.3" stroke-linejoin="miter"/>
<path d="M1813.32,2239.10L1821.41,2253.10L1805.22,2253.10Z" fill="none" stroke="#ee3b3f" stroke-width="2.3" stroke-linejoin="miter"/>
<path d="M1835.56,2242.40L1843.66,2256.40L1827.46,2256.40Z" fill="none" stroke="#ee3b3f" stroke-width="2.3" stroke-linejoin="miter"/>
<path d="M1857.81,2244.20L1865.90,2258.20L1849.71,2258.20Z" fill="none" stroke="#ee3b3f" stroke-width="2.3" stroke-linejoin="miter"/>
<path d="M1880.05,2244.80L1888.15,2258.80L1871.95,2258.80Z" fill="none" stroke="#ee3b3f" stroke-width="2.3" stroke-linejoin="miter"/>
<path d="M1902.30,2242.80L1910.39,2256.80L1894.20,2256.80Z" fill="none" stroke="#ee3b3f" stroke-width="2.3" stroke-linejoin="miter"/>
<path d="M1924.54,2239.60L1932.64,2253.60L1916.44,2253.60Z" fill="none" stroke="#ee3b3f" stroke-width="2.3" stroke-linejoin="miter"/>
<path d="M1946.79,2238.30L1954.88,2252.30L1938.69,2252.30Z" fill="none" stroke="#ee3b3f" stroke-width="2.3" stroke-linejoin="miter"/>
<path d="M1969.03,2238.30L1977.13,2252.30L1960.93,2252.30Z" fill="none" stroke="#ee3b3f" stroke-width="2.3" stroke-linejoin="miter"/>
<path d="M1991.28,2235.90L1999.38,2249.90L1983.18,2249.90Z" fill="none" stroke="#ee3b3f" stroke-width="2.3" stroke-linejoin="miter"/>
<path d="M2013.52,2237.80L2021.62,2251.80L2005.42,2251.80Z" fill="none" stroke="#ee3b3f" stroke-width="2.3" stroke-linejoin="miter"/>
<path d="M1212.70,1717.00L1220.80,1731.00L1204.60,1731.00Z" fill="none" stroke="#3d74e8" stroke-width="2.3" stroke-linejoin="miter"/>
<path d="M1234.94,1721.30L1243.04,1735.30L1226.85,1735.30Z" fill="none" stroke="#3d74e8" stroke-width="2.3" stroke-linejoin="miter"/>
<path d="M1257.19,1727.90L1265.29,1741.90L1249.09,1741.90Z" fill="none" stroke="#3d74e8" stroke-width="2.3" stroke-linejoin="miter"/>
<path d="M1279.43,1738.50L1287.53,1752.50L1271.34,1752.50Z" fill="none" stroke="#3d74e8" stroke-width="2.3" stroke-linejoin="miter"/>
<path d="M1301.68,1751.00L1309.78,1765.00L1293.58,1765.00Z" fill="none" stroke="#3d74e8" stroke-width="2.3" stroke-linejoin="miter"/>
<path d="M1323.92,1767.70L1332.02,1781.70L1315.83,1781.70Z" fill="none" stroke="#3d74e8" stroke-width="2.3" stroke-linejoin="miter"/>
<path d="M1346.17,1788.80L1354.27,1802.80L1338.07,1802.80Z" fill="none" stroke="#3d74e8" stroke-width="2.3" stroke-linejoin="miter"/>
<path d="M1368.41,1815.20L1376.51,1829.20L1360.32,1829.20Z" fill="none" stroke="#3d74e8" stroke-width="2.3" stroke-linejoin="miter"/>
<path d="M1390.66,1846.70L1398.76,1860.70L1382.56,1860.70Z" fill="none" stroke="#3d74e8" stroke-width="2.3" stroke-linejoin="miter"/>
<path d="M1412.90,1882.50L1421.00,1896.50L1404.81,1896.50Z" fill="none" stroke="#3d74e8" stroke-width="2.3" stroke-linejoin="miter"/>
<path d="M1435.15,1924.90L1443.25,1938.90L1427.05,1938.90Z" fill="none" stroke="#3d74e8" stroke-width="2.3" stroke-linejoin="miter"/>
<path d="M1457.39,1963.20L1465.49,1977.20L1449.30,1977.20Z" fill="none" stroke="#3d74e8" stroke-width="2.3" stroke-linejoin="miter"/>
<path d="M1479.64,2001.00L1487.74,2015.00L1471.54,2015.00Z" fill="none" stroke="#3d74e8" stroke-width="2.3" stroke-linejoin="miter"/>
<path d="M1501.88,2037.50L1509.98,2051.50L1493.79,2051.50Z" fill="none" stroke="#3d74e8" stroke-width="2.3" stroke-linejoin="miter"/>
<path d="M1524.13,2073.80L1532.23,2087.80L1516.03,2087.80Z" fill="none" stroke="#3d74e8" stroke-width="2.3" stroke-linejoin="miter"/>
<path d="M1546.38,2107.50L1554.47,2121.50L1538.28,2121.50Z" fill="none" stroke="#3d74e8" stroke-width="2.3" stroke-linejoin="miter"/>
<path d="M1568.62,2136.30L1576.72,2150.30L1560.52,2150.30Z" fill="none" stroke="#3d74e8" stroke-width="2.3" stroke-linejoin="miter"/>
<path d="M1590.87,2157.30L1598.96,2171.30L1582.77,2171.30Z" fill="none" stroke="#3d74e8" stroke-width="2.3" stroke-linejoin="miter"/>
<path d="M1613.11,2176.50L1621.21,2190.50L1605.01,2190.50Z" fill="none" stroke="#3d74e8" stroke-width="2.3" stroke-linejoin="miter"/>
<path d="M1635.36,2191.40L1643.45,2205.40L1627.26,2205.40Z" fill="none" stroke="#3d74e8" stroke-width="2.3" stroke-linejoin="miter"/>
<path d="M1657.60,2202.30L1665.70,2216.30L1649.50,2216.30Z" fill="none" stroke="#3d74e8" stroke-width="2.3" stroke-linejoin="miter"/>
<path d="M1679.85,2210.60L1687.94,2224.60L1671.75,2224.60Z" fill="none" stroke="#3d74e8" stroke-width="2.3" stroke-linejoin="miter"/>
<path d="M1702.09,2216.60L1710.19,2230.60L1693.99,2230.60Z" fill="none" stroke="#3d74e8" stroke-width="2.3" stroke-linejoin="miter"/>
<path d="M1724.34,2222.10L1732.43,2236.10L1716.24,2236.10Z" fill="none" stroke="#3d74e8" stroke-width="2.3" stroke-linejoin="miter"/>
<path d="M1746.58,2226.20L1754.68,2240.20L1738.48,2240.20Z" fill="none" stroke="#3d74e8" stroke-width="2.3" stroke-linejoin="miter"/>
<path d="M1768.83,2230.50L1776.92,2244.50L1760.73,2244.50Z" fill="none" stroke="#3d74e8" stroke-width="2.3" stroke-linejoin="miter"/>
<path d="M1791.07,2234.80L1799.17,2248.80L1782.97,2248.80Z" fill="none" stroke="#3d74e8" stroke-width="2.3" stroke-linejoin="miter"/>
<path d="M1813.32,2239.10L1821.41,2253.10L1805.22,2253.10Z" fill="none" stroke="#3d74e8" stroke-width="2.3" stroke-linejoin="miter"/>
<path d="M1835.56,2242.40L1843.66,2256.40L1827.46,2256.40Z" fill="none" stroke="#3d74e8" stroke-width="2.3" stroke-linejoin="miter"/>
<path d="M1857.81,2244.20L1865.90,2258.20L1849.71,2258.20Z" fill="none" stroke="#3d74e8" stroke-width="2.3" stroke-linejoin="miter"/>
<path d="M1880.05,2244.80L1888.15,2258.80L1871.95,2258.80Z" fill="none" stroke="#3d74e8" stroke-width="2.3" stroke-linejoin="miter"/>
<path d="M1902.30,2242.80L1910.39,2256.80L1894.20,2256.80Z" fill="none" stroke="#3d74e8" stroke-width="2.3" stroke-linejoin="miter"/>
<path d="M1924.54,2239.60L1932.64,2253.60L1916.44,2253.60Z" fill="none" stroke="#3d74e8" stroke-width="2.3" stroke-linejoin="miter"/>
<path d="M1946.79,2238.30L1954.88,2252.30L1938.69,2252.30Z" fill="none" stroke="#3d74e8" stroke-width="2.3" stroke-linejoin="miter"/>
<path d="M1969.03,2238.30L1977.13,2252.30L1960.93,2252.30Z" fill="none" stroke="#3d74e8" stroke-width="2.3" stroke-linejoin="miter"/>
<path d="M1991.28,2235.90L1999.38,2249.90L1983.18,2249.90Z" fill="none" stroke="#3d74e8" stroke-width="2.3" stroke-linejoin="miter"/>
<path d="M2013.52,2237.80L2021.62,2251.80L2005.42,2251.80Z" fill="none" stroke="#3d74e8" stroke-width="2.3" stroke-linejoin="miter"/>
<path d="M1212.70,1717.00L1220.80,1731.00L1204.60,1731.00Z" fill="none" stroke="#4db56b" stroke-width="2.3" stroke-linejoin="miter"/>
<path d="M1234.94,1721.30L1243.04,1735.30L1226.85,1735.30Z" fill="none" stroke="#4db56b" stroke-width="2.3" stroke-linejoin="miter"/>
<path d="M1257.19,1727.90L1265.29,1741.90L1249.09,1741.90Z" fill="none" stroke="#4db56b" stroke-width="2.3" stroke-linejoin="miter"/>
<path d="M1279.43,1738.50L1287.53,1752.50L1271.34,1752.50Z" fill="none" stroke="#4db56b" stroke-width="2.3" stroke-linejoin="miter"/>
<path d="M1301.68,1751.00L1309.78,1765.00L1293.58,1765.00Z" fill="none" stroke="#4db56b" stroke-width="2.3" stroke-linejoin="miter"/>
<path d="M1323.92,1767.70L1332.02,1781.70L1315.83,1781.70Z" fill="none" stroke="#4db56b" stroke-width="2.3" stroke-linejoin="miter"/>
<path d="M1346.17,1788.80L1354.27,1802.80L1338.07,1802.80Z" fill="none" stroke="#4db56b" stroke-width="2.3" stroke-linejoin="miter"/>
<path d="M1368.41,1815.20L1376.51,1829.20L1360.32,1829.20Z" fill="none" stroke="#4db56b" stroke-width="2.3" stroke-linejoin="miter"/>
<path d="M1390.66,1846.70L1398.76,1860.70L1382.56,1860.70Z" fill="none" stroke="#4db56b" stroke-width="2.3" stroke-linejoin="miter"/>
<path d="M1412.90,1882.50L1421.00,1896.50L1404.81,1896.50Z" fill="none" stroke="#4db56b" stroke-width="2.3" stroke-linejoin="miter"/>
<path d="M1435.15,1922.90L1443.25,1936.90L1427.05,1936.90Z" fill="none" stroke="#4db56b" stroke-width="2.3" stroke-linejoin="miter"/>
<path d="M1457.39,1961.20L1465.49,1975.20L1449.30,1975.20Z" fill="none" stroke="#4db56b" stroke-width="2.3" stroke-linejoin="miter"/>
<path d="M1479.64,1999.00L1487.74,2013.00L1471.54,2013.00Z" fill="none" stroke="#4db56b" stroke-width="2.3" stroke-linejoin="miter"/>
<path d="M1501.88,2035.50L1509.98,2049.50L1493.79,2049.50Z" fill="none" stroke="#4db56b" stroke-width="2.3" stroke-linejoin="miter"/>
<path d="M1524.13,2071.80L1532.23,2085.80L1516.03,2085.80Z" fill="none" stroke="#4db56b" stroke-width="2.3" stroke-linejoin="miter"/>
<path d="M1546.38,2105.50L1554.47,2119.50L1538.28,2119.50Z" fill="none" stroke="#4db56b" stroke-width="2.3" stroke-linejoin="miter"/>
<path d="M1568.62,2134.30L1576.72,2148.30L1560.52,2148.30Z" fill="none" stroke="#4db56b" stroke-width="2.3" stroke-linejoin="miter"/>
<path d="M1590.87,2157.10L1598.96,2171.10L1582.77,2171.10Z" fill="none" stroke="#4db56b" stroke-width="2.3" stroke-linejoin="miter"/>
<path d="M1613.11,2176.30L1621.21,2190.30L1605.01,2190.30Z" fill="none" stroke="#4db56b" stroke-width="2.3" stroke-linejoin="miter"/>
<path d="M1635.36,2191.20L1643.45,2205.20L1627.26,2205.20Z" fill="none" stroke="#4db56b" stroke-width="2.3" stroke-linejoin="miter"/>
<path d="M1657.60,2202.10L1665.70,2216.10L1649.50,2216.10Z" fill="none" stroke="#4db56b" stroke-width="2.3" stroke-linejoin="miter"/>
<path d="M1679.85,2210.40L1687.94,2224.40L1671.75,2224.40Z" fill="none" stroke="#4db56b" stroke-width="2.3" stroke-linejoin="miter"/>
<path d="M1702.09,2216.40L1710.19,2230.40L1693.99,2230.40Z" fill="none" stroke="#4db56b" stroke-width="2.3" stroke-linejoin="miter"/>
<path d="M1724.34,2221.90L1732.43,2235.90L1716.24,2235.90Z" fill="none" stroke="#4db56b" stroke-width="2.3" stroke-linejoin="miter"/>
<path d="M1746.58,2226.00L1754.68,2240.00L1738.48,2240.00Z" fill="none" stroke="#4db56b" stroke-width="2.3" stroke-linejoin="miter"/>
<path d="M1768.83,2230.30L1776.92,2244.30L1760.73,2244.30Z" fill="none" stroke="#4db56b" stroke-width="2.3" stroke-linejoin="miter"/>
<path d="M1791.07,2234.60L1799.17,2248.60L1782.97,2248.60Z" fill="none" stroke="#4db56b" stroke-width="2.3" stroke-linejoin="miter"/>
<path d="M1813.32,2238.90L1821.41,2252.90L1805.22,2252.90Z" fill="none" stroke="#4db56b" stroke-width="2.3" stroke-linejoin="miter"/>
<path d="M1835.56,2242.20L1843.66,2256.20L1827.46,2256.20Z" fill="none" stroke="#4db56b" stroke-width="2.3" stroke-linejoin="miter"/>
<path d="M1857.81,2244.00L1865.90,2258.00L1849.71,2258.00Z" fill="none" stroke="#4db56b" stroke-width="2.3" stroke-linejoin="miter"/>
<path d="M1880.05,2244.60L1888.15,2258.60L1871.95,2258.60Z" fill="none" stroke="#4db56b" stroke-width="2.3" stroke-linejoin="miter"/>
<path d="M1902.30,2242.60L1910.39,2256.60L1894.20,2256.60Z" fill="none" stroke="#4db56b" stroke-width="2.3" stroke-linejoin="miter"/>
<path d="M1924.54,2239.40L1932.64,2253.40L1916.44,2253.40Z" fill="none" stroke="#4db56b" stroke-width="2.3" stroke-linejoin="miter"/>
<path d="M1946.79,2238.10L1954.88,2252.10L1938.69,2252.10Z" fill="none" stroke="#4db56b" stroke-width="2.3" stroke-linejoin="miter"/>
<path d="M1969.03,2238.10L1977.13,2252.10L1960.93,2252.10Z" fill="none" stroke="#4db56b" stroke-width="2.3" stroke-linejoin="miter"/>
<path d="M1991.28,2235.70L1999.38,2249.70L1983.18,2249.70Z" fill="none" stroke="#4db56b" stroke-width="2.3" stroke-linejoin="miter"/>
<path d="M2013.52,2237.60L2021.62,2251.60L2005.42,2251.60Z" fill="none" stroke="#4db56b" stroke-width="2.3" stroke-linejoin="miter"/>
<path d="M1212.70,1718.00L1220.80,1732.00L1204.60,1732.00Z" fill="none" stroke="#ae6ff0" stroke-width="2.3" stroke-linejoin="miter"/>
<path d="M1234.94,1722.30L1243.04,1736.30L1226.85,1736.30Z" fill="none" stroke="#ae6ff0" stroke-width="2.3" stroke-linejoin="miter"/>
<path d="M1257.19,1728.90L1265.29,1742.90L1249.09,1742.90Z" fill="none" stroke="#ae6ff0" stroke-width="2.3" stroke-linejoin="miter"/>
<path d="M1279.43,1739.50L1287.53,1753.50L1271.34,1753.50Z" fill="none" stroke="#ae6ff0" stroke-width="2.3" stroke-linejoin="miter"/>
<path d="M1301.68,1752.00L1309.78,1766.00L1293.58,1766.00Z" fill="none" stroke="#ae6ff0" stroke-width="2.3" stroke-linejoin="miter"/>
<path d="M1323.92,1768.70L1332.02,1782.70L1315.83,1782.70Z" fill="none" stroke="#ae6ff0" stroke-width="2.3" stroke-linejoin="miter"/>
<path d="M1346.17,1789.80L1354.27,1803.80L1338.07,1803.80Z" fill="none" stroke="#ae6ff0" stroke-width="2.3" stroke-linejoin="miter"/>
<path d="M1368.41,1816.20L1376.51,1830.20L1360.32,1830.20Z" fill="none" stroke="#ae6ff0" stroke-width="2.3" stroke-linejoin="miter"/>
<path d="M1390.66,1847.70L1398.76,1861.70L1382.56,1861.70Z" fill="none" stroke="#ae6ff0" stroke-width="2.3" stroke-linejoin="miter"/>
<path d="M1412.90,1883.50L1421.00,1897.50L1404.81,1897.50Z" fill="none" stroke="#ae6ff0" stroke-width="2.3" stroke-linejoin="miter"/>
<path d="M1435.15,1921.90L1443.25,1935.90L1427.05,1935.90Z" fill="none" stroke="#ae6ff0" stroke-width="2.3" stroke-linejoin="miter"/>
<path d="M1457.39,1960.20L1465.49,1974.20L1449.30,1974.20Z" fill="none" stroke="#ae6ff0" stroke-width="2.3" stroke-linejoin="miter"/>
<path d="M1479.64,1998.00L1487.74,2012.00L1471.54,2012.00Z" fill="none" stroke="#ae6ff0" stroke-width="2.3" stroke-linejoin="miter"/>
<path d="M1501.88,2034.50L1509.98,2048.50L1493.79,2048.50Z" fill="none" stroke="#ae6ff0" stroke-width="2.3" stroke-linejoin="miter"/>
<path d="M1524.13,2070.80L1532.23,2084.80L1516.03,2084.80Z" fill="none" stroke="#ae6ff0" stroke-width="2.3" stroke-linejoin="miter"/>
<path d="M1546.38,2104.50L1554.47,2118.50L1538.28,2118.50Z" fill="none" stroke="#ae6ff0" stroke-width="2.3" stroke-linejoin="miter"/>
<path d="M1568.62,2133.30L1576.72,2147.30L1560.52,2147.30Z" fill="none" stroke="#ae6ff0" stroke-width="2.3" stroke-linejoin="miter"/>
<path d="M1590.87,2157.00L1598.96,2171.00L1582.77,2171.00Z" fill="none" stroke="#ae6ff0" stroke-width="2.3" stroke-linejoin="miter"/>
<path d="M1613.11,2176.20L1621.21,2190.20L1605.01,2190.20Z" fill="none" stroke="#ae6ff0" stroke-width="2.3" stroke-linejoin="miter"/>
<path d="M1635.36,2191.10L1643.45,2205.10L1627.26,2205.10Z" fill="none" stroke="#ae6ff0" stroke-width="2.3" stroke-linejoin="miter"/>
<path d="M1657.60,2202.00L1665.70,2216.00L1649.50,2216.00Z" fill="none" stroke="#ae6ff0" stroke-width="2.3" stroke-linejoin="miter"/>
<path d="M1679.85,2210.30L1687.94,2224.30L1671.75,2224.30Z" fill="none" stroke="#ae6ff0" stroke-width="2.3" stroke-linejoin="miter"/>
<path d="M1702.09,2216.30L1710.19,2230.30L1693.99,2230.30Z" fill="none" stroke="#ae6ff0" stroke-width="2.3" stroke-linejoin="miter"/>
<path d="M1724.34,2221.80L1732.43,2235.80L1716.24,2235.80Z" fill="none" stroke="#ae6ff0" stroke-width="2.3" stroke-linejoin="miter"/>
<path d="M1746.58,2225.90L1754.68,2239.90L1738.48,2239.90Z" fill="none" stroke="#ae6ff0" stroke-width="2.3" stroke-linejoin="miter"/>
<path d="M1768.83,2230.20L1776.92,2244.20L1760.73,2244.20Z" fill="none" stroke="#ae6ff0" stroke-width="2.3" stroke-linejoin="miter"/>
<path d="M1791.07,2234.50L1799.17,2248.50L1782.97,2248.50Z" fill="none" stroke="#ae6ff0" stroke-width="2.3" stroke-linejoin="miter"/>
<path d="M1813.32,2238.80L1821.41,2252.80L1805.22,2252.80Z" fill="none" stroke="#ae6ff0" stroke-width="2.3" stroke-linejoin="miter"/>
<path d="M1835.56,2242.10L1843.66,2256.10L1827.46,2256.10Z" fill="none" stroke="#ae6ff0" stroke-width="2.3" stroke-linejoin="miter"/>
<path d="M1857.81,2243.90L1865.90,2257.90L1849.71,2257.90Z" fill="none" stroke="#ae6ff0" stroke-width="2.3" stroke-linejoin="miter"/>
<path d="M1880.05,2244.50L1888.15,2258.50L1871.95,2258.50Z" fill="none" stroke="#ae6ff0" stroke-width="2.3" stroke-linejoin="miter"/>
<path d="M1902.30,2242.50L1910.39,2256.50L1894.20,2256.50Z" fill="none" stroke="#ae6ff0" stroke-width="2.3" stroke-linejoin="miter"/>
<path d="M1924.54,2239.30L1932.64,2253.30L1916.44,2253.30Z" fill="none" stroke="#ae6ff0" stroke-width="2.3" stroke-linejoin="miter"/>
<path d="M1946.79,2238.00L1954.88,2252.00L1938.69,2252.00Z" fill="none" stroke="#ae6ff0" stroke-width="2.3" stroke-linejoin="miter"/>
<path d="M1969.03,2238.00L1977.13,2252.00L1960.93,2252.00Z" fill="none" stroke="#ae6ff0" stroke-width="2.3" stroke-linejoin="miter"/>
<path d="M1991.28,2235.60L1999.38,2249.60L1983.18,2249.60Z" fill="none" stroke="#ae6ff0" stroke-width="2.3" stroke-linejoin="miter"/>
<path d="M2013.52,2237.50L2021.62,2251.50L2005.42,2251.50Z" fill="none" stroke="#ae6ff0" stroke-width="2.3" stroke-linejoin="miter"/>
<path d="M1212.70,1719.00L1220.80,1733.00L1204.60,1733.00Z" fill="none" stroke="#c9a02a" stroke-width="2.3" stroke-linejoin="miter"/>
<path d="M1234.94,1723.30L1243.04,1737.30L1226.85,1737.30Z" fill="none" stroke="#c9a02a" stroke-width="2.3" stroke-linejoin="miter"/>
<path d="M1257.19,1729.90L1265.29,1743.90L1249.09,1743.90Z" fill="none" stroke="#c9a02a" stroke-width="2.3" stroke-linejoin="miter"/>
<path d="M1279.43,1740.50L1287.53,1754.50L1271.34,1754.50Z" fill="none" stroke="#c9a02a" stroke-width="2.3" stroke-linejoin="miter"/>
<path d="M1301.68,1753.00L1309.78,1767.00L1293.58,1767.00Z" fill="none" stroke="#c9a02a" stroke-width="2.3" stroke-linejoin="miter"/>
<path d="M1323.92,1769.70L1332.02,1783.70L1315.83,1783.70Z" fill="none" stroke="#c9a02a" stroke-width="2.3" stroke-linejoin="miter"/>
<path d="M1346.17,1790.80L1354.27,1804.80L1338.07,1804.80Z" fill="none" stroke="#c9a02a" stroke-width="2.3" stroke-linejoin="miter"/>
<path d="M1368.41,1817.20L1376.51,1831.20L1360.32,1831.20Z" fill="none" stroke="#c9a02a" stroke-width="2.3" stroke-linejoin="miter"/>
<path d="M1390.66,1848.70L1398.76,1862.70L1382.56,1862.70Z" fill="none" stroke="#c9a02a" stroke-width="2.3" stroke-linejoin="miter"/>
<path d="M1412.90,1884.50L1421.00,1898.50L1404.81,1898.50Z" fill="none" stroke="#c9a02a" stroke-width="2.3" stroke-linejoin="miter"/>
<path d="M1435.15,1920.90L1443.25,1934.90L1427.05,1934.90Z" fill="none" stroke="#c9a02a" stroke-width="2.3" stroke-linejoin="miter"/>
<path d="M1457.39,1959.20L1465.49,1973.20L1449.30,1973.20Z" fill="none" stroke="#c9a02a" stroke-width="2.3" stroke-linejoin="miter"/>
<path d="M1479.64,1997.00L1487.74,2011.00L1471.54,2011.00Z" fill="none" stroke="#c9a02a" stroke-width="2.3" stroke-linejoin="miter"/>
<path d="M1501.88,2033.50L1509.98,2047.50L1493.79,2047.50Z" fill="none" stroke="#c9a02a" stroke-width="2.3" stroke-linejoin="miter"/>
<path d="M1524.13,2069.80L1532.23,2083.80L1516.03,2083.80Z" fill="none" stroke="#c9a02a" stroke-width="2.3" stroke-linejoin="miter"/>
<path d="M1546.38,2103.50L1554.47,2117.50L1538.28,2117.50Z" fill="none" stroke="#c9a02a" stroke-width="2.3" stroke-linejoin="miter"/>
<path d="M1568.62,2132.30L1576.72,2146.30L1560.52,2146.30Z" fill="none" stroke="#c9a02a" stroke-width="2.3" stroke-linejoin="miter"/>
<path d="M1590.87,2156.80L1598.96,2170.80L1582.77,2170.80Z" fill="none" stroke="#c9a02a" stroke-width="2.3" stroke-linejoin="miter"/>
<path d="M1613.11,2176.00L1621.21,2190.00L1605.01,2190.00Z" fill="none" stroke="#c9a02a" stroke-width="2.3" stroke-linejoin="miter"/>
<path d="M1635.36,2190.90L1643.45,2204.90L1627.26,2204.90Z" fill="none" stroke="#c9a02a" stroke-width="2.3" stroke-linejoin="miter"/>
<path d="M1657.60,2201.80L1665.70,2215.80L1649.50,2215.80Z" fill="none" stroke="#c9a02a" stroke-width="2.3" stroke-linejoin="miter"/>
<path d="M1679.85,2210.10L1687.94,2224.10L1671.75,2224.10Z" fill="none" stroke="#c9a02a" stroke-width="2.3" stroke-linejoin="miter"/>
<path d="M1702.09,2216.10L1710.19,2230.10L1693.99,2230.10Z" fill="none" stroke="#c9a02a" stroke-width="2.3" stroke-linejoin="miter"/>
<path d="M1724.34,2221.60L1732.43,2235.60L1716.24,2235.60Z" fill="none" stroke="#c9a02a" stroke-width="2.3" stroke-linejoin="miter"/>
<path d="M1746.58,2225.70L1754.68,2239.70L1738.48,2239.70Z" fill="none" stroke="#c9a02a" stroke-width="2.3" stroke-linejoin="miter"/>
<path d="M1768.83,2230.00L1776.92,2244.00L1760.73,2244.00Z" fill="none" stroke="#c9a02a" stroke-width="2.3" stroke-linejoin="miter"/>
<path d="M1791.07,2234.30L1799.17,2248.30L1782.97,2248.30Z" fill="none" stroke="#c9a02a" stroke-width="2.3" stroke-linejoin="miter"/>
<path d="M1813.32,2238.60L1821.41,2252.60L1805.22,2252.60Z" fill="none" stroke="#c9a02a" stroke-width="2.3" stroke-linejoin="miter"/>
<path d="M1835.56,2241.90L1843.66,2255.90L1827.46,2255.90Z" fill="none" stroke="#c9a02a" stroke-width="2.3" stroke-linejoin="miter"/>
<path d="M1857.81,2243.70L1865.90,2257.70L1849.71,2257.70Z" fill="none" stroke="#c9a02a" stroke-width="2.3" stroke-linejoin="miter"/>
<path d="M1880.05,2244.30L1888.15,2258.30L1871.95,2258.30Z" fill="none" stroke="#c9a02a" stroke-width="2.3" stroke-linejoin="miter"/>
<path d="M1902.30,2242.30L1910.39,2256.30L1894.20,2256.30Z" fill="none" stroke="#c9a02a" stroke-width="2.3" stroke-linejoin="miter"/>
<path d="M1924.54,2239.10L1932.64,2253.10L1916.44,2253.10Z" fill="none" stroke="#c9a02a" stroke-width="2.3" stroke-linejoin="miter"/>
<path d="M1946.79,2237.80L1954.88,2251.80L1938.69,2251.80Z" fill="none" stroke="#c9a02a" stroke-width="2.3" stroke-linejoin="miter"/>
<path d="M1969.03,2237.80L1977.13,2251.80L1960.93,2251.80Z" fill="none" stroke="#c9a02a" stroke-width="2.3" stroke-linejoin="miter"/>
<path d="M1991.28,2235.40L1999.38,2249.40L1983.18,2249.40Z" fill="none" stroke="#c9a02a" stroke-width="2.3" stroke-linejoin="miter"/>
<path d="M2013.52,2237.30L2021.62,2251.30L2005.42,2251.30Z" fill="none" stroke="#c9a02a" stroke-width="2.3" stroke-linejoin="miter"/>
<path d="M1211.20,1757.40 L1215.28,1765.57 L1220.96,1776.91 L1227.66,1790.33 L1234.86,1804.71 L1241.98,1818.97 L1248.50,1832.00 L1254.47,1843.98 L1260.34,1855.82 L1266.14,1867.54 L1271.92,1879.13 L1277.69,1890.62 L1283.50,1902.00 L1289.45,1913.49 L1295.54,1925.11 L1301.62,1936.62 L1307.57,1947.78 L1313.25,1958.32 L1318.50,1968.00 L1323.25,1976.64 L1327.57,1984.39 L1331.62,1991.54 L1335.54,1998.34 L1339.45,2005.07 L1343.50,2012.00 L1347.54,2018.87 L1351.44,2025.41 L1355.33,2031.87 L1359.37,2038.53 L1363.71,2045.62 L1368.50,2053.40 L1373.83,2062.14 L1379.61,2071.70 L1385.68,2081.69 L1391.90,2091.75 L1398.13,2101.51 L1404.20,2110.60 L1410.15,2119.08 L1416.10,2127.26 L1422.06,2135.14 L1428.01,2142.73 L1433.96,2150.01 L1439.90,2157.00 L1445.82,2163.67 L1451.71,2170.02 L1457.59,2176.08 L1463.50,2181.86 L1469.46,2187.39 L1475.50,2192.70 L1481.65,2197.78 L1487.90,2202.62 L1494.19,2207.21 L1500.49,2211.56 L1506.74,2215.65 L1512.90,2219.50 L1518.95,2223.08 L1524.93,2226.40 L1530.86,2229.46 L1536.76,2232.30 L1542.67,2234.94 L1548.60,2237.40 L1554.55,2239.65 L1560.50,2241.67 L1566.45,2243.48 L1572.40,2245.12 L1578.35,2246.62 L1584.30,2248.00 L1590.25,2249.22 L1596.20,2250.23 L1602.15,2251.11 L1608.10,2251.89 L1614.05,2252.64 L1620.00,2253.40 L1625.97,2254.17 L1631.95,2254.90 L1637.94,2255.60 L1643.90,2256.26 L1649.83,2256.90 L1655.70,2257.50 L1661.26,2258.08 L1666.47,2258.62 L1671.64,2259.13 L1677.09,2259.61 L1683.10,2260.07 L1690.00,2260.50 L1697.96,2260.92 L1706.78,2261.33 L1716.17,2261.72 L1725.86,2262.06 L1735.56,2262.32 L1745.00,2262.50 L1754.22,2262.59 L1763.47,2262.62 L1772.74,2262.58 L1782.00,2262.46 L1791.26,2262.27 L1800.50,2262.00 L1809.72,2261.63 L1818.92,2261.15 L1828.11,2260.60 L1837.30,2260.00 L1846.50,2259.39 L1855.70,2258.80 L1864.91,2258.18 L1874.14,2257.50 L1883.36,2256.81 L1892.59,2256.14 L1901.80,2255.56 L1911.00,2255.10 L1920.27,2254.77 L1929.63,2254.55 L1938.99,2254.40 L1948.23,2254.31 L1957.27,2254.25 L1966.00,2254.20 L1974.90,2254.18 L1984.15,2254.22 L1993.19,2254.29 L2001.46,2254.38 L2008.42,2254.45 L2013.50,2254.50" fill="none" stroke="#4a4a4a" stroke-width="3.4" stroke-linejoin="round" stroke-linecap="butt"/>
<path d="M1212.20,1756.40 L1216.28,1764.57 L1221.96,1775.91 L1228.66,1789.33 L1235.86,1803.71 L1242.98,1817.97 L1249.50,1831.00 L1255.47,1842.98 L1261.34,1854.82 L1267.14,1866.54 L1272.92,1878.13 L1278.69,1889.62 L1284.50,1901.00 L1290.45,1912.49 L1296.54,1924.11 L1302.62,1935.62 L1308.57,1946.78 L1314.25,1957.32 L1319.50,1967.00 L1324.25,1975.64 L1328.57,1983.39 L1332.62,1990.54 L1336.54,1997.34 L1340.45,2004.07 L1344.50,2011.00 L1348.54,2017.87 L1352.44,2024.41 L1356.33,2030.87 L1360.37,2037.53 L1364.71,2044.62 L1369.50,2052.40 L1374.83,2061.14 L1380.61,2070.70 L1386.68,2080.69 L1392.90,2090.75 L1399.13,2100.51 L1405.20,2109.60 L1411.15,2118.08 L1417.10,2126.26 L1423.06,2134.14 L1429.01,2141.73 L1434.96,2149.01 L1440.90,2156.00 L1446.83,2162.67 L1452.74,2169.02 L1458.66,2175.08 L1464.58,2180.86 L1470.52,2186.39 L1476.50,2191.70 L1482.53,2196.78 L1488.60,2201.62 L1494.69,2206.21 L1500.79,2210.56 L1506.86,2214.65 L1512.90,2218.50 L1518.89,2222.08 L1524.85,2225.40 L1530.79,2228.46 L1536.73,2231.30 L1542.66,2233.94 L1548.60,2236.40 L1554.55,2238.65 L1560.50,2240.67 L1566.45,2242.48 L1572.40,2244.12 L1578.35,2245.62 L1584.30,2247.00 L1590.25,2248.22 L1596.20,2249.23 L1602.15,2250.11 L1608.10,2250.89 L1614.05,2251.64 L1620.00,2252.40 L1625.97,2253.17 L1631.95,2253.90 L1637.94,2254.60 L1643.90,2255.26 L1649.83,2255.90 L1655.70,2256.50 L1661.26,2257.08 L1666.47,2257.62 L1671.64,2258.13 L1677.09,2258.61 L1683.10,2259.07 L1690.00,2259.50 L1697.96,2259.92 L1706.78,2260.33 L1716.17,2260.72 L1725.86,2261.06 L1735.56,2261.32 L1745.00,2261.50 L1754.22,2261.59 L1763.47,2261.62 L1772.74,2261.58 L1782.00,2261.46 L1791.26,2261.27 L1800.50,2261.00 L1809.72,2260.63 L1818.92,2260.15 L1828.11,2259.60 L1837.30,2259.00 L1846.50,2258.39 L1855.70,2257.80 L1864.91,2257.18 L1874.14,2256.50 L1883.36,2255.81 L1892.59,2255.14 L1901.80,2254.56 L1911.00,2254.10 L1920.27,2253.77 L1929.63,2253.55 L1938.99,2253.40 L1948.23,2253.31 L1957.27,2253.25 L1966.00,2253.20 L1974.90,2253.18 L1984.15,2253.22 L1993.19,2253.29 L2001.46,2253.38 L2008.42,2253.45 L2013.50,2253.50" fill="none" stroke="#ee3b3f" stroke-width="3.4" stroke-linejoin="round" stroke-linecap="butt"/>
<path d="M1213.50,1752.90 L1217.58,1761.07 L1223.26,1772.41 L1229.96,1785.83 L1237.16,1800.21 L1244.28,1814.47 L1250.80,1827.50 L1256.77,1839.48 L1262.64,1851.32 L1268.44,1863.04 L1274.22,1874.63 L1279.99,1886.12 L1285.80,1897.50 L1291.75,1908.99 L1297.84,1920.61 L1303.92,1932.12 L1309.87,1943.28 L1315.55,1953.82 L1320.80,1963.50 L1325.55,1972.14 L1329.87,1979.89 L1333.92,1987.04 L1337.84,1993.84 L1341.75,2000.57 L1345.80,2007.50 L1349.84,2014.37 L1353.74,2020.91 L1357.63,2027.37 L1361.67,2034.03 L1366.01,2041.12 L1370.80,2048.90 L1376.13,2057.64 L1381.91,2067.20 L1387.98,2077.19 L1394.20,2087.25 L1400.43,2097.01 L1406.50,2106.10 L1412.45,2114.58 L1418.40,2122.76 L1424.36,2130.64 L1430.31,2138.23 L1436.26,2145.51 L1442.20,2152.50 L1448.14,2159.17 L1454.09,2165.52 L1460.04,2171.58 L1465.97,2177.36 L1471.90,2182.89 L1477.80,2188.20 L1483.67,2193.28 L1489.51,2198.12 L1495.34,2202.71 L1501.17,2207.06 L1507.02,2211.15 L1512.90,2215.00 L1518.82,2218.58 L1524.76,2221.90 L1530.71,2224.96 L1536.68,2227.80 L1542.64,2230.44 L1548.60,2232.90 L1554.55,2235.15 L1560.50,2237.17 L1566.45,2238.98 L1572.40,2240.62 L1578.35,2242.12 L1584.30,2243.50 L1590.25,2244.72 L1596.20,2245.73 L1602.15,2246.61 L1608.10,2247.39 L1614.05,2248.14 L1620.00,2248.90 L1625.97,2249.67 L1631.95,2250.40 L1637.94,2251.10 L1643.90,2251.76 L1649.83,2252.40 L1655.70,2253.00 L1661.26,2253.58 L1666.47,2254.12 L1671.64,2254.63 L1677.09,2255.11 L1683.10,2255.57 L1690.00,2256.00 L1697.96,2256.42 L1706.78,2256.83 L1716.17,2257.22 L1725.86,2257.56 L1735.56,2257.82 L1745.00,2258.00 L1754.22,2258.09 L1763.47,2258.12 L1772.74,2258.08 L1782.00,2257.96 L1791.26,2257.77 L1800.50,2257.50 L1809.72,2257.13 L1818.92,2256.65 L1828.11,2256.10 L1837.30,2255.50 L1846.50,2254.89 L1855.70,2254.30 L1864.91,2253.68 L1874.14,2253.00 L1883.36,2252.31 L1892.59,2251.64 L1901.80,2251.06 L1911.00,2250.60 L1920.27,2250.27 L1929.63,2250.05 L1938.99,2249.90 L1948.23,2249.81 L1957.27,2249.75 L1966.00,2249.70 L1974.90,2249.68 L1984.15,2249.72 L1993.19,2249.79 L2001.46,2249.88 L2008.42,2249.95 L2013.50,2250.00" fill="none" stroke="#3d74e8" stroke-width="3.4" stroke-linejoin="round" stroke-linecap="butt"/>
<path d="M1212.40,1756.20 L1216.48,1764.37 L1222.16,1775.71 L1228.86,1789.12 L1236.06,1803.51 L1243.18,1817.77 L1249.70,1830.80 L1255.67,1842.78 L1261.54,1854.62 L1267.34,1866.34 L1273.12,1877.93 L1278.89,1889.42 L1284.70,1900.80 L1290.65,1912.29 L1296.74,1923.91 L1302.83,1935.42 L1308.77,1946.58 L1314.45,1957.12 L1319.70,1966.80 L1324.45,1975.44 L1328.77,1983.19 L1332.83,1990.34 L1336.74,1997.14 L1340.65,2003.87 L1344.70,2010.80 L1348.74,2017.67 L1352.64,2024.21 L1356.53,2030.68 L1360.57,2037.33 L1364.91,2044.42 L1369.70,2052.20 L1375.03,2060.94 L1380.81,2070.50 L1386.88,2080.49 L1393.10,2090.55 L1399.33,2100.31 L1405.40,2109.40 L1411.35,2117.88 L1417.30,2126.06 L1423.26,2133.94 L1429.21,2141.53 L1435.16,2148.81 L1441.10,2155.80 L1447.03,2162.47 L1452.95,2168.82 L1458.87,2174.88 L1464.79,2180.66 L1470.73,2186.19 L1476.70,2191.50 L1482.70,2196.58 L1488.74,2201.42 L1494.79,2206.01 L1500.85,2210.36 L1506.89,2214.45 L1512.90,2218.30 L1518.88,2221.88 L1524.84,2225.20 L1530.78,2228.26 L1536.72,2231.10 L1542.66,2233.74 L1548.60,2236.20 L1554.55,2238.45 L1560.50,2240.47 L1566.45,2242.28 L1572.40,2243.92 L1578.35,2245.42 L1584.30,2246.80 L1590.25,2248.02 L1596.20,2249.03 L1602.15,2249.91 L1608.10,2250.69 L1614.05,2251.44 L1620.00,2252.20 L1625.97,2252.97 L1631.95,2253.70 L1637.94,2254.40 L1643.90,2255.06 L1649.83,2255.70 L1655.70,2256.30 L1661.26,2256.88 L1666.47,2257.42 L1671.64,2257.93 L1677.09,2258.41 L1683.10,2258.87 L1690.00,2259.30 L1697.96,2259.72 L1706.78,2260.13 L1716.17,2260.52 L1725.86,2260.86 L1735.56,2261.12 L1745.00,2261.30 L1754.22,2261.39 L1763.47,2261.42 L1772.74,2261.38 L1782.00,2261.26 L1791.26,2261.07 L1800.50,2260.80 L1809.72,2260.43 L1818.92,2259.95 L1828.11,2259.40 L1837.30,2258.80 L1846.50,2258.19 L1855.70,2257.60 L1864.91,2256.98 L1874.14,2256.30 L1883.36,2255.61 L1892.59,2254.94 L1901.80,2254.36 L1911.00,2253.90 L1920.27,2253.57 L1929.63,2253.35 L1938.99,2253.20 L1948.23,2253.11 L1957.27,2253.05 L1966.00,2253.00 L1974.90,2252.98 L1984.15,2253.02 L1993.19,2253.09 L2001.46,2253.18 L2008.42,2253.25 L2013.50,2253.30" fill="none" stroke="#4db56b" stroke-width="3.4" stroke-linejoin="round" stroke-linecap="butt"/>
<path d="M1212.50,1755.90 L1216.58,1764.07 L1222.26,1775.41 L1228.96,1788.83 L1236.16,1803.21 L1243.28,1817.47 L1249.80,1830.50 L1255.77,1842.48 L1261.64,1854.32 L1267.44,1866.04 L1273.22,1877.63 L1278.99,1889.12 L1284.80,1900.50 L1290.75,1911.99 L1296.84,1923.61 L1302.92,1935.12 L1308.87,1946.28 L1314.55,1956.82 L1319.80,1966.50 L1324.55,1975.14 L1328.87,1982.89 L1332.92,1990.04 L1336.84,1996.84 L1340.75,2003.57 L1344.80,2010.50 L1348.84,2017.37 L1352.74,2023.91 L1356.63,2030.37 L1360.67,2037.03 L1365.01,2044.12 L1369.80,2051.90 L1375.13,2060.64 L1380.91,2070.20 L1386.98,2080.19 L1393.20,2090.25 L1399.43,2100.01 L1405.50,2109.10 L1411.45,2117.58 L1417.40,2125.76 L1423.36,2133.64 L1429.31,2141.23 L1435.26,2148.51 L1441.20,2155.50 L1447.13,2162.17 L1453.06,2168.52 L1458.98,2174.58 L1464.90,2180.36 L1470.84,2185.89 L1476.80,2191.20 L1482.79,2196.28 L1488.81,2201.12 L1494.84,2205.71 L1500.88,2210.06 L1506.90,2214.15 L1512.90,2218.00 L1518.87,2221.58 L1524.83,2224.90 L1530.78,2227.96 L1536.71,2230.80 L1542.65,2233.44 L1548.60,2235.90 L1554.55,2238.15 L1560.50,2240.17 L1566.45,2241.98 L1572.40,2243.62 L1578.35,2245.12 L1584.30,2246.50 L1590.25,2247.72 L1596.20,2248.73 L1602.15,2249.61 L1608.10,2250.39 L1614.05,2251.14 L1620.00,2251.90 L1625.97,2252.67 L1631.95,2253.40 L1637.94,2254.10 L1643.90,2254.76 L1649.83,2255.40 L1655.70,2256.00 L1661.26,2256.58 L1666.47,2257.12 L1671.64,2257.63 L1677.09,2258.11 L1683.10,2258.57 L1690.00,2259.00 L1697.96,2259.42 L1706.78,2259.83 L1716.17,2260.22 L1725.86,2260.56 L1735.56,2260.82 L1745.00,2261.00 L1754.22,2261.09 L1763.47,2261.12 L1772.74,2261.08 L1782.00,2260.96 L1791.26,2260.77 L1800.50,2260.50 L1809.72,2260.13 L1818.92,2259.65 L1828.11,2259.10 L1837.30,2258.50 L1846.50,2257.89 L1855.70,2257.30 L1864.91,2256.68 L1874.14,2256.00 L1883.36,2255.31 L1892.59,2254.64 L1901.80,2254.06 L1911.00,2253.60 L1920.27,2253.27 L1929.63,2253.05 L1938.99,2252.90 L1948.23,2252.81 L1957.27,2252.75 L1966.00,2252.70 L1974.90,2252.68 L1984.15,2252.72 L1993.19,2252.79 L2001.46,2252.88 L2008.42,2252.95 L2013.50,2253.00" fill="none" stroke="#ae6ff0" stroke-width="3.4" stroke-linejoin="round" stroke-linecap="butt"/>
<path d="M1212.70,1755.40 L1216.78,1763.57 L1222.46,1774.91 L1229.16,1788.33 L1236.36,1802.71 L1243.48,1816.97 L1250.00,1830.00 L1255.97,1841.98 L1261.84,1853.82 L1267.64,1865.54 L1273.42,1877.13 L1279.19,1888.62 L1285.00,1900.00 L1290.95,1911.49 L1297.04,1923.11 L1303.12,1934.62 L1309.07,1945.78 L1314.75,1956.32 L1320.00,1966.00 L1324.75,1974.64 L1329.07,1982.39 L1333.12,1989.54 L1337.04,1996.34 L1340.95,2003.07 L1345.00,2010.00 L1349.04,2016.87 L1352.94,2023.41 L1356.83,2029.87 L1360.87,2036.53 L1365.21,2043.62 L1370.00,2051.40 L1375.33,2060.14 L1381.11,2069.70 L1387.18,2079.69 L1393.40,2089.75 L1399.63,2099.51 L1405.70,2108.60 L1411.65,2117.08 L1417.60,2125.26 L1423.56,2133.14 L1429.51,2140.73 L1435.46,2148.01 L1441.40,2155.00 L1447.34,2161.67 L1453.26,2168.02 L1459.19,2174.08 L1465.11,2179.86 L1471.05,2185.39 L1477.00,2190.70 L1482.97,2195.78 L1488.95,2200.62 L1494.94,2205.21 L1500.94,2209.56 L1506.92,2213.65 L1512.90,2217.50 L1518.86,2221.08 L1524.81,2224.40 L1530.76,2227.46 L1536.71,2230.30 L1542.65,2232.94 L1548.60,2235.40 L1554.55,2237.65 L1560.50,2239.67 L1566.45,2241.48 L1572.40,2243.12 L1578.35,2244.62 L1584.30,2246.00 L1590.25,2247.22 L1596.20,2248.23 L1602.15,2249.11 L1608.10,2249.89 L1614.05,2250.64 L1620.00,2251.40 L1625.97,2252.17 L1631.95,2252.90 L1637.94,2253.60 L1643.90,2254.26 L1649.83,2254.90 L1655.70,2255.50 L1661.26,2256.08 L1666.47,2256.62 L1671.64,2257.13 L1677.09,2257.61 L1683.10,2258.07 L1690.00,2258.50 L1697.96,2258.92 L1706.78,2259.33 L1716.17,2259.72 L1725.86,2260.06 L1735.56,2260.32 L1745.00,2260.50 L1754.22,2260.59 L1763.47,2260.62 L1772.74,2260.58 L1782.00,2260.46 L1791.26,2260.27 L1800.50,2260.00 L1809.72,2259.63 L1818.92,2259.15 L1828.11,2258.60 L1837.30,2258.00 L1846.50,2257.39 L1855.70,2256.80 L1864.91,2256.18 L1874.14,2255.50 L1883.36,2254.81 L1892.59,2254.14 L1901.80,2253.56 L1911.00,2253.10 L1920.27,2252.77 L1929.63,2252.55 L1938.99,2252.40 L1948.23,2252.31 L1957.27,2252.25 L1966.00,2252.20 L1974.90,2252.18 L1984.15,2252.22 L1993.19,2252.29 L2001.46,2252.38 L2008.42,2252.45 L2013.50,2252.50" fill="none" stroke="#c9a02a" stroke-width="3.4" stroke-linejoin="round" stroke-linecap="butt"/>
</g>
<line x1="1633.8" y1="1753.8" x2="1713.8" y2="1753.8" stroke="#4a4a4a" stroke-width="4.3" stroke-linecap="round"/>
<text x="1723.5" y="1766.1" font-family="'Liberation Sans', Arial, sans-serif" font-size="36.5" font-weight="normal" text-anchor="start" fill="#000" >0 h</text>
<line x1="1786.7" y1="1753.8" x2="1866.7" y2="1753.8" stroke="#ee3b3f" stroke-width="4.3" stroke-linecap="round"/>
<text x="1876.5" y="1766.1" font-family="'Liberation Sans', Arial, sans-serif" font-size="36.5" font-weight="normal" text-anchor="start" fill="#000" >1 h</text>
<line x1="1633.8" y1="1798.5" x2="1713.8" y2="1798.5" stroke="#3d74e8" stroke-width="4.3" stroke-linecap="round"/>
<text x="1723.5" y="1810.8" font-family="'Liberation Sans', Arial, sans-serif" font-size="36.5" font-weight="normal" text-anchor="start" fill="#000" >2 h</text>
<line x1="1786.7" y1="1798.5" x2="1866.7" y2="1798.5" stroke="#4db56b" stroke-width="4.3" stroke-linecap="round"/>
<text x="1876.5" y="1810.8" font-family="'Liberation Sans', Arial, sans-serif" font-size="36.5" font-weight="normal" text-anchor="start" fill="#000" >4 h</text>
<line x1="1633.8" y1="1843.2" x2="1713.8" y2="1843.2" stroke="#ae6ff0" stroke-width="4.3" stroke-linecap="round"/>
<text x="1723.5" y="1855.5" font-family="'Liberation Sans', Arial, sans-serif" font-size="36.5" font-weight="normal" text-anchor="start" fill="#000" >8 h</text>
<line x1="1786.7" y1="1843.2" x2="1866.7" y2="1843.2" stroke="#c9a02a" stroke-width="4.3" stroke-linecap="round"/>
<text x="1876.5" y="1855.5" font-family="'Liberation Sans', Arial, sans-serif" font-size="36.5" font-weight="normal" text-anchor="start" fill="#000" >24 h</text>
</svg></body></html>
